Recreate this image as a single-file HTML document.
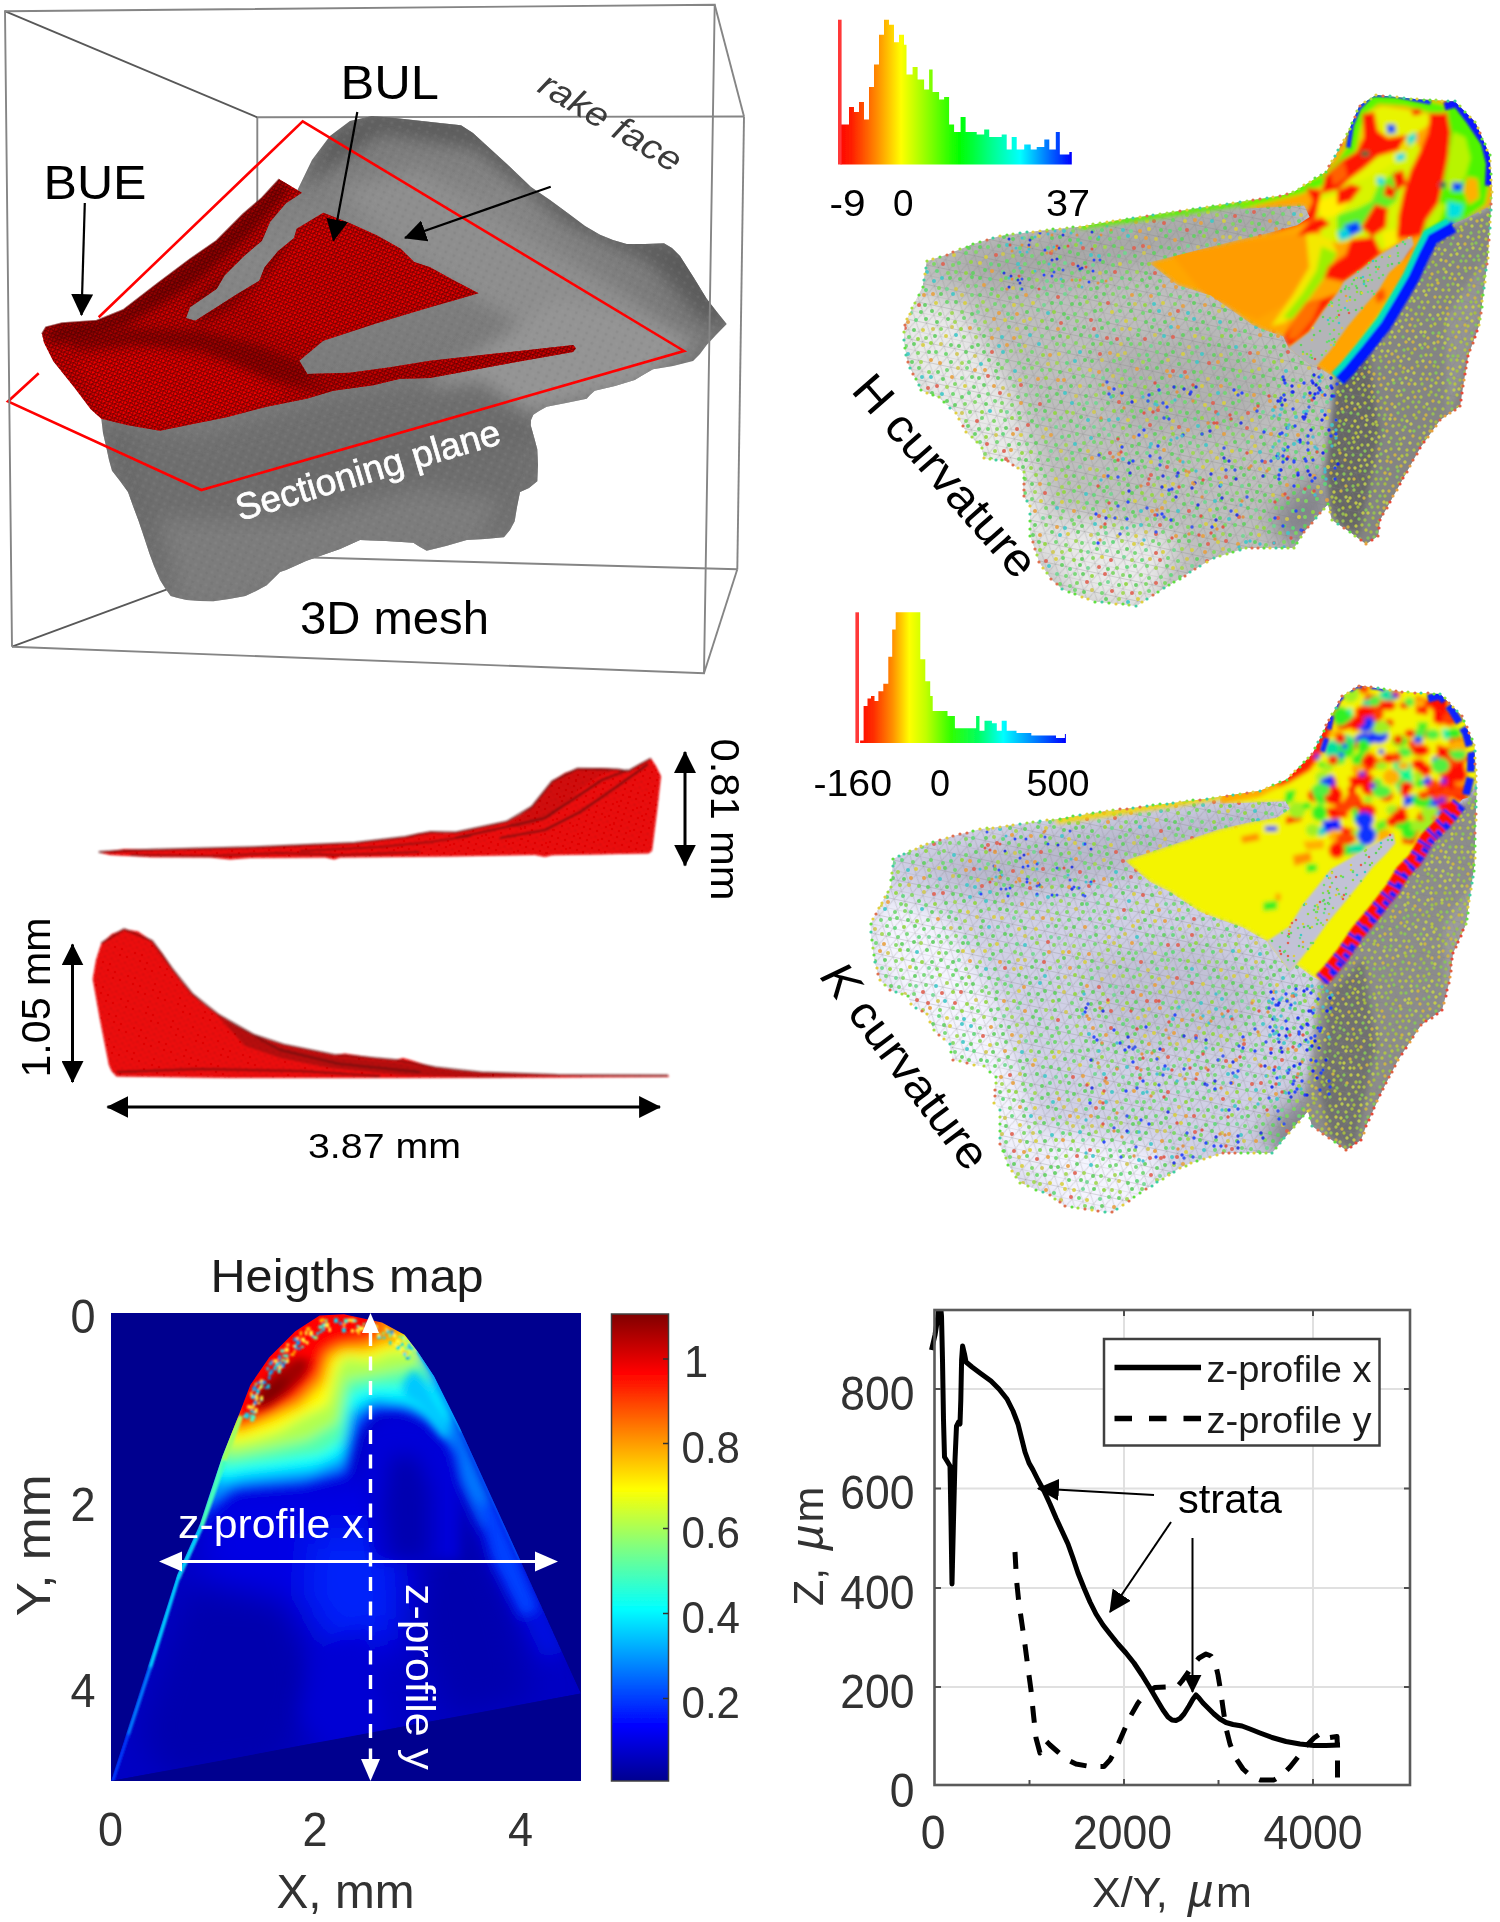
<!DOCTYPE html>
<html><head><meta charset="utf-8"><title>Figure</title>
<style>
html,body{margin:0;padding:0;background:#fff;}
body{width:1500px;height:1922px;overflow:hidden;font-family:"Liberation Sans",sans-serif;}
svg{display:block}
text{font-family:"Liberation Sans",sans-serif;}
</style></head><body>
<svg width="1500" height="1922" viewBox="0 0 1500 1922">
<defs>
<marker id="ah" viewBox="0 0 10 10" refX="9.5" refY="5" markerWidth="22" markerHeight="22" markerUnits="userSpaceOnUse" orient="auto-start-reverse"><path d="M0,0 L10,5 L0,10 Z" fill="#000"/></marker>
<marker id="ahs" viewBox="0 0 10 10" refX="9.5" refY="5" markerWidth="18" markerHeight="18" markerUnits="userSpaceOnUse" orient="auto-start-reverse"><path d="M0,0 L10,5 L0,10 Z" fill="#000"/></marker>
<marker id="ahw" viewBox="0 0 10 10" refX="9.5" refY="5" markerWidth="20" markerHeight="20" markerUnits="userSpaceOnUse" orient="auto-start-reverse"><path d="M0,0 L10,5 L0,10 Z" fill="#fff"/></marker>
</defs>
<filter id="gblur" x="0" y="0" width="1500" height="1922" filterUnits="userSpaceOnUse"><feGaussianBlur stdDeviation="0.6"/></filter>
<rect width="1500" height="1922" fill="#fff"/>
<g filter="url(#gblur)">
<rect width="1500" height="1922" fill="#fff"/>
<!-- ===== 3D mesh (top left) ===== -->
<g id="mesh3d">
<defs>
<linearGradient id="gbody" x1="0" y1="0" x2="0.3" y2="1"><stop offset="0" stop-color="#6e6e6e"/><stop offset="0.35" stop-color="#868686"/><stop offset="0.7" stop-color="#747474"/><stop offset="1" stop-color="#787878"/></linearGradient>
<filter id="mb2" x="-10%" y="-10%" width="120%" height="120%"><feGaussianBlur stdDeviation="2"/></filter>
<filter id="mb5" x="-20%" y="-20%" width="140%" height="140%"><feGaussianBlur stdDeviation="5"/></filter>
<filter id="mb9" x="-30%" y="-30%" width="160%" height="160%"><feGaussianBlur stdDeviation="9"/></filter>
<filter id="mb07" x="-5%" y="-5%" width="110%" height="110%"><feGaussianBlur stdDeviation="0.700000"/></filter>
<pattern id="rmesh" width="5" height="4.4" patternUnits="userSpaceOnUse" patternTransform="rotate(-20)"><rect width="5" height="4.4" fill="none"/><path d="M0,0 L5,0 M0,0 L2.5,4.4 L5,0" stroke="#400000" stroke-width="1.1" fill="none" opacity="0.7"/></pattern>
<pattern id="gmesh" width="9" height="7" patternUnits="userSpaceOnUse" patternTransform="rotate(25)"><circle cx="2" cy="2" r="1.6" fill="#a0a0a0" opacity="0.13"/><circle cx="6.5" cy="5" r="1.4" fill="#505050" opacity="0.12"/></pattern>
<clipPath id="bodyclip"><polygon id="bodypoly" points="296,193 312,160 330,136 350,121 372,116 395,118 413,120 440,123 461,125.3 473,133 485,144 508,165 531,187 550,200 568,213.3 585,226 600,234.7 613,240 626.7,244 645,244 664,243.2 672,248 680,256 694,278 706.7,298.7 717,312 726.7,324 716,335 706.7,345 700,354 693,361 673,366 653,369.3 643,375 634.7,380 615,386 594.7,390.7 590,395 586.7,398.7 566,403 546.7,406.7 539,411 533.3,414.7 531,420 530.7,425.3 534,437 537.3,449.3 538,465 537.3,481.3 529,488 520,492 517,507 514.7,521.3 510,530 504,537.3 485,539 466.7,540 446,546 426.7,550.7 420,547 413.3,542.7 386,541 360,540 340,549 320,556 306,561 293.3,566.7 286,570 280,572 273,579 266.7,585.3 256,591 245.3,596 229,599 213.3,601.3 200,601 186.7,600 178,598 170.7,596 165,588 160,580 154,566 149.3,553.3 144,537 138.7,521.3 133,506 128,492 120,481 112,470.7 109,460 106.7,449.3 103,433 101.3,418.7 100,380 123,313 158,286 190,262 216,243 243,216 279,182"/></clipPath>
<clipPath id="redclip"><path id="redpath" d="M42,334 L46,327.3 L62,323.3 L96.7,320.7 L123.3,310 L158,283.3 L190,259.3 L216.7,240.7 L243.3,214 L262,198 L279.3,179.3 L302,192.7 L286,203.3 L270,222 L262,240.7 L243.3,256.7 L224.7,275.3 L216.7,288.7 L190,307.3 L186,318 L195.3,320.7 L216.7,307.3 L235.3,295.3 L259.3,280.7 L264.7,267.3 L278,251.3 L294,238 L296.7,228.7 L323.3,212.7 L350,223.3 L376.7,235.3 L400.7,248.7 L414,262 L430,267.3 L455,281 L478.7,293.3 L452,301 L430,307.3 L376.7,323.3 L323.3,340.7 L299.3,360.7 L307.3,374 L350,372.7 L390,367.3 L430,360.7 L500,353 L573.300000,345 L576,348.5 L573,352 L500,365 L430,378 L400,378.7 L373.3,385.3 L333.3,390.7 L306.7,398.7 L266.7,406.7 L226.7,417.3 L186.7,425.3 L160,430.7 L128,425.3 L101.3,418.7 L90.7,409.3 L74.7,388 L53.3,361.3 L44,342.7 Z"/></clipPath>
</defs>
<!-- bounding box (back lines) -->
<g stroke="#858585" stroke-width="1.9" fill="none">
<line x1="257.3" y1="117.3" x2="744" y2="116.5"/>
<line x1="257.3" y1="117.3" x2="257.300000" y2="560"/>
<line x1="257.3" y1="556" x2="737.3" y2="569.3"/>
<line x1="744" y1="116.5" x2="737.3" y2="569.3"/>
</g>
<g stroke="#585858" stroke-width="1.8" fill="none">
<line x1="4.8" y1="11.2" x2="257.3" y2="117.3"/>
<line x1="12" y1="646.7" x2="257.3" y2="556"/>
</g>
<!-- gray body -->
<g clip-path="url(#bodyclip)">
<rect x="90" y="100" width="650" height="520" fill="url(#gbody)"/>
<g filter="url(#mb9)">
<polygon points="300,190 330,135 372,112 470,118 560,198 640,238 690,246 730,324 705,322 650,262 565,222 475,148 380,132" fill="#5a5a5a"/>
<polygon points="340,190 420,170 520,230 620,290 690,340 600,370 480,300 400,250" fill="#8e8e8e"/>
<polygon points="560,300 700,340 640,385 540,410 420,420 430,380" fill="#949494"/>
<polygon points="100,420 200,440 330,400 480,380 540,420 540,480 500,540 400,545 300,565 250,600 170,600 130,500" fill="#6e6e6e"/>
<polygon points="250,470 520,410 540,440 300,500" fill="#6a6a6a"/>
<polygon points="160,520 300,520 420,490 500,500 480,540 300,570 240,600 180,600" fill="#7c7c7c"/>
<polygon points="102,418 130,430 150,520 170,596 140,540 105,450" fill="#6a6a6a"/>
</g>
<rect x="90" y="100" width="650" height="520" fill="url(#gmesh)"/>
</g>
<!-- red BUE/BUL -->
<g clip-path="url(#redclip)">
<rect x="30" y="170" width="560" height="270" fill="#de0000"/>
<g filter="url(#mb5)">
<polygon points="42,334 62,323 97,320 123,310 158,283 216,240 262,198 279,179 290,190 250,235 200,280 160,305 125,325 90,335 55,345" fill="#8e0000"/>
<polygon points="60,340 130,328 200,330 260,345 320,370 330,395 270,380 200,350 130,345 80,350" fill="#a00000"/>
<polygon points="75,360 150,350 230,365 290,395 230,415 160,428 105,415" fill="#f60000"/>
<polygon points="300,235 325,215 400,250 470,292 380,320 320,338 270,330 255,300" fill="#ee0000"/>
<polygon points="190,300 262,245 296,230 270,270 230,310 200,325" fill="#a80000"/>
<polygon points="300,378 430,364 573,346 573,352 430,378 330,392" fill="#c80000"/>
</g>
<rect x="30" y="170" width="560" height="270" fill="url(#rmesh)"/>
</g>
<path d="M42,334 L46,327.3 L62,323.3 L96.7,320.7 L123.3,310 L158,283.3 L190,259.3 L216.7,240.7 L243.3,214 L262,198 L279.3,179.3" fill="none" stroke="#6a0000" stroke-width="2" opacity="0.6"/>
<!-- sectioning plane (red outline) -->
<g stroke="#ff0000" stroke-width="2.6" fill="none" stroke-linejoin="miter">
<polyline points="98.7,317.3 302.7,121.3 684,351 201.3,490 8,401.500000 38.7,373.3"/>
</g>
<!-- bounding box front lines -->
<g stroke="#858585" stroke-width="1.9" fill="none">
<polyline points="12,646.7 5,11.2 714.7,4.8 704,673.3 12,646.7"/>
<line x1="714.7" y1="4.8" x2="744" y2="116.5"/>
<line x1="704" y1="673.3" x2="737.3" y2="569.3"/>
</g>
<!-- labels -->
<text x="43.5" y="198.700000" font-size="49" fill="#000" textLength="103" lengthAdjust="spacingAndGlyphs">BUE</text>
<text x="340.5" y="98.700000" font-size="49" fill="#000" textLength="98.5" lengthAdjust="spacingAndGlyphs">BUL</text>
<text x="300" y="633.500000" font-size="45.5" fill="#000" textLength="189" lengthAdjust="spacingAndGlyphs">3D mesh</text>
<text transform="translate(536,91) rotate(31)" font-size="35" font-style="italic" fill="#3a3a3a" textLength="160" lengthAdjust="spacingAndGlyphs">rake face</text>
<text transform="translate(240,521) rotate(-16.5)" font-size="37" fill="#fff" stroke="#fff" stroke-width="0.7" textLength="274" lengthAdjust="spacingAndGlyphs">Sectioning plane</text>
<g stroke="#000" stroke-width="2.2" fill="none">
<line x1="84.8" y1="203" x2="81.5" y2="315" marker-end="url(#ah)"/>
<line x1="357.3" y1="112" x2="333.5" y2="240.5" marker-end="url(#ah)"/>
<line x1="550.7" y1="186.7" x2="405" y2="237.8" marker-end="url(#ah)"/>
</g>
</g>
<!-- ===== curvature panels (right) ===== -->
<g id="curv">
<defs>
<filter id="cb05" x="-30%" y="-30%" width="160%" height="160%"><feGaussianBlur stdDeviation="0.5"/></filter>
<filter id="cb1" x="-30%" y="-30%" width="160%" height="160%"><feGaussianBlur stdDeviation="1"/></filter>
<filter id="cb2" x="-30%" y="-30%" width="160%" height="160%"><feGaussianBlur stdDeviation="2"/></filter>
<filter id="cb3" x="-30%" y="-30%" width="160%" height="160%"><feGaussianBlur stdDeviation="3"/></filter>
<filter id="cb6" x="-30%" y="-30%" width="160%" height="160%"><feGaussianBlur stdDeviation="6"/></filter>
<filter id="cb12" x="-30%" y="-30%" width="160%" height="160%"><feGaussianBlur stdDeviation="12"/></filter>
<clipPath id="Hclip"><polygon points="926.7,261.3 946.7,254.7 973.3,244.0 1000.0,236.0 1040.0,230.7 1080.0,226.7 1120.0,220.0 1173.3,212.0 1226.7,204.0 1280.0,196.0 1293.4,192.3 1326.5,171.6 1347.1,134.4 1359.5,105.5 1376.1,95.1 1417.4,99.3 1454.6,101.3 1475.3,122.0 1489.7,155.1 1491.8,192.3 1487.7,258.4 1479.4,324.6 1468.0,356.0 1464.0,380.0 1460.0,406.0 1440.0,420.0 1420.0,448.0 1400.0,484.0 1380.0,520.0 1378.0,536.0 1366.0,544.0 1350.0,532.0 1332.0,520.0 1328.0,504.0 1304.0,532.0 1294.0,548.0 1246.0,548.0 1214.0,558.0 1200.0,566.0 1169.4,585.0 1136.3,605.7 1095.0,601.5 1061.9,589.1 1051.3,579.2 1039.2,561.9 1030.5,535.9 1030.5,506.4 1023.6,496.0 1023.6,471.7 1008.0,461.3 983.7,457.9 982.0,447.5 966.4,431.9 956.0,412.8 938.7,397.2 921.3,390.3 907.5,362.5 904.0,340.0 904.8,324.6 914.7,302.7 922.7,286.7"/></clipPath>
<clipPath id="Kclip"><polygon points="893.3,858.7 926.7,844.0 953.3,836.0 980.0,829.3 1020.0,824.0 1060.0,818.7 1100.0,812.0 1153.3,805.3 1206.7,798.7 1260.0,790.7 1286.7,779.5 1312.3,753.9 1329.3,719.7 1342.1,696.3 1359.2,685.6 1401.9,692.0 1440.3,694.1 1461.6,715.5 1474.4,745.3 1476.5,788.0 1474.4,864.8 1465.9,924.5 1453.1,953.0 1449.0,983.0 1442.0,1010.0 1421.0,1025.0 1398.0,1060.0 1383.0,1089.0 1366.0,1126.0 1361.0,1140.0 1346.0,1150.0 1329.0,1138.0 1312.0,1126.0 1308.0,1111.0 1284.5,1138.0 1272.0,1153.0 1223.0,1153.0 1191.0,1163.0 1180.0,1168.0 1145.9,1189.1 1111.7,1212.5 1064.8,1206.1 1050.0,1194.8 1036.1,1189.6 1020.5,1182.7 1008.4,1165.3 999.7,1144.5 999.7,1109.9 994.5,1102.9 996.3,1076.9 984.1,1066.5 973.7,1064.8 953.0,1059.6 949.5,1044.0 933.9,1030.1 926.9,1014.5 911.3,1004.1 907.9,995.5 890.5,990.3 880.1,979.9 874.9,962.5 871.5,940.0 870.7,924.5 878.7,908.0 890.7,886.7"/></clipPath>
<pattern id="tri" width="11" height="19" patternUnits="userSpaceOnUse" patternTransform="rotate(12)"><path d="M0,0 L11,0 M0,9.5 L11,9.5 M0,0 L5.5,9.5 L11,0 M0,19 L5.5,9.5 L11,19" stroke="#808080" stroke-width="0.7" fill="none" opacity="0.4"/></pattern>
</defs>
<linearGradient id="hgH" gradientUnits="userSpaceOnUse" x1="837.9" y1="0" x2="1071.8" y2="0"><stop offset="0" stop-color="#ff0000"/><stop offset="0.06" stop-color="#ff2000"/><stop offset="0.17" stop-color="#ff9000"/><stop offset="0.27" stop-color="#ffff00"/><stop offset="0.38" stop-color="#90ff00"/><stop offset="0.52" stop-color="#00ff00"/><stop offset="0.66" stop-color="#00ff90"/><stop offset="0.78" stop-color="#00ffff"/><stop offset="0.9" stop-color="#0070ff"/><stop offset="1" stop-color="#0000ff"/></linearGradient>
<polygon points="837.9,164.5 837.9,164.5 840.5,164.5 840.5,124.6 846.5,124.6 846.5,124.6 849.0,124.6 849.0,107.1 854.0,107.1 854.0,112.1 859.0,112.1 859.0,102.1 864.0,102.1 864.0,119.6 869.0,119.6 869.0,87.1 874.0,87.1 874.0,64.6 879.0,64.6 879.0,34.7 884.0,34.7 884.0,19.7 889.0,19.7 889.0,24.7 894.0,24.7 894.0,42.2 899.0,42.2 899.0,34.7 904.0,34.7 904.0,44.7 906.5,44.7 906.5,74.6 912.6,74.6 912.6,67.1 917.6,67.1 917.6,79.6 924.1,79.6 924.1,89.6 929.1,89.6 929.1,69.6 932.6,69.6 932.6,92.1 939.1,92.1 939.1,99.6 944.1,99.6 944.1,97.1 949.1,97.1 949.1,124.6 954.1,124.6 954.1,132.0 960.6,132.0 960.6,117.1 965.6,117.1 965.6,132.0 976.7,132.0 976.7,134.5 984.2,134.5 984.2,129.5 989.2,129.5 989.2,137.0 1001.7,137.0 1001.7,134.5 1006.7,134.5 1006.7,149.5 1011.7,149.5 1011.7,137.0 1016.7,137.0 1016.7,149.5 1024.2,149.5 1024.2,144.5 1030.7,144.5 1030.7,149.5 1036.7,149.5 1036.7,147.0 1044.3,147.0 1044.3,139.5 1049.3,139.5 1049.3,149.5 1055.8,149.5 1055.8,132.0 1059.8,132.0 1059.8,154.5 1069.3,154.5 1069.3,152.0 1071.8,152.0 1071.8,164.5 1071.8,164.5" fill="url(#hgH)"/>
<line x1="839.8" y1="19.7" x2="839.8" y2="164.5" stroke="#ff3838" stroke-width="3.6"/>
<linearGradient id="hgK" gradientUnits="userSpaceOnUse" x1="857.2" y1="0" x2="1065.9" y2="0"><stop offset="0" stop-color="#ff0000"/><stop offset="0.08" stop-color="#ff3000"/><stop offset="0.17" stop-color="#ff9000"/><stop offset="0.25" stop-color="#ffff00"/><stop offset="0.33" stop-color="#c0ff00"/><stop offset="0.45" stop-color="#30ff00"/><stop offset="0.58" stop-color="#00ff60"/><stop offset="0.7" stop-color="#00ffff"/><stop offset="0.85" stop-color="#0080ff"/><stop offset="1" stop-color="#0000ff"/></linearGradient>
<polygon points="857.2,743.0 857.2,743.0 860.1,743.0 860.1,740.5 863.6,740.5 863.6,706.0 867.5,706.0 867.5,698.6 871.0,698.6 871.0,696.1 874.5,696.1 874.5,701.1 878.4,701.1 878.4,691.2 883.3,691.2 883.3,683.8 888.3,683.8 888.3,656.7 892.2,656.7 892.2,629.6 895.7,629.6 895.7,612.3 917.9,612.3 917.9,612.3 920.3,612.3 920.3,659.2 925.3,659.2 925.3,681.3 930.2,681.3 930.2,696.1 932.7,696.1 932.7,710.9 947.5,710.9 947.5,715.9 954.9,715.9 954.9,728.2 972.1,728.2 972.1,728.2 976.1,728.2 976.1,715.9 979.5,715.9 979.5,730.7 984.5,730.7 984.5,720.8 991.9,720.8 991.9,723.3 996.8,723.3 996.8,730.7 1001.7,730.7 1001.7,720.8 1006.7,720.8 1006.7,730.7 1016.5,730.7 1016.5,733.1 1031.3,733.1 1031.3,735.6 1046.1,735.6 1046.1,735.6 1056.0,735.6 1056.0,738.1 1064.9,738.1 1064.9,734.1 1065.9,734.1 1065.9,743.0 1065.9,743.0" fill="url(#hgK)"/>
<line x1="857.2" y1="612.3" x2="857.2" y2="743" stroke="#ff3838" stroke-width="3.6"/>
<g font-size="36.5" fill="#000">
<text x="829.5" y="215.5" textLength="36" lengthAdjust="spacingAndGlyphs">-9</text><text x="893" y="215.5" textLength="20.5" lengthAdjust="spacingAndGlyphs">0</text><text x="1046" y="215.5" textLength="44" lengthAdjust="spacingAndGlyphs">37</text>
<text x="813.5" y="796" textLength="78.5" lengthAdjust="spacingAndGlyphs">-160</text><text x="930" y="796" textLength="20" lengthAdjust="spacingAndGlyphs">0</text><text x="1026.5" y="796" textLength="63" lengthAdjust="spacingAndGlyphs">500</text>
</g>
<g clip-path="url(#Hclip)">
<rect x="899" y="90" width="598" height="521" fill="#bebebe"/>
<g filter="url(#cb12)">
<polygon points="896.5,283.2 962.7,308.0 1012.3,390.7 1037.1,473.4 1061.9,580.9 1012.3,535.4 942.0,432.1 888.3,349.4" fill="#e9e9e9"/>
<polygon points="1053.6,514.7 1177.6,535.4 1152.8,613.9 1066.0,597.4" fill="#e9e9e9"/>
<polygon points="929.6,258.4 1078.4,225.4 1293.4,196.4 1293.4,233.6 1144.6,266.7 1004.0,291.5" fill="#a8a8a8"/>
<polygon points="1095.0,349.4 1210.7,328.7 1276.9,374.2 1243.8,432.1 1128.0,432.1" fill="#a8a8a8" opacity="0.6"/>
<polygon points="1268.6,518.9 1322.3,465.1 1332.7,514.7 1297.5,551.9" fill="#808088"/>
</g>
<g filter="url(#cb3)"><polygon points="1489.6,206.5 1465.3,218.7 1453.2,223.9 1430.7,236.0 1422.0,253.3 1411.6,275.9 1399.5,296.7 1383.9,322.7 1364.8,346.9 1347.5,367.7 1336.2,379.0 1332.0,440.0 1326.5,506.5 1340.0,530.0 1367.8,560.0 1500.0,560.0 1500.0,150.0" fill="#848484"/>
<polygon points="1334.7,382.4 1367.8,349.4 1380.2,432.1 1359.5,535.4 1334.7,523.0 1324.4,473.4" fill="#666666"/>
<polygon points="1446.3,316.3 1487.7,254.3 1479.4,324.6 1446.3,423.8" fill="#949494"/></g>
<rect x="899" y="90" width="598" height="521" fill="url(#tri)"/>
<g opacity="0.9"><path d="M1379 97h0M1407 99h0M1391 105h0M1356 125h0M1410 140h0M1451 154h0M1372 171h0M1392 189h0M1428 199h0M1392 204h0M1430 204h0M1471 207h0M1371 213h0M1401 223h0M1102 230h0M1170 231h0M1388 230h0M1078 240h0M1048 248h0M1219 245h0M1341 245h0M1360 246h0M1378 248h0M1109 255h0M1119 256h0M991 264h0M1314 264h0M1397 263h0M937 271h0M1080 270h0M1262 272h0M1325 270h0M990 279h0M1102 281h0M1122 278h0M926 290h0M1021 289h0M1047 294h0M1159 294h0M1197 295h0M1226 294h0M1378 297h0M1061 303h0M1297 304h0M1309 303h0M1345 304h0M1391 306h0M1008 314h0M1038 310h0M1200 311h0M1238 310h0M1283 311h0M916 320h0M1154 320h0M1319 322h0M1336 318h0M1114 330h0M1341 331h0M1307 338h0M1335 338h0M1019 345h0M1111 343h0M1197 347h0M1147 355h0M1240 354h0M1067 363h0M1130 379h0M1061 387h0M1158 386h0M1239 387h0M969 393h0M1305 394h0M1156 418h0M1195 419h0M1077 426h0M1114 426h0M1003 434h0M1062 437h0M1190 443h0M1248 442h0M1072 453h0M1240 450h0M1296 452h0M1057 459h0M1130 461h0M1323 459h0M1108 469h0M1307 467h0M1317 467h0M1264 476h0M1325 484h0M1094 495h0M1087 503h0M1303 510h0M1194 516h0M1134 526h0M1293 528h0M1094 543h0M1113 542h0M1142 560h0M1070 569h0M1127 567h0M1171 575h0" stroke="#60d878" stroke-width="4.0" stroke-linecap="round" fill="none"/><path d="M1388 100h0M1365 105h0M1452 105h0M1483 146h0M1338 158h0M1346 154h0M1364 157h0M1381 158h0M1395 156h0M1300 189h0M1208 212h0M1301 215h0M1436 211h0M1147 221h0M1185 221h0M1224 221h0M1411 221h0M1149 229h0M1236 229h0M1437 231h0M1136 237h0M1230 237h0M1240 238h0M1056 248h0M954 255h0M986 257h0M1343 255h0M1353 255h0M1363 254h0M980 263h0M1120 264h0M1385 273h0M1332 280h0M1301 297h0M1350 295h0M936 303h0M965 303h0M1014 305h0M1033 303h0M1163 303h0M1223 306h0M1364 305h0M1112 312h0M1351 313h0M1005 320h0M1030 319h0M1126 321h0M923 330h0M1130 329h0M1321 328h0M946 336h0M1195 336h0M1315 335h0M923 345h0M1059 354h0M1118 355h0M1183 354h0M1328 353h0M1282 361h0M1323 362h0M1352 360h0M1090 370h0M1020 380h0M965 386h0M1080 386h0M1202 386h0M1299 386h0M1236 393h0M1135 401h0M1205 405h0M1224 403h0M1150 409h0M1128 420h0M1252 420h0M1327 418h0M1046 429h0M1217 427h0M1256 429h0M1021 435h0M1146 436h0M1255 446h0M1232 451h0M1251 452h0M1151 462h0M1217 458h0M1203 467h0M1212 470h0M1222 469h0M1328 467h0M1056 479h0M1187 475h0M1165 486h0M1173 484h0M1221 483h0M1162 495h0M1273 495h0M1041 501h0M1062 502h0M1135 501h0M1104 511h0M1210 510h0M1236 511h0M1116 518h0M1299 517h0M1206 524h0M1215 525h0M1068 534h0M1136 536h0M1259 535h0M1134 544h0M1142 544h0M1218 542h0M1163 552h0M1192 550h0M1056 559h0M1102 557h0M1173 568h0M1138 599h0" stroke="#d8d040" stroke-width="4.0" stroke-linecap="round" fill="none"/><path d="M1400 100h0M1390 115h0M1405 116h0M1372 124h0M1476 141h0M1426 148h0M1353 156h0M1443 165h0M1425 183h0M1308 187h0M1422 187h0M1377 195h0M1400 197h0M1217 215h0M1399 212h0M1334 220h0M1311 230h0M1365 240h0M1037 245h0M1105 247h0M1235 248h0M1321 245h0M1013 256h0M1137 272h0M1214 272h0M1250 272h0M1001 280h0M1037 280h0M1111 279h0M1248 280h0M1380 279h0M1203 285h0M1286 296h0M983 302h0M1022 305h0M1087 302h0M1116 305h0M952 313h0M1244 314h0M1330 312h0M955 322h0M985 322h0M1353 319h0M1363 322h0M1035 329h0M976 337h0M1020 337h0M1203 338h0M1084 347h0M1355 354h0M921 362h0M962 363h0M1057 363h0M1143 362h0M1070 370h0M1079 369h0M1240 371h0M1252 371h0M1327 369h0M1122 379h0M1150 378h0M947 387h0M1120 386h0M1096 395h0M1284 394h0M1073 413h0M1171 410h0M1183 434h0M1066 445h0M1226 443h0M995 451h0M1193 453h0M1066 459h0M1235 461h0M1097 470h0M1219 478h0M1062 487h0M1154 485h0M1035 492h0M1313 492h0M1078 502h0M1155 501h0M1298 500h0M1084 508h0M1109 516h0M1147 519h0M1316 517h0M1114 525h0M1257 527h0M1223 534h0M1076 541h0M1122 541h0M1062 552h0M1182 549h0M1240 549h0M1132 560h0M1156 568h0M1182 568h0M1123 593h0M1140 593h0M1119 599h0" stroke="#a0d850" stroke-width="4.0" stroke-linecap="round" fill="none"/><path d="M1375 106h0M1384 106h0M1409 129h0M1437 133h0M1385 137h0M1398 164h0M1470 171h0M1399 180h0M1436 181h0M1292 199h0M1443 206h0M1458 205h0M1420 223h0M1263 229h0M1090 238h0M1289 240h0M1298 238h0M1405 237h0M1292 249h0M1351 248h0M1060 257h0M934 264h0M953 265h0M1226 261h0M956 272h0M1127 272h0M1173 270h0M1268 273h0M1076 280h0M1084 278h0M968 286h0M1107 286h0M1137 286h0M1010 298h0M1076 297h0M1140 295h0M1236 297h0M977 306h0M1338 304h0M1101 310h0M1313 310h0M1371 312h0M1281 321h0M1373 322h0M1359 327h0M964 337h0M1210 339h0M1057 344h0M1140 344h0M918 353h0M1120 359h0M1189 361h0M1302 363h0M1050 370h0M1118 370h0M1282 379h0M955 384h0M1100 385h0M1135 385h0M1182 387h0M1230 384h0M1309 388h0M965 404h0M1002 403h0M1012 405h0M1195 402h0M970 412h0M1102 409h0M1132 411h0M1236 413h0M994 421h0M1020 418h0M1050 420h0M1161 428h0M1046 442h0M1156 452h0M991 459h0M1073 459h0M1255 462h0M1284 459h0M1192 470h0M1025 479h0M1095 478h0M1178 476h0M1049 484h0M1188 495h0M1196 492h0M1070 501h0M1129 500h0M1270 501h0M1046 508h0M1276 508h0M1074 524h0M1225 525h0M1251 534h0M1296 533h0M1066 545h0M1169 541h0M1266 545h0M1081 551h0M1113 573h0M1077 583h0M1146 584h0M1165 583h0" stroke="#78d860" stroke-width="4.0" stroke-linecap="round" fill="none"/><path d="M1401 106h0M1427 117h0M1435 116h0M1447 113h0M1421 123h0M1377 131h0M1475 133h0M1441 139h0M1360 146h0M1463 148h0M1487 157h0M1424 164h0M1476 166h0M1412 170h0M1452 172h0M1320 179h0M1409 182h0M1454 181h0M1376 188h0M1385 189h0M1439 188h0M1451 189h0M1486 189h0M1360 197h0M1445 199h0M1454 195h0M1177 213h0M1226 216h0M1247 212h0M1283 214h0M1407 213h0M1093 231h0M1180 229h0M1206 230h0M1110 239h0M988 247h0M1020 248h0M1207 245h0M1305 246h0M1333 247h0M1032 256h0M1184 254h0M1213 255h0M1249 253h0M1289 255h0M1025 264h0M1044 262h0M1054 265h0M1219 261h0M1256 263h0M1351 262h0M1014 271h0M1072 273h0M1056 280h0M1190 277h0M1225 280h0M976 286h0M1002 289h0M1091 289h0M1119 288h0M1127 288h0M1253 288h0M1260 290h0M1355 286h0M1393 288h0M972 295h0M991 294h0M1171 295h0M1180 297h0M1267 298h0M1340 296h0M1358 296h0M1399 296h0M995 304h0M1075 314h0M1120 311h0M1143 313h0M1339 313h0M964 318h0M1012 318h0M1186 319h0M1290 321h0M1325 321h0M1064 329h0M1139 330h0M1208 329h0M1226 330h0M1042 336h0M1090 336h0M1250 338h0M906 346h0M988 345h0M1064 345h0M1255 347h0M1032 352h0M1069 352h0M1139 355h0M1157 352h0M1192 353h0M1231 354h0M1308 351h0M969 362h0M1007 361h0M1019 363h0M1114 361h0M1244 360h0M1313 363h0M947 370h0M967 368h0M1042 370h0M1125 371h0M1277 368h0M962 378h0M1083 376h0M1141 378h0M1238 376h0M1313 376h0M1014 386h0M1041 387h0M1167 386h0M1175 387h0M1194 387h0M1317 384h0M988 394h0M1026 395h0M1142 393h0M1225 393h0M1264 393h0M1292 395h0M995 401h0M1079 404h0M1185 402h0M1239 401h0M1281 403h0M1029 413h0M1180 412h0M982 418h0M1005 420h0M1213 419h0M1272 418h0M1064 426h0M1228 428h0M1236 425h0M1077 434h0M1118 438h0M1194 437h0M1307 436h0M1319 434h0M980 442h0M997 442h0M1027 444h0M1094 442h0M1159 442h0M1198 446h0M1275 444h0M1303 443h0M1126 454h0M1271 451h0M1019 459h0M1178 459h0M1189 462h0M1198 460h0M1128 470h0M1157 469h0M1290 467h0M1130 475h0M1200 478h0M1210 479h0M1090 484h0M1119 484h0M1183 486h0M1211 485h0M1032 499h0M1107 501h0M1240 500h0M1277 500h0M1063 511h0M1124 509h0M1293 511h0M1072 520h0M1135 516h0M1155 519h0M1202 517h0M1214 516h0M1251 517h0M1149 525h0M1200 526h0M1098 534h0M1163 532h0M1192 533h0M1056 542h0M1082 543h0M1153 541h0M1159 544h0M1135 553h0M1229 550h0M1168 558h0M1178 561h0M1135 566h0M1147 566h0M1066 576h0M1075 574h0M1149 578h0M1161 577h0M1070 586h0M1075 590h0M1102 593h0M1149 591h0" stroke="#70d870" stroke-width="4.0" stroke-linecap="round" fill="none"/><path d="M1411 107h0M1377 114h0M1455 115h0M1364 123h0M1384 122h0M1411 122h0M1430 124h0M1457 122h0M1470 122h0M1446 133h0M1454 133h0M1404 139h0M1452 138h0M1468 140h0M1341 147h0M1352 147h0M1398 148h0M1417 150h0M1476 146h0M1375 157h0M1421 157h0M1430 156h0M1457 158h0M1477 157h0M1331 165h0M1368 162h0M1407 164h0M1453 163h0M1463 165h0M1345 171h0M1392 174h0M1430 172h0M1441 174h0M1417 182h0M1402 190h0M1413 189h0M1368 195h0M1418 197h0M1434 199h0M1484 196h0M1491 197h0M1229 205h0M1268 207h0M1280 206h0M1289 207h0M1299 205h0M1326 203h0M1355 204h0M1367 204h0M1455 216h0M1127 221h0M1240 221h0M1259 224h0M1277 223h0M1308 221h0M1325 220h0M1355 221h0M1366 221h0M1383 220h0M1391 223h0M1161 230h0M1200 232h0M1217 232h0M1225 228h0M1255 230h0M1292 230h0M1330 229h0M1342 231h0M1352 229h0M1399 229h0M1004 237h0M1013 239h0M1032 238h0M1052 238h0M1060 237h0M1070 240h0M1098 239h0M1166 236h0M1182 239h0M1194 236h0M1278 238h0M1325 239h0M1346 236h0M1354 239h0M1381 238h0M1413 238h0M969 248h0M980 247h0M999 246h0M1114 246h0M1161 247h0M1169 248h0M1179 248h0M1228 246h0M1275 245h0M1285 245h0M1388 245h0M1399 246h0M1408 244h0M1417 247h0M1022 255h0M1042 254h0M1070 252h0M1078 254h0M1135 256h0M1154 253h0M1175 255h0M1191 256h0M1268 254h0M999 265h0M1039 263h0M1085 263h0M1103 262h0M1142 264h0M1177 264h0M1190 261h0M1209 264h0M1295 263h0M1323 264h0M1361 262h0M1369 261h0M973 273h0M985 270h0M1022 272h0M1052 270h0M1059 269h0M1088 272h0M1106 272h0M1146 273h0M1166 272h0M1185 270h0M1201 270h0M1221 269h0M1356 270h0M1395 272h0M950 278h0M960 279h0M972 277h0M980 278h0M1029 279h0M1063 281h0M1094 278h0M1130 279h0M1142 280h0M1150 278h0M1196 280h0M1257 277h0M1263 279h0M1304 280h0M1359 281h0M992 289h0M1032 287h0M1097 288h0M1147 286h0M1157 288h0M1230 287h0M1290 288h0M1297 289h0M1316 287h0M1346 288h0M941 294h0M980 295h0M1017 297h0M1085 297h0M1096 297h0M1104 294h0M1190 296h0M1245 297h0M1293 294h0M1321 296h0M1331 296h0M925 305h0M956 302h0M1052 303h0M1072 304h0M1080 304h0M1129 304h0M1194 303h0M1214 305h0M1252 304h0M1259 304h0M1281 304h0M1318 302h0M1325 302h0M1383 303h0M921 312h0M932 311h0M972 314h0M1027 312h0M1064 314h0M1095 311h0M1131 311h0M1150 311h0M1209 313h0M1225 310h0M1264 311h0M1274 312h0M1323 311h0M926 319h0M937 322h0M948 319h0M1052 320h0M1068 318h0M1100 320h0M1146 322h0M1165 322h0M1203 322h0M1214 318h0M1230 322h0M1241 319h0M1252 321h0M1298 320h0M1307 320h0M1382 321h0M914 330h0M1009 327h0M1026 328h0M1047 328h0M1075 329h0M1084 327h0M1102 328h0M1152 327h0M1160 330h0M1191 329h0M1197 329h0M1283 329h0M1292 329h0M1301 327h0M1313 328h0M935 336h0M984 336h0M1053 338h0M1060 336h0M1081 335h0M1128 339h0M1138 335h0M1183 335h0M1231 336h0M1271 335h0M1325 337h0M1345 335h0M1366 336h0M914 344h0M951 345h0M959 346h0M972 347h0M978 345h0M1093 344h0M1168 344h0M1180 344h0M1209 345h0M1219 345h0M1229 347h0M1245 346h0M1266 347h0M1274 347h0M1284 346h0M1324 345h0M1340 344h0M929 352h0M966 352h0M984 352h0M1090 352h0M1166 355h0M1173 352h0M1214 355h0M1281 355h0M1300 355h0M1318 351h0M1346 354h0M912 362h0M951 362h0M989 360h0M998 364h0M1028 360h0M1085 360h0M1092 361h0M1132 361h0M1162 362h0M1179 364h0M1226 360h0M1238 361h0M919 368h0M938 372h0M996 371h0M1060 372h0M1107 370h0M1147 368h0M1157 368h0M1194 372h0M1224 369h0M1233 370h0M1270 370h0M1296 368h0M943 379h0M972 377h0M979 378h0M998 378h0M1010 378h0M1074 377h0M1162 378h0M1218 378h0M1226 380h0M1254 377h0M1263 376h0M1274 379h0M1301 380h0M974 387h0M984 385h0M1050 388h0M1071 386h0M1090 386h0M1125 386h0M1268 385h0M1327 387h0M932 393h0M962 397h0M979 396h0M1018 397h0M1047 396h0M1057 394h0M1086 396h0M1104 393h0M1113 396h0M1132 397h0M1152 394h0M1168 393h0M1179 396h0M1333 395h0M947 401h0M955 405h0M986 404h0M1049 401h0M1061 402h0M1108 403h0M1128 403h0M1233 403h0M1258 404h0M1309 401h0M1019 413h0M1036 410h0M1045 411h0M1084 409h0M1122 411h0M1141 411h0M1187 413h0M1198 412h0M1285 412h0M1313 411h0M1032 421h0M1071 421h0M1081 417h0M1101 420h0M1134 417h0M1167 417h0M1260 417h0M1279 419h0M968 426h0M979 429h0M1006 428h0M1084 428h0M1130 426h0M1286 425h0M1293 427h0M1302 430h0M975 434h0M1031 436h0M1099 435h0M1155 434h0M1202 434h0M1261 437h0M1326 434h0M1009 445h0M1019 444h0M1036 443h0M1132 446h0M1139 444h0M1170 444h0M1235 442h0M1264 444h0M1330 442h0M1080 450h0M1137 453h0M1172 454h0M1182 451h0M1222 454h0M1278 454h0M1326 451h0M1026 460h0M1038 460h0M1085 459h0M1104 458h0M1115 461h0M1142 461h0M1168 462h0M1225 461h0M1295 459h0M1023 467h0M1041 469h0M1068 467h0M1138 468h0M1232 467h0M1241 468h0M1249 469h0M1074 476h0M1158 478h0M1234 478h0M1244 475h0M1275 477h0M1294 476h0M1323 477h0M1032 484h0M1128 485h0M1137 487h0M1202 483h0M1231 484h0M1249 485h0M1271 486h0M1280 483h0M1104 491h0M1132 493h0M1169 494h0M1219 495h0M1247 492h0M1257 492h0M1265 495h0M1294 493h0M1053 503h0M1097 502h0M1116 503h0M1184 504h0M1221 500h0M1232 500h0M1252 500h0M1260 501h0M1288 503h0M1133 512h0M1168 511h0M1197 508h0M1217 509h0M1225 508h0M1248 508h0M1264 511h0M1282 508h0M1050 517h0M1079 517h0M1126 518h0M1173 520h0M1220 518h0M1035 525h0M1082 526h0M1105 527h0M1177 524h0M1244 524h0M1284 526h0M1305 526h0M1033 535h0M1052 532h0M1078 532h0M1185 536h0M1214 536h0M1230 535h0M1269 532h0M1039 542h0M1179 541h0M1189 541h0M1200 545h0M1255 542h0M1293 542h0M1118 552h0M1127 549h0M1082 559h0M1197 559h0M1062 565h0M1080 565h0M1108 569h0M1167 566h0M1083 574h0M1130 576h0M1119 585h0M1136 585h0M1084 592h0M1106 599h0" stroke="#60d060" stroke-width="4.0" stroke-linecap="round" fill="none"/><path d="M1423 108h0M1441 123h0M1367 140h0M1394 138h0M1460 140h0M1379 146h0M1463 182h0M1483 182h0M1491 181h0M1336 188h0M1431 190h0M1465 197h0M1222 207h0M1404 207h0M1478 204h0M1264 215h0M1387 212h0M1463 213h0M1173 220h0M1299 221h0M1111 232h0M1444 228h0M1251 236h0M1395 240h0M1246 244h0M1254 246h0M1264 244h0M966 253h0M1165 257h0M959 263h0M1007 261h0M1113 265h0M1043 271h0M1278 270h0M1413 271h0M1006 278h0M1160 281h0M1340 279h0M1051 286h0M1124 297h0M947 302h0M1004 306h0M1231 302h0M1294 312h0M1108 323h0M1245 331h0M1352 330h0M909 337h0M1131 344h0M1160 343h0M936 352h0M946 354h0M1149 360h0M1293 360h0M1024 368h0M1338 368h0M1198 380h0M1293 380h0M1031 386h0M1212 386h0M1252 386h0M1279 386h0M953 394h0M1037 395h0M1156 402h0M1061 418h0M1185 420h0M1224 421h0M1317 419h0M988 429h0M1037 426h0M1209 427h0M1274 429h0M1313 428h0M1069 436h0M1210 436h0M1056 445h0M1181 446h0M1285 444h0M1040 453h0M1287 450h0M1048 460h0M1145 467h0M1175 470h0M1184 470h0M1045 476h0M1142 476h0M1254 478h0M1285 478h0M1099 487h0M1107 487h0M1260 486h0M1309 487h0M1025 493h0M1074 491h0M1177 492h0M1227 493h0M1317 499h0M1093 509h0M1184 517h0M1270 520h0M1122 528h0M1171 527h0M1235 525h0M1128 534h0M1097 549h0M1063 558h0M1180 577h0M1060 584h0M1100 584h0" stroke="#68d868" stroke-width="4.0" stroke-linecap="round" fill="none"/><path d="M1429 105h0M1391 123h0M1370 129h0M1400 130h0M1356 141h0M1430 139h0M1406 147h0M1361 166h0M1380 164h0M1481 164h0M1401 170h0M1487 173h0M1340 180h0M1360 182h0M1446 180h0M1327 189h0M1459 191h0M1480 190h0M1323 195h0M1252 205h0M1372 206h0M1381 207h0M1451 206h0M1311 214h0M1322 211h0M1350 213h0M1289 223h0M1451 221h0M1303 229h0M1039 236h0M1156 239h0M1223 237h0M1198 247h0M1003 254h0M1144 253h0M1201 256h0M1231 255h0M1306 253h0M1319 255h0M1273 265h0M1100 273h0M1195 271h0M1287 273h0M1306 270h0M1346 270h0M1282 280h0M1405 281h0M956 289h0M1013 288h0M962 295h0M1208 296h0M1276 296h0M1135 304h0M1372 302h0M1219 311h0M1389 312h0M1024 321h0M1173 319h0M933 329h0M952 327h0M998 329h0M1017 329h0M1122 329h0M1155 335h0M1297 335h0M941 344h0M1025 346h0M1121 344h0M1189 347h0M1295 344h0M1303 343h0M957 354h0M975 356h0M1125 353h0M1221 355h0M1048 364h0M1102 360h0M1168 360h0M958 368h0M1259 369h0M1309 368h0M1113 376h0M1208 379h0M1003 388h0M1009 395h0M1076 396h0M1188 393h0M1166 403h0M1286 405h0M1297 401h0M962 413h0M1094 412h0M1329 411h0M1147 420h0M1173 421h0M1242 418h0M1172 428h0M996 435h0M1043 437h0M1252 437h0M1121 446h0M1311 443h0M1061 451h0M1088 451h0M1211 452h0M1090 469h0M1260 469h0M1318 487h0M1321 492h0M1165 502h0M1287 519h0M1091 535h0M1118 536h0M1146 532h0M1053 552h0M1223 549h0M1150 559h0M1187 559h0M1092 590h0" stroke="#d0c850" stroke-width="4.0" stroke-linecap="round" fill="none"/><path d="M1440 108h0M1361 113h0M1415 131h0M1374 138h0M1383 172h0M1461 173h0M1390 198h0M1239 203h0M1235 216h0M1254 212h0M1358 215h0M1424 212h0M1154 221h0M1164 223h0M1429 224h0M1187 230h0M1283 230h0M1408 231h0M1260 236h0M1373 239h0M1083 248h0M1134 248h0M1143 246h0M996 255h0M1051 253h0M943 264h0M1073 264h0M1244 265h0M1115 272h0M1155 273h0M1230 270h0M1241 271h0M1273 280h0M1370 281h0M1308 288h0M1058 297h0M919 305h0M1108 303h0M1241 302h0M1178 311h0M1061 323h0M1091 320h0M1260 319h0M905 328h0M1094 329h0M1274 331h0M1371 329h0M1107 338h0M1117 339h0M1145 339h0M1173 337h0M1331 347h0M1352 347h0M992 352h0M1100 354h0M1250 353h0M1288 352h0M1209 363h0M1173 371h0M1185 372h0M1319 368h0M988 376h0M928 388h0M937 386h0M1021 385h0M1000 393h0M1040 404h0M1119 402h0M1213 403h0M1158 410h0M1216 412h0M1248 413h0M977 421h0M1017 429h0M1028 425h0M1150 425h0M1179 427h0M1247 428h0M987 444h0M1004 451h0M1110 453h0M1006 459h0M1265 462h0M1167 467h0M1151 475h0M1226 477h0M1148 484h0M1045 493h0M1189 511h0M1099 516h0M1239 517h0M1278 518h0M1160 525h0M1156 534h0M1208 544h0M1226 541h0M1274 543h0M1156 553h0M1046 561h0M1111 560h0M1160 560h0M1207 561h0M1099 567h0M1105 574h0M1087 582h0M1156 583h0M1112 591h0M1132 593h0" stroke="#e06050" stroke-width="4.0" stroke-linecap="round" fill="none"/><path d="M1458 107h0M1415 113h0M1370 147h0M1390 146h0M1454 149h0M1411 157h0M1468 154h0M1416 163h0M1334 174h0M1363 172h0M1379 179h0M1389 180h0M1315 189h0M1285 199h0M1273 213h0M1419 213h0M1233 224h0M1252 223h0M1345 222h0M1373 221h0M1073 231h0M1244 230h0M1324 231h0M1359 232h0M1369 231h0M1119 238h0M1335 238h0M1065 247h0M976 252h0M1221 257h0M1338 254h0M1375 256h0M1391 254h0M1130 262h0M1161 264h0M1305 261h0M1407 261h0M948 273h0M1375 270h0M1017 279h0M1320 279h0M1352 281h0M1400 279h0M939 288h0M1195 288h0M1240 286h0M1269 289h0M1038 296h0M1113 294h0M1175 304h0M1271 305h0M940 314h0M962 312h0M1086 314h0M1077 321h0M941 329h0M979 329h0M991 330h0M926 338h0M1357 335h0M1046 347h0M1076 343h0M1011 351h0M1270 352h0M1037 363h0M1332 363h0M929 372h0M1002 368h0M1032 368h0M1201 372h0M1026 377h0M1332 378h0M975 402h0M1030 405h0M1252 401h0M1001 411h0M1295 413h0M966 421h0M1231 420h0M1287 420h0M1309 421h0M997 429h0M1127 435h0M1233 434h0M1243 435h0M1084 443h0M1101 443h0M1217 445h0M985 454h0M1202 453h0M1244 459h0M1052 470h0M1062 470h0M1116 469h0M1083 478h0M1124 479h0M1069 483h0M1237 493h0M1145 499h0M1306 501h0M1061 518h0M1166 519h0M1305 517h0M1046 525h0M1188 527h0M1284 542h0M1214 552h0M1093 558h0M1117 568h0M1123 575h0M1141 575h0" stroke="#80d860" stroke-width="4.0" stroke-linecap="round" fill="none"/><path d="M1368 116h0M1399 114h0M1462 116h0M1403 122h0M1427 129h0M1463 131h0M1402 157h0M1441 156h0M1342 165h0M1472 182h0M1355 191h0M1469 190h0M1330 198h0M1474 195h0M1308 204h0M1344 207h0M1339 215h0M1316 224h0M1439 220h0M1131 231h0M1415 228h0M1024 238h0M1188 246h0M1125 253h0M1261 256h0M1329 256h0M1413 254h0M1065 263h0M1093 265h0M1237 261h0M1285 261h0M1378 262h0M1003 272h0M1047 281h0M1179 281h0M1234 277h0M947 289h0M1044 288h0M1062 286h0M1070 289h0M1183 288h0M1365 286h0M1065 294h0M1044 305h0M1288 302h0M911 313h0M978 312h0M975 321h0M1117 321h0M1271 320h0M1219 328h0M1263 330h0M1239 335h0M1290 335h0M1151 346h0M1311 346h0M1338 355h0M1264 360h0M1214 368h0M1093 376h0M1103 378h0M1245 378h0M1287 385h0M1160 393h0M1313 396h0M1087 403h0M1096 403h0M1148 401h0M1172 402h0M1316 403h0M1327 402h0M1007 412h0M1226 409h0M1263 412h0M1043 419h0M1056 427h0M1094 427h0M1104 429h0M1140 427h0M1265 430h0M1109 435h0M1051 451h0M1147 453h0M1317 452h0M1161 461h0M1274 458h0M1080 467h0M1168 478h0M1302 478h0M1242 486h0M1111 494h0M1206 492h0M1304 492h0M1192 503h0M1205 502h0M1256 510h0M1043 518h0M1274 526h0M1106 533h0M1243 536h0M1104 543h0M1088 552h0M1107 551h0M1146 550h0M1174 550h0M1124 557h0M1088 568h0M1192 566h0M1057 574h0M1108 582h0" stroke="#70d890" stroke-width="4.0" stroke-linecap="round" fill="none"/><path d="M1448 122h0M1387 133h0M1420 138h0M1354 171h0M1480 172h0M1333 182h0M1350 183h0M1371 179h0M1346 187h0M1311 199h0M1348 196h0M1319 206h0M1294 214h0M1447 212h0M1212 221h0M1064 231h0M1123 230h0M1427 232h0M1128 236h0M1310 236h0M1007 245h0M1370 246h0M1091 255h0M1099 256h0M1239 256h0M1281 255h0M1018 264h0M1331 262h0M1387 262h0M927 272h0M934 281h0M942 278h0M1217 278h0M1291 280h0M1314 278h0M953 294h0M1154 304h0M1355 305h0M1048 313h0M1159 311h0M1188 313h0M1301 313h0M1194 319h0M1220 322h0M1171 327h0M1256 327h0M956 335h0M1002 337h0M1030 335h0M1097 336h0M1164 336h0M999 346h0M1039 344h0M1236 347h0M1361 345h0M908 354h0M1003 352h0M1080 352h0M1202 354h0M981 364h0M1075 361h0M1197 362h0M1015 371h0M1286 371h0M922 377h0M931 377h0M1181 376h0M942 394h0M1065 393h0M1218 393h0M1072 403h0M990 411h0M1273 410h0M1304 412h0M1322 411h0M1088 420h0M1109 420h0M1118 419h0M1296 417h0M1198 426h0M1332 425h0M1091 438h0M1075 444h0M1151 444h0M1206 445h0M1294 444h0M1260 452h0M1123 459h0M1280 470h0M1086 494h0M1215 501h0M1057 508h0M1141 511h0M1178 511h0M1229 519h0M1065 528h0M1095 524h0M1141 525h0M1060 535h0M1288 533h0M1246 542h0M1049 566h0M1128 602h0" stroke="#40c8c8" stroke-width="4.0" stroke-linecap="round" fill="none"/><path d="M1351 131h0M1360 132h0M1436 147h0M1352 166h0M1387 164h0M1434 165h0M1424 172h0M1364 188h0M1304 199h0M1340 196h0M1405 197h0M1258 206h0M1420 205h0M1333 214h0M1116 221h0M1136 222h0M1195 220h0M1201 223h0M1270 221h0M1140 231h0M1276 229h0M1146 238h0M1175 240h0M1215 240h0M1319 236h0M1029 247h0M1149 247h0M1312 248h0M1404 253h0M1343 262h0M992 271h0M1297 269h0M1363 271h0M1403 271h0M1172 281h0M1210 278h0M1390 281h0M984 285h0M1164 286h0M1176 287h0M1213 287h0M1222 287h0M1373 286h0M1384 289h0M1402 288h0M924 295h0M933 294h0M1026 295h0M1132 295h0M1151 296h0M1216 298h0M1368 294h0M1387 297h0M1183 306h0M1205 305h0M999 313h0M1017 314h0M1170 314h0M1257 314h0M1358 313h0M1378 311h0M908 322h0M994 319h0M970 328h0M1058 329h0M1178 327h0M1235 330h0M1329 327h0M992 338h0M1014 338h0M1260 335h0M1278 336h0M1007 345h0M1050 355h0M1110 353h0M1258 353h0M931 360h0M940 363h0M1218 362h0M1254 361h0M975 370h0M985 370h0M1099 372h0M1137 369h0M1167 371h0M952 377h0M1038 379h0M1058 380h0M1064 380h0M1170 376h0M1187 377h0M994 386h0M1109 388h0M1221 386h0M1122 395h0M1254 395h0M1323 395h0M1021 403h0M1270 401h0M1255 409h0M1188 430h0M1013 434h0M1051 435h0M1134 437h0M1224 434h0M1271 434h0M1298 435h0M1011 450h0M1119 454h0M1164 450h0M1092 458h0M1104 476h0M1314 476h0M1040 484h0M1193 483h0M1287 485h0M1283 495h0M1327 500h0M1035 511h0M1074 511h0M1152 511h0M1162 508h0M1057 527h0M1040 535h0M1176 536h0M1203 536h0M1238 544h0M1205 552h0" stroke="#e8a040" stroke-width="4.0" stroke-linecap="round" fill="none"/><path d="M1444 146h0M1337 205h0M1410 207h0M1187 215h0M1199 215h0M1377 215h0M1085 228h0M1381 231h0M1204 236h0M1268 237h0M1420 239h0M1076 245h0M1095 246h0M1122 248h0M1300 256h0M1383 256h0M971 262h0M1149 264h0M1169 265h0M1197 261h0M1265 262h0M966 273h0M1033 272h0M1319 273h0M1336 269h0M1079 286h0M1278 287h0M1327 287h0M1336 286h0M998 296h0M1255 294h0M1311 298h0M1100 304h0M1145 305h0M987 310h0M1054 312h0M1042 321h0M1135 319h0M1346 319h0M961 329h0M918 339h0M1068 337h0M1222 336h0M931 343h0M1101 344h0M1021 351h0M1043 355h0M1274 362h0M1342 360h0M1046 378h0M1322 377h0M1145 387h0M1260 386h0M1198 396h0M1210 395h0M1247 395h0M1275 396h0M982 412h0M1055 413h0M1067 412h0M1114 411h0M1209 409h0M1012 418h0M1202 418h0M1123 428h0M1322 428h0M986 437h0M1164 438h0M1173 434h0M1279 436h0M1287 435h0M1112 442h0M1324 446h0M1022 453h0M1031 452h0M1100 454h0M1309 453h0M1207 461h0M1304 458h0M1312 458h0M1031 468h0M1269 469h0M1297 470h0M1036 475h0M1066 476h0M1111 478h0M1079 487h0M1298 486h0M1058 494h0M1064 492h0M1123 493h0M1142 493h0M1152 495h0M1173 500h0M1111 509h0M1313 512h0M1091 518h0M1260 518h0M1264 528h0M1280 533h0M1045 544h0M1040 550h0M1070 550h0M1074 560h0M1092 576h0M1126 584h0" stroke="#90d840" stroke-width="4.0" stroke-linecap="round" fill="none"/><path d="M1489 207h0M1461 227h0M1481 226h0M1462 230h0M1431 236h0M1479 237h0M1486 239h0M1470 256h0M1483 266h0M1452 274h0M1437 280h0M1450 278h0M1432 285h0M1443 290h0M1412 298h0M1428 302h0M1424 308h0M1479 306h0M1443 313h0M1440 319h0M1390 326h0M1431 326h0M1435 324h0M1457 326h0M1468 326h0M1399 331h0M1445 331h0M1382 338h0M1465 339h0M1386 356h0M1426 355h0M1441 355h0M1468 354h0M1423 374h0M1421 379h0M1347 386h0M1354 383h0M1388 384h0M1436 383h0M1455 384h0M1446 391h0M1401 395h0M1442 397h0M1448 398h0M1457 395h0M1365 403h0M1381 408h0M1458 407h0M1414 415h0M1376 422h0M1352 426h0M1356 433h0M1410 431h0M1345 439h0M1353 438h0M1420 438h0M1401 444h0M1372 450h0M1407 450h0M1369 456h0M1402 456h0M1372 462h0M1349 479h0M1369 477h0M1402 478h0M1375 491h0M1334 502h0M1343 508h0M1350 507h0M1366 530h0" stroke="#b8c840" stroke-width="3.4" stroke-linecap="round" fill="none"/><path d="M1480 212h0M1453 226h0M1439 236h0M1436 243h0M1439 249h0M1480 249h0M1428 255h0M1444 269h0M1465 268h0M1459 274h0M1429 290h0M1449 290h0M1458 291h0M1462 289h0M1440 297h0M1447 297h0M1453 297h0M1422 302h0M1407 308h0M1402 314h0M1416 314h0M1455 314h0M1463 313h0M1471 314h0M1400 321h0M1406 320h0M1448 339h0M1425 344h0M1461 342h0M1367 350h0M1396 351h0M1465 350h0M1404 356h0M1431 355h0M1448 356h0M1417 362h0M1457 360h0M1386 367h0M1430 374h0M1344 379h0M1411 380h0M1454 378h0M1359 389h0M1419 391h0M1340 395h0M1397 396h0M1421 397h0M1439 402h0M1360 407h0M1416 407h0M1443 409h0M1338 413h0M1441 416h0M1336 420h0M1431 421h0M1373 424h0M1377 425h0M1393 426h0M1425 426h0M1376 433h0M1403 430h0M1426 438h0M1354 442h0M1362 445h0M1376 442h0M1423 442h0M1352 448h0M1414 450h0M1407 455h0M1372 472h0M1387 479h0M1399 483h0M1332 497h0M1336 498h0M1370 504h0M1330 508h0M1346 515h0M1351 521h0M1362 525h0M1357 532h0" stroke="#b0c848" stroke-width="3.4" stroke-linecap="round" fill="none"/><path d="M1488 215h0M1482 220h0M1447 237h0M1429 244h0M1458 244h0M1423 256h0M1457 254h0M1441 260h0M1423 267h0M1476 268h0M1446 272h0M1462 278h0M1409 292h0M1436 289h0M1426 295h0M1461 297h0M1450 302h0M1466 307h0M1473 307h0M1438 315h0M1472 321h0M1396 324h0M1425 332h0M1459 332h0M1395 337h0M1472 339h0M1380 344h0M1390 343h0M1399 345h0M1388 351h0M1455 348h0M1374 360h0M1401 361h0M1423 361h0M1453 369h0M1460 367h0M1390 372h0M1414 373h0M1442 374h0M1393 380h0M1406 378h0M1341 383h0M1415 384h0M1443 383h0M1338 392h0M1386 389h0M1459 389h0M1387 397h0M1372 401h0M1366 416h0M1373 415h0M1346 420h0M1355 421h0M1390 419h0M1407 421h0M1358 427h0M1411 424h0M1397 433h0M1424 433h0M1336 436h0M1358 437h0M1379 437h0M1404 438h0M1410 443h0M1386 451h0M1359 460h0M1365 460h0M1380 461h0M1399 459h0M1405 462h0M1335 467h0M1355 468h0M1405 474h0M1343 480h0M1334 492h0M1350 498h0M1348 501h0M1356 503h0M1384 502h0M1363 513h0M1368 513h0M1356 526h0" stroke="#c8d048" stroke-width="3.4" stroke-linecap="round" fill="none"/><path d="M1471 219h0M1472 226h0M1484 231h0M1468 237h0M1445 250h0M1460 248h0M1473 248h0M1435 254h0M1451 255h0M1450 265h0M1419 284h0M1458 285h0M1416 291h0M1424 291h0M1414 301h0M1458 301h0M1434 307h0M1407 315h0M1430 315h0M1446 319h0M1467 318h0M1402 327h0M1421 324h0M1448 325h0M1392 332h0M1421 332h0M1409 339h0M1416 337h0M1442 337h0M1420 345h0M1434 343h0M1445 343h0M1376 348h0M1382 351h0M1373 356h0M1409 359h0M1463 361h0M1342 374h0M1408 371h0M1451 374h0M1358 379h0M1363 385h0M1374 386h0M1402 383h0M1431 386h0M1351 390h0M1399 391h0M1454 390h0M1408 398h0M1352 403h0M1358 404h0M1427 404h0M1376 409h0M1395 407h0M1367 420h0M1366 425h0M1333 432h0M1361 432h0M1370 432h0M1372 439h0M1384 436h0M1339 443h0M1368 445h0M1389 442h0M1358 448h0M1399 449h0M1346 455h0M1377 456h0M1361 466h0M1367 465h0M1375 466h0M1337 474h0M1365 484h0M1383 491h0M1346 497h0M1359 496h0M1370 496h0M1360 504h0M1387 503h0M1380 513h0" stroke="#c0d050" stroke-width="3.4" stroke-linecap="round" fill="none"/><path d="M1477 221h0M1444 230h0M1451 231h0M1461 236h0M1465 244h0M1435 248h0M1446 261h0M1458 267h0M1470 268h0M1432 274h0M1480 271h0M1416 280h0M1455 279h0M1471 280h0M1438 283h0M1474 286h0M1435 297h0M1468 295h0M1475 298h0M1482 296h0M1440 307h0M1447 308h0M1448 314h0M1412 319h0M1479 318h0M1410 325h0M1465 325h0M1380 332h0M1407 331h0M1413 331h0M1466 331h0M1376 336h0M1428 338h0M1438 336h0M1456 337h0M1406 342h0M1413 342h0M1438 342h0M1415 349h0M1428 347h0M1450 350h0M1392 354h0M1398 357h0M1389 362h0M1430 362h0M1359 367h0M1404 368h0M1412 368h0M1426 367h0M1448 368h0M1362 374h0M1369 372h0M1374 374h0M1396 374h0M1339 379h0M1372 379h0M1379 379h0M1384 378h0M1427 379h0M1438 378h0M1369 386h0M1381 385h0M1409 384h0M1462 386h0M1372 392h0M1392 390h0M1425 389h0M1415 397h0M1337 403h0M1378 401h0M1392 404h0M1433 401h0M1342 409h0M1347 407h0M1355 409h0M1387 409h0M1391 415h0M1426 415h0M1362 418h0M1395 419h0M1424 419h0M1386 424h0M1387 431h0M1430 431h0M1413 436h0M1379 449h0M1340 453h0M1395 455h0M1332 461h0M1345 460h0M1387 461h0M1391 462h0M1349 468h0M1401 466h0M1331 473h0M1385 473h0M1390 474h0M1354 479h0M1346 486h0M1393 486h0M1341 491h0M1389 491h0M1364 498h0M1384 508h0M1348 527h0M1377 525h0M1366 543h0" stroke="#d0b840" stroke-width="3.4" stroke-linecap="round" fill="none"/><path d="M1466 224h0M1473 239h0M1442 242h0M1482 245h0M1442 254h0M1433 262h0M1438 272h0M1475 274h0M1430 278h0M1428 285h0M1445 301h0M1476 302h0M1411 310h0M1422 314h0M1475 313h0M1393 319h0M1418 320h0M1452 319h0M1460 319h0M1445 324h0M1384 331h0M1453 332h0M1384 344h0M1452 345h0M1467 344h0M1408 349h0M1380 357h0M1412 353h0M1356 362h0M1367 362h0M1394 361h0M1350 368h0M1370 367h0M1400 366h0M1418 366h0M1434 366h0M1438 367h0M1403 372h0M1457 371h0M1460 380h0M1365 390h0M1413 392h0M1431 392h0M1363 395h0M1369 397h0M1429 395h0M1346 401h0M1385 403h0M1404 401h0M1448 403h0M1403 409h0M1408 407h0M1424 407h0M1435 409h0M1405 416h0M1419 412h0M1340 421h0M1416 418h0M1436 422h0M1339 426h0M1399 425h0M1366 436h0M1400 439h0M1418 444h0M1339 450h0M1391 449h0M1388 457h0M1351 462h0M1360 471h0M1334 479h0M1363 479h0M1376 479h0M1358 485h0M1385 484h0M1385 496h0M1358 507h0M1378 507h0M1335 515h0M1373 518h0M1371 532h0" stroke="#a8c040" stroke-width="3.4" stroke-linecap="round" fill="none"/><path d="M1487 224h0M1458 231h0M1479 232h0M1472 244h0M1455 250h0M1467 250h0M1484 254h0M1453 262h0M1466 261h0M1479 260h0M1486 262h0M1436 265h0M1418 273h0M1466 271h0M1484 277h0M1448 285h0M1453 284h0M1469 285h0M1404 292h0M1470 290h0M1405 296h0M1418 298h0M1410 301h0M1438 302h0M1471 302h0M1400 307h0M1455 307h0M1460 308h0M1396 313h0M1427 320h0M1415 326h0M1390 337h0M1424 336h0M1435 349h0M1443 348h0M1458 356h0M1360 360h0M1381 361h0M1443 362h0M1451 360h0M1393 368h0M1380 374h0M1465 372h0M1364 377h0M1432 380h0M1422 384h0M1450 383h0M1439 390h0M1353 397h0M1374 397h0M1381 398h0M1436 395h0M1399 404h0M1413 402h0M1419 402h0M1452 403h0M1429 409h0M1379 415h0M1385 415h0M1433 414h0M1384 419h0M1402 420h0M1419 427h0M1431 427h0M1391 438h0M1335 445h0M1349 443h0M1345 449h0M1337 461h0M1342 466h0M1381 468h0M1397 467h0M1351 474h0M1381 479h0M1372 484h0M1378 484h0M1354 490h0M1362 492h0M1340 501h0M1377 501h0M1339 510h0M1372 507h0M1343 514h0M1355 515h0M1374 513h0M1337 521h0M1343 521h0M1365 520h0M1360 539h0" stroke="#98c450" stroke-width="3.4" stroke-linecap="round" fill="none"/><path d="M1471 233h0M1453 238h0M1451 244h0M1476 243h0M1463 256h0M1478 256h0M1420 261h0M1425 262h0M1461 261h0M1474 260h0M1429 267h0M1425 272h0M1422 280h0M1444 278h0M1478 279h0M1413 283h0M1482 284h0M1478 292h0M1403 301h0M1462 301h0M1419 307h0M1433 319h0M1382 326h0M1476 325h0M1433 333h0M1439 333h0M1472 333h0M1403 337h0M1370 343h0M1404 350h0M1422 348h0M1470 350h0M1367 355h0M1421 356h0M1453 356h0M1435 362h0M1365 368h0M1379 368h0M1346 373h0M1356 374h0M1436 373h0M1353 378h0M1400 379h0M1448 380h0M1394 383h0M1343 391h0M1378 392h0M1404 390h0M1346 397h0M1369 408h0M1452 409h0M1343 412h0M1351 413h0M1358 414h0M1398 413h0M1344 424h0M1405 427h0M1342 430h0M1349 431h0M1383 430h0M1414 431h0M1381 444h0M1397 444h0M1365 451h0M1334 455h0M1353 455h0M1361 455h0M1381 454h0M1388 469h0M1344 474h0M1365 471h0M1377 472h0M1398 471h0M1397 477h0M1330 486h0M1336 483h0M1353 486h0M1347 490h0M1370 492h0M1380 496h0M1366 510h0M1359 519h0M1379 521h0M1369 525h0M1377 532h0M1368 538h0M1374 537h0" stroke="#88c858" stroke-width="3.4" stroke-linecap="round" fill="none"/><path d="M1167 407h0M1162 514h0M1212 527h0M1306 461h0M1158 446h0M1144 430h0M1296 511h0M1264 432h0M1275 518h0M1283 462h0M1172 489h0M1122 447h0M1098 543h0M1133 461h0M1122 393h0M1183 435h0M1149 395h0M1293 409h0M1139 435h0M1234 390h0M1150 456h0M1171 520h0M1191 392h0M1283 526h0M1312 481h0M1128 502h0M1127 519h0M1294 486h0M1279 479h0M1114 389h0M1220 486h0M1096 514h0M1242 393h0M1284 395h0M1159 390h0M1169 490h0M1306 414h0M1288 447h0M1336 420h0M1334 396h0M1294 461h0M1337 375h0M1308 436h0M1280 434h0M1284 450h0M1287 428h0M1331 386h0M1294 462h0M1308 450h0M1312 381h0M1283 456h0M1336 434h0M1318 393h0M1279 475h0M1305 459h0M1315 478h0M1295 426h0M1285 383h0M1313 460h0M1298 473h0M1282 433h0M1331 436h0M1281 398h0M1319 377h0M1278 458h0M1325 395h0M1335 479h0M1283 377h0M1300 442h0M1277 456h0M1280 401h0M1335 468h0M1337 384h0M1304 419h0M1304 383h0" stroke="#2040ff" stroke-width="3.4" stroke-linecap="round" fill="none"/><path d="M1106 518h0M1236 479h0M1178 473h0M1195 483h0M1129 463h0M1224 458h0M1132 402h0M1129 491h0M1229 461h0M1176 497h0M1174 387h0M1192 488h0M1198 505h0M1130 473h0M1216 520h0M1211 474h0M1196 387h0M1282 405h0M1210 431h0M1222 498h0M1190 394h0M1237 515h0M1241 423h0M1184 389h0M1162 487h0M1263 476h0M1303 531h0M1163 476h0" stroke="#2030e0" stroke-width="3.4" stroke-linecap="round" fill="none"/><path d="M1177 392h0M1189 472h0M1310 395h0M1113 457h0M1158 407h0M1249 468h0M1193 401h0M1215 539h0M1101 527h0M1202 497h0M1100 540h0M1267 471h0M1141 486h0M1275 407h0M1101 418h0M1243 517h0M1189 534h0M1124 408h0M1157 510h0M1194 484h0M1208 423h0M1186 471h0M1103 385h0M1217 529h0M1180 461h0M1242 501h0M1251 466h0" stroke="#e09040" stroke-width="3.4" stroke-linecap="round" fill="none"/><path d="M1143 397h0M1111 397h0M1221 485h0M1171 440h0M1239 547h0M1150 447h0M1157 405h0M1288 428h0M1315 495h0M1241 505h0M1273 447h0M1183 462h0M1284 547h0M1274 416h0M1250 541h0M1274 543h0M1101 480h0M1298 441h0M1196 471h0M1127 528h0M1144 540h0M1281 409h0M1317 449h0M1177 438h0M1155 404h0M1218 414h0M1278 454h0M1182 436h0M1175 400h0M1260 544h0M1322 392h0M1325 472h0M1321 375h0M1280 415h0M1304 397h0M1278 458h0M1320 381h0M1286 435h0M1325 469h0M1289 425h0M1313 437h0M1283 449h0M1331 399h0M1315 447h0M1279 441h0M1282 409h0M1336 438h0M1332 446h0M1336 430h0M1326 479h0M1307 411h0" stroke="#40c0d0" stroke-width="3.4" stroke-linecap="round" fill="none"/><path d="M1108 476h0M1224 448h0M1164 517h0M1118 477h0M1309 407h0M1177 476h0M1109 394h0M1107 382h0M1202 434h0M1169 419h0M1271 461h0M1308 443h0M1262 461h0M1257 411h0M1118 506h0M1192 527h0M1099 455h0M1231 511h0M1292 392h0M1301 530h0M1163 403h0M1120 534h0M1156 532h0M1157 515h0M1148 401h0M1235 470h0M1160 465h0M1164 418h0M1160 458h0M1115 518h0M1226 470h0M1247 497h0M1147 508h0M1238 395h0" stroke="#3050f0" stroke-width="3.4" stroke-linecap="round" fill="none"/><path d="M1105 524h0M1247 453h0M1199 535h0M1269 396h0M1121 452h0M1223 527h0M1109 503h0M1172 538h0M1203 480h0M1179 487h0M1118 439h0M1288 498h0M1211 533h0M1275 502h0M1118 460h0M1314 491h0M1149 479h0M1230 415h0M1291 538h0M1305 489h0M1193 385h0M1312 400h0M1285 494h0M1231 419h0M1288 457h0M1317 452h0M1153 412h0M1155 515h0M1258 406h0M1098 486h0M1155 383h0M1217 423h0M1144 413h0M1214 423h0M1201 516h0" stroke="#e05040" stroke-width="3.4" stroke-linecap="round" fill="none"/><path d="M1022 289h0M1100 260h0M1022 279h0M1054 272h0M1063 270h0" stroke="#3050f0" stroke-width="3.0" stroke-linecap="round" fill="none"/><path d="M1012 279h0M1052 251h0M1111 230h0M1077 235h0M1106 281h0M1101 235h0M1047 253h0M1056 249h0M1052 235h0M1012 251h0M1098 283h0M1047 231h0M1072 280h0M1007 289h0M1022 245h0M1080 280h0" stroke="#e09040" stroke-width="3.0" stroke-linecap="round" fill="none"/><path d="M1020 268h0M1027 252h0M1035 271h0M1049 264h0M1029 249h0M1099 237h0M1009 278h0M1035 237h0M1107 226h0M1016 248h0M1048 234h0M1055 231h0M1061 279h0M1022 238h0M1054 247h0M1082 287h0M1071 233h0M1020 252h0M1081 243h0" stroke="#40c0d0" stroke-width="3.0" stroke-linecap="round" fill="none"/><path d="M1018 280h0M1080 269h0M1092 232h0M1063 235h0M1011 276h0M1057 259h0M1059 248h0M1030 240h0M1009 287h0M1004 273h0M1020 283h0M1009 239h0M1078 266h0M1082 268h0M1029 245h0M1052 260h0" stroke="#2030e0" stroke-width="3.0" stroke-linecap="round" fill="none"/><path d="M1052 276h0M1089 282h0M1045 250h0M1040 233h0M1044 275h0M1094 260h0M1093 271h0" stroke="#2040ff" stroke-width="3.0" stroke-linecap="round" fill="none"/><path d="M1057 246h0M1068 246h0M1019 276h0M1010 245h0M1092 249h0M1039 289h0M1086 267h0" stroke="#e05040" stroke-width="3.0" stroke-linecap="round" fill="none"/><path d="M1308 471h0M1298 475h0M1292 386h0M1325 415h0M1322 420h0M1285 400h0M1332 396h0M1332 388h0M1303 417h0M1320 390h0M1323 453h0M1329 430h0M1305 417h0M1300 440h0M1316 385h0M1293 392h0M1314 375h0M1310 393h0M1287 459h0M1310 475h0M1311 430h0M1281 470h0M1331 378h0M1313 383h0M1315 394h0M1338 464h0M1284 380h0M1278 401h0M1314 398h0M1319 388h0" stroke="#1020f0" stroke-width="3.4" stroke-linecap="round" fill="none"/></g>
<clipPath id="Hcolclip"><polygon points="1148.7,262.6 1240.0,239.5 1266.0,233.4 1297.2,225.3 1309.7,216.9 1304.1,205.8 1240.0,209.1 1240.0,199.6 1271.2,190.9 1297.2,182.3 1321.5,171.9 1331.9,159.7 1340.5,144.1 1344.0,123.3 1350.9,104.3 1368.3,86.9 1396.0,87.8 1430.7,95.6 1444.5,99.1 1460.1,95.6 1477.5,116.4 1493.1,140.7 1500.0,163.2 1498.3,187.5 1489.6,206.5 1465.3,218.7 1453.2,223.9 1430.7,236.0 1422.0,253.3 1411.6,275.9 1399.5,296.7 1383.9,322.7 1364.8,346.9 1347.5,367.7 1336.2,379.0 1330.1,374.7 1316.3,366.0 1309.3,364.3 1288.5,347.8 1283.3,336.5 1262.5,329.6 1240.0,319.2 1252.0,324.6 1210.7,295.6 1177.6,285.3"/></clipPath>
<g filter="url(#cb2)">
<polyline points="1078.4,226.2 1169.4,213.8 1243.8,202.6" fill="none" stroke="#60f000" stroke-width="6"/>
</g>
<g clip-path="url(#Hcolclip)"><g filter="url(#cb2)">
<polygon points="1148.7,262.6 1240.0,239.5 1266.0,233.4 1297.2,225.3 1309.7,216.9 1304.1,205.8 1240.0,209.1 1240.0,199.6 1271.2,190.9 1297.2,182.3 1321.5,171.9 1331.9,159.7 1340.5,144.1 1344.0,123.3 1350.9,104.3 1368.3,86.9 1396.0,87.8 1430.7,95.6 1444.5,99.1 1460.1,95.6 1477.5,116.4 1493.1,140.7 1500.0,163.2 1498.3,187.5 1489.6,206.5 1465.3,218.7 1453.2,223.9 1430.7,236.0 1422.0,253.3 1411.6,275.9 1399.5,296.7 1383.9,322.7 1364.8,346.9 1347.5,367.7 1336.2,379.0 1330.1,374.7 1316.3,366.0 1309.3,364.3 1288.5,347.8 1283.3,336.5 1262.5,329.6 1240.0,319.2 1252.0,324.6 1210.7,295.6 1177.6,285.3" fill="#ffa600"/>
<polygon points="1170.7,253.3 1240.0,241.2 1283.3,236.0 1312.8,232.5 1319.7,253.3 1305.9,279.3 1283.3,305.3 1257.3,319.2 1205.3,296.7" fill="#ff9c00"/>
<polygon points="1305.9,232.5 1330.1,236.0 1337.1,253.3 1323.2,274.1 1305.9,298.4 1285.1,322.7 1271.2,326.1 1292.0,296.7 1309.3,267.2" fill="#f4e800"/>
<polygon points="1321.5,246.4 1337.1,253.3 1326.7,274.1 1309.3,298.4 1292.0,319.2 1283.3,317.5 1302.4,293.2 1316.3,270.7" fill="#9cf000"/>
<polygon points="1240.0,202.2 1271.2,193.5 1297.2,184.9 1323.2,174.5 1337.1,161.5 1347.5,145.0 1350.9,124.2 1357.9,106.9 1371.7,92.5 1396.0,93.9 1430.7,101.1 1446.3,105.1 1444.5,114.7 1430.7,112.9 1404.7,106.0 1378.7,104.3 1364.8,114.7 1359.6,132.0 1356.1,152.8 1344.0,170.1 1326.7,184.0 1298.9,194.4 1271.2,201.3 1240.0,209.1" fill="#58f800"/>
<polygon points="1361.3,125.1 1368.3,111.2 1382.1,106.0 1406.4,109.5 1430.7,114.7 1428.9,125.1 1409.9,137.2 1402.9,152.8 1396.0,163.2 1382.1,173.6 1361.3,180.5 1344.0,185.7 1323.2,194.4 1316.3,190.9 1333.6,178.8 1350.9,161.5 1359.6,142.4" fill="#e8f400"/>
<polygon points="1446.3,106.0 1456.7,103.4 1470.5,120.7 1485.3,142.4 1490.5,163.2 1488.7,187.5 1485.3,204.8 1465.3,218.7 1453.2,223.9 1430.7,236.0 1422.0,236.0 1423.7,218.7 1435.9,201.3 1441.1,184.0 1446.3,158.0 1448.9,132.0" fill="#50f400"/>
<polygon points="1453.2,132.0 1465.3,137.2 1470.5,158.0 1465.3,177.1 1453.2,190.9 1444.5,187.5 1448.0,158.0" fill="#b8f400"/>
<polygon points="1467.1,177.1 1477.5,178.8 1479.2,197.9 1468.8,204.8 1463.6,190.9" fill="#ffb000"/>
<polygon points="1423.7,218.7 1435.9,201.3 1446.3,204.8 1439.3,222.1 1427.2,230.8" fill="#c0f400"/>
<polygon points="1448.0,201.3 1463.6,204.8 1460.1,216.9 1448.0,218.7" fill="#00e0e0"/>
<polygon points="1321.5,192.7 1344.0,185.7 1364.8,178.8 1382.1,170.1 1396.0,161.5 1406.4,149.3 1413.3,137.2 1420.3,149.3 1411.6,170.1 1404.7,190.9 1400.3,215.2 1398.6,236.0 1378.7,253.3 1361.3,253.3 1350.9,241.2 1337.1,242.9 1321.5,236.0 1316.3,218.7" fill="#d8f400"/>
<polygon points="1337.1,215.2 1357.9,208.3 1371.7,201.3 1378.7,184.0 1389.1,177.1 1396.0,170.1 1402.9,177.1 1396.0,201.3 1382.1,211.7 1368.3,229.1 1350.9,236.0 1337.1,232.5" fill="#60f020"/>
<polygon points="1316.3,201.3 1337.1,194.4 1350.9,201.3 1337.1,215.2 1321.5,218.7" fill="#fff000"/>
<polygon points="1382.1,232.5 1396.0,229.1 1397.7,242.9 1385.6,249.9" fill="#f8f000"/>
<polygon points="1362.2,113.8 1374.3,112.1 1377.8,131.1 1388.2,138.1 1407.3,135.1 1398.6,150.2 1377.8,156.3 1363.9,168.4 1350.1,178.8 1338.8,189.2 1321.5,193.5 1324.9,176.2 1342.3,160.1 1356.5,151.4 1363.4,137.2" fill="#ff1200"/>
<polygon points="1429.8,112.9 1447.1,112.9 1450.6,132.0 1448.0,158.0 1442.8,184.0 1438.5,203.1 1426.3,220.4 1422.0,235.1 1411.6,237.7 1396.9,237.7 1398.6,215.2 1403.8,190.9 1410.7,170.1 1421.1,149.3 1428.1,132.0" fill="#ff1200"/>
<polygon points="1337.1,190.9 1350.9,184.0 1361.3,187.5 1350.9,201.3 1337.1,204.8" fill="#ff1200"/>
<polygon points="1309.3,222.1 1321.5,216.9 1330.1,223.9 1316.3,232.5 1297.2,236.0" fill="#ff1200"/>
<polygon points="1392.5,173.6 1402.9,170.1 1406.4,184.0 1396.0,190.9" fill="#ff1200"/>
<polygon points="1386.5,184.0 1396.0,190.1 1393.4,198.7 1383.5,195.3" fill="#ff1200"/>
<polygon points="1375.2,203.9 1387.7,208.3 1386.0,227.3 1372.1,236.9 1361.3,227.3 1368.3,215.2" fill="#ff1200"/>
<polygon points="1350.9,239.5 1373.8,236.9 1381.3,253.3 1362.2,269.8 1344.0,281.9 1324.1,277.6 1328.4,266.3 1345.7,255.1" fill="#ff1200"/>
<polygon points="1266.0,234.6 1297.2,225.3 1314.9,218.7 1321.8,190.9 1305.9,187.1 1312.8,201.3 1305.9,215.2 1292.0,222.1" fill="#ff1200"/>
<polygon points="1305.9,302.7 1323.2,298.8 1337.4,293.6 1323.6,310.9 1309.3,331.7 1288.9,347.3 1283.3,336.9 1292.0,322.7" fill="#ff1200"/>
<polygon points="1402.9,244.7 1415.4,246.4 1413.7,260.6 1402.9,262.4" fill="#ff1200"/>
<polygon points="1411.6,109.5 1420.3,108.6 1421.1,114.7 1412.5,115.5" fill="#ff1200"/>
<polygon points="1292.0,322.7 1305.9,303.6 1321.5,300.1 1312.8,319.2 1297.2,338.3 1286.8,340.0" fill="#ff7000"/>
<polygon points="1330.1,170.1 1344.0,161.5 1347.5,177.1 1333.6,185.7" fill="#ff6000"/>
<polygon points="1413.3,244.7 1422.0,246.4 1413.3,263.7 1406.4,274.1 1392.5,294.9 1375.2,320.9 1357.9,345.2 1340.5,367.7 1333.6,375.5 1316.3,366.0 1330.1,350.4 1347.5,326.1 1364.8,305.3 1378.7,289.7 1389.1,272.4 1402.9,260.3" fill="#ffa400"/>
<polygon points="1406.4,275.9 1411.6,277.6 1396.0,301.9 1378.7,326.1 1361.3,348.7 1344.0,369.5 1339.7,367.7 1357.9,345.2 1375.2,320.9 1392.5,294.9" fill="#b0f400"/>
<polygon points="1375.2,293.2 1383.9,288.0 1385.6,298.4 1376.9,303.6" fill="#ff5000"/>
<polygon points="1386.5,124.2 1395.1,124.2 1396.0,132.9 1387.3,133.7" fill="#0050ff"/>
<polygon points="1344.0,225.6 1357.9,221.3 1361.3,230.8 1349.2,236.9" fill="#0040ff"/>
<polygon points="1337.1,232.5 1347.5,227.3 1350.9,237.7 1340.5,241.2" fill="#00d0e0"/>
<polygon points="1376.9,177.1 1383.9,177.1 1383.9,184.0 1376.9,184.0" fill="#00d8e8"/>
<polygon points="1396.0,154.5 1404.7,152.8 1404.7,159.7 1396.0,161.5" fill="#00d8e8"/>
<polygon points="1406.4,137.2 1415.1,132.0 1416.8,138.9 1409.0,145.9" fill="#00e0d0"/>
<polygon points="1452.3,182.3 1462.7,183.1 1461.9,190.9 1452.3,190.9" fill="#0040ff"/>
<polygon points="1447.1,222.1 1454.1,221.3 1454.1,236.0 1448.0,236.9" fill="#0030ff"/>
<polygon points="1361.3,151.1 1369.1,151.1 1369.1,156.3 1361.3,156.3" fill="#207040"/>
<polygon points="1439.3,182.3 1446.3,182.3 1446.3,187.5 1439.3,187.5" fill="#206060"/>
</g>
<g filter="url(#cb1)">
<polygon points="1411.6,236.0 1413.7,244.7 1402.9,260.3 1389.1,272.8 1378.7,290.1 1364.8,305.7 1347.5,326.5 1330.1,350.8 1316.3,366.4 1309.3,374.7 1288.5,347.8 1309.3,331.7 1323.2,310.9 1337.1,293.6 1344.0,281.4 1361.3,269.3 1378.7,255.4 1396.0,245.0" fill="#b4b4b8"/>
</g>
</g>
<g filter="url(#cb1)">
<polyline points="1348.3,147.6 1351.8,125.1 1358.7,108.1 1372.1,94.6 1396.0,95.3 1430.7,102.5" fill="none" stroke="#1030ff" stroke-width="4.5"/>
<polyline points="1444.5,106.3 1456.7,103.2 1469.7,120.2 1484.8,142.7 1490.0,163.2 1488.9,185.7" fill="none" stroke="#0818ff" stroke-width="8"/>
<polyline points="1450.6,225.3 1429.8,236.9 1421.1,254.2 1410.7,276.7 1398.6,297.5 1383.0,323.5 1363.9,347.8 1346.6,368.6 1337.1,378.5" fill="none" stroke="#00e0c0" stroke-width="16"/>
<polyline points="1453.6,227.3 1432.8,239.1 1424.1,255.9 1413.7,278.5 1401.6,299.3 1386.0,325.3 1366.9,349.5 1349.6,370.3 1339.7,380.7" fill="none" stroke="#0414ff" stroke-width="11"/>
</g>
<path d="M1356 286h0M1376 261h0M1383 275h0M1303 352h0M1349 288h0" stroke="#68d868" stroke-width="2.6" stroke-linecap="round" fill="none"/><path d="M1311 351h0M1376 272h0M1368 292h0M1349 289h0M1334 345h0M1310 357h0M1346 286h0M1330 334h0" stroke="#70d890" stroke-width="2.6" stroke-linecap="round" fill="none"/><path d="M1332 303h0M1330 318h0M1372 280h0M1327 342h0M1361 293h0M1357 278h0M1398 256h0M1352 284h0M1374 294h0M1329 324h0M1339 305h0M1379 278h0M1331 302h0M1333 321h0M1389 257h0M1388 265h0M1346 287h0M1337 317h0M1372 291h0M1368 281h0M1358 272h0M1361 294h0" stroke="#70d870" stroke-width="2.6" stroke-linecap="round" fill="none"/><path d="M1329 305h0M1368 268h0M1355 300h0M1370 275h0M1398 253h0M1339 300h0M1332 340h0" stroke="#78d860" stroke-width="2.6" stroke-linecap="round" fill="none"/><path d="M1378 269h0M1346 296h0" stroke="#e8a040" stroke-width="2.6" stroke-linecap="round" fill="none"/><path d="M1307 354h0M1362 308h0M1361 292h0M1334 330h0M1341 292h0M1335 342h0M1369 263h0M1311 355h0M1357 292h0M1382 257h0" stroke="#90d840" stroke-width="2.6" stroke-linecap="round" fill="none"/><path d="M1368 280h0M1362 293h0M1390 256h0M1332 306h0M1313 328h0M1347 301h0" stroke="#d8d040" stroke-width="2.6" stroke-linecap="round" fill="none"/><path d="M1334 339h0M1314 335h0M1361 278h0M1364 283h0M1356 310h0M1357 288h0M1301 362h0M1362 308h0M1392 264h0M1364 281h0M1354 280h0M1376 267h0M1399 263h0M1345 289h0M1301 345h0M1320 331h0M1366 286h0M1312 358h0M1323 317h0M1397 246h0M1341 291h0" stroke="#60d060" stroke-width="2.6" stroke-linecap="round" fill="none"/><path d="M1373 261h0M1328 320h0M1339 323h0M1363 277h0M1345 308h0M1364 284h0" stroke="#40c8c8" stroke-width="2.6" stroke-linecap="round" fill="none"/><path d="M1339 334h0M1388 266h0M1341 310h0M1338 311h0" stroke="#80d860" stroke-width="2.6" stroke-linecap="round" fill="none"/><path d="M1356 278h0M1409 238h0M1303 354h0M1331 345h0M1312 340h0M1350 300h0M1342 328h0" stroke="#d0c850" stroke-width="2.6" stroke-linecap="round" fill="none"/><path d="M1322 355h0M1350 297h0M1379 267h0M1405 244h0M1329 341h0M1348 310h0M1403 242h0" stroke="#60d878" stroke-width="2.6" stroke-linecap="round" fill="none"/><path d="M1336 318h0M1326 351h0" stroke="#a0d850" stroke-width="2.6" stroke-linecap="round" fill="none"/><path d="M1349 313h0M1315 359h0M1339 315h0" stroke="#e06050" stroke-width="2.6" stroke-linecap="round" fill="none"/>
</g>
<path d="M927 261h0M960 249h0M1013 234h0M1047 230h0M1067 228h0M1093 224h0M1100 223h0M1160 214h0M1167 213h0M1173 212h0M1247 201h0M1293 192h0M1299 189h0M1347 134h0M1350 129h0M1357 111h0M1371 99h0M1411 99h0M1436 100h0M1460 106h0M1475 122h0M1491 198h0M1489 234h0M1488 252h0M1485 276h0M1480 319h0M1355 536h0M1332 520h0M1324 509h0M1301 537h0M1294 548h0M1288 548h0M1246 548h0M1227 554h0M1220 556h0M1129 605h0M1047 573h0M1037 555h0M1024 472h0M990 459h0M982 448h0M977 442h0M972 437h0M939 397h0M904 332h0M912 308h0M915 303h0" stroke="#a0e040" stroke-width="3.2" stroke-linecap="round" fill="none"/><path d="M933 259h0M1000 236h0M1033 232h0M1040 231h0M1060 229h0M1080 227h0M1087 226h0M1107 222h0M1113 221h0M1120 220h0M1140 217h0M1187 210h0M1207 207h0M1220 205h0M1233 203h0M1273 197h0M1304 185h0M1310 182h0M1332 161h0M1344 140h0M1365 102h0M1376 95h0M1397 97h0M1417 99h0M1442 101h0M1470 117h0M1478 128h0M1487 150h0M1490 161h0M1490 168h0M1491 180h0M1491 186h0M1492 192h0M1490 222h0M1488 246h0M1488 258h0M1485 282h0M1482 301h0M1479 325h0M1330 512h0M1270 548h0M1207 562h0M1142 602h0M1116 604h0M1088 599h0M1082 597h0M1043 568h0M1030 506h0M1018 468h0M984 458h0M966 432h0M959 419h0M956 413h0M927 393h0M907 319h0M910 314h0M925 274h0" stroke="#e0d040" stroke-width="3.2" stroke-linecap="round" fill="none"/><path d="M940 257h0M967 247h0M973 244h0M980 242h0M1007 235h0M1053 229h0M1073 227h0M1127 219h0M1193 209h0M1213 206h0M1315 178h0M1321 175h0M1326 172h0M1352 123h0M1424 100h0M1430 100h0M1465 112h0M1482 139h0M1485 144h0M1490 155h0M1491 174h0M1490 216h0M1483 295h0M1482 307h0M1350 532h0M1328 504h0M1297 543h0M1282 548h0M1264 548h0M1233 552h0M1180 579h0M1174 582h0M1169 585h0M1158 592h0M1123 604h0M1109 603h0M1095 602h0M1075 594h0M1069 592h0M1030 536h0M1030 529h0M1030 521h0M1024 478h0M1002 460h0M944 402h0M933 395h0M921 390h0M916 379h0M905 348h0M919 295h0M923 287h0" stroke="#60e040" stroke-width="3.2" stroke-linecap="round" fill="none"/><path d="M947 255h0M953 252h0M987 240h0M1147 216h0M1180 211h0M1253 200h0M1260 199h0M1280 196h0M1287 194h0M1329 166h0M1341 145h0M1355 117h0M1360 106h0M1383 96h0M1480 133h0M1491 204h0M1489 240h0M1487 264h0M1481 313h0M1344 528h0M1320 513h0M1312 523h0M1308 527h0M1304 532h0M1258 548h0M1252 548h0M1195 569h0M1185 576h0M1153 595h0M1057 584h0M1051 579h0M1039 562h0M1035 549h0M1033 542h0M1024 496h0M1024 490h0M1024 484h0M1013 465h0M1008 461h0M963 426h0M913 374h0M908 362h0M905 325h0" stroke="#e07050" stroke-width="3.2" stroke-linecap="round" fill="none"/><path d="M993 238h0M1020 233h0M1027 232h0M1133 218h0M1153 215h0M1200 208h0M1227 204h0M1240 202h0M1267 198h0M1335 156h0M1338 150h0M1390 96h0M1404 98h0M1448 101h0M1455 101h0M1491 210h0M1490 228h0M1486 270h0M1484 288h0M1338 524h0M1316 518h0M1276 548h0M1240 550h0M1214 558h0M1200 566h0M1190 572h0M1164 588h0M1147 599h0M1136 606h0M1102 602h0M1062 589h0M1030 514h0M1027 501h0M996 460h0M950 408h0M919 385h0M910 368h0M906 355h0M904 340h0M924 280h0M926 268h0" stroke="#40d0a0" stroke-width="3.2" stroke-linecap="round" fill="none"/><path d="M1477 331h0M1475 337h0M1468 356h0M1467 362h0M1465 374h0M1462 393h0M1461 400h0M1424 442h0M1420 448h0M1403 478h0M1400 484h0M1390 502h0M1380 520h0M1379 528h0M1372 540h0M1361 540h0" stroke="#e84838" stroke-width="3.2" stroke-linecap="round" fill="none"/><path d="M1473 343h0M1470 350h0M1466 368h0M1463 386h0M1460 406h0M1455 410h0M1440 420h0M1417 454h0M1413 460h0M1407 472h0M1387 508h0M1383 514h0M1378 536h0" stroke="#e06040" stroke-width="3.2" stroke-linecap="round" fill="none"/><path d="M1464 380h0M1450 413h0M1445 416h0M1436 426h0M1432 431h0M1428 437h0M1410 466h0M1397 490h0M1393 496h0M1366 544h0" stroke="#e8a040" stroke-width="3.2" stroke-linecap="round" fill="none"/>
<g clip-path="url(#Kclip)">
<rect x="866" y="681" width="616" height="537" fill="#d0d0e6"/>
<g filter="url(#cb12)">
<polygon points="877.1,890.4 945.3,916.0 996.5,1001.3 1022.1,1086.7 1047.7,1197.6 996.5,1150.7 924.0,1044.0 868.5,958.7" fill="#f4f4fe"/>
<polygon points="1039.2,1129.3 1167.2,1150.7 1141.6,1231.7 1052.0,1214.7" fill="#f4f4fe"/>
<polygon points="911.2,864.8 1064.8,830.7 1286.7,800.8 1286.7,839.2 1133.1,873.3 988.0,898.9" fill="#b8b8cc"/>
<polygon points="1081.9,958.7 1201.3,937.3 1269.6,984.3 1235.5,1044.0 1116.0,1044.0" fill="#b8b8cc" opacity="0.6"/>
<polygon points="1261.1,1133.6 1316.5,1078.1 1327.2,1129.3 1290.9,1167.7" fill="#808088"/>
</g>
<g filter="url(#cb3)"><polygon points="1469.6,798.3 1462.7,801.7 1445.3,820.8 1428.0,837.3 1415.9,858.1 1403.7,870.2 1393.3,887.5 1376.0,910.1 1358.7,930.9 1344.8,951.7 1330.9,969.0 1320.5,981.1 1312.0,1050.0 1303.7,1112.3 1320.0,1135.0 1350.7,1160.0 1500.0,1160.0 1500.0,740.0" fill="#8c8c8c"/>
<polygon points="1329.3,992.8 1363.5,958.7 1376.3,1044.0 1354.9,1150.7 1329.3,1137.9 1318.7,1086.7" fill="#707070"/>
<polygon points="1444.5,924.5 1487.2,860.5 1478.7,933.1 1444.5,1035.5" fill="#9c9c9c"/></g>
<rect x="866" y="681" width="616" height="537" fill="url(#tri)"/>
<g opacity="0.9"><path d="M1354 690h0M1465 731h0M1340 746h0M1446 747h0M1364 753h0M1306 771h0M1431 788h0M1331 797h0M1359 795h0M1253 806h0M1344 803h0M1219 812h0M1332 812h0M1269 822h0M1016 831h0M1121 827h0M1416 830h0M994 837h0M1138 837h0M1213 839h0M1261 836h0M1277 839h0M1177 847h0M1006 853h0M1231 855h0M998 862h0M1095 864h0M1160 863h0M1244 864h0M1283 862h0M898 872h0M929 870h0M1033 869h0M1232 868h0M1375 871h0M1210 878h0M1282 877h0M1313 878h0M1195 887h0M1287 885h0M1309 884h0M955 902h0M1061 901h0M1116 901h0M1137 903h0M1026 912h0M1048 911h0M1235 910h0M1322 912h0M965 921h0M1222 918h0M1289 920h0M1180 929h0M1218 925h0M882 934h0M1201 936h0M1251 938h0M1278 935h0M1290 935h0M1335 934h0M921 943h0M1074 946h0M1225 945h0M1099 954h0M1289 953h0M902 959h0M980 962h0M1102 960h0M1209 962h0M1283 961h0M1166 968h0M1123 976h0M1140 975h0M947 983h0M1138 986h0M1261 983h0M1160 992h0M1176 1002h0M923 1010h0M1046 1010h0M984 1017h0M1012 1017h0M1052 1018h0M1119 1019h0M1167 1016h0M1315 1016h0M1017 1025h0M1077 1026h0M1178 1026h0M1207 1025h0M957 1036h0M1081 1034h0M1240 1034h0M1170 1044h0M1031 1051h0M1069 1069h0M1099 1067h0M1267 1076h0M1002 1084h0M1035 1093h0M1057 1093h0M1153 1093h0M1297 1101h0M1109 1118h0M1204 1116h0M1067 1123h0M1121 1123h0M1096 1132h0M1188 1139h0M1174 1165h0M1018 1174h0M1028 1174h0M1066 1174h0M1084 1173h0M1115 1175h0M1034 1182h0M1040 1184h0M1096 1183h0M1157 1180h0M1112 1190h0M1120 1192h0M1127 1199h0" stroke="#a0d850" stroke-width="4.0" stroke-linecap="round" fill="none"/><path d="M1363 691h0M1382 690h0M1403 704h0M1441 704h0M1378 712h0M1406 715h0M1395 724h0M1404 721h0M1420 723h0M1430 721h0M1367 730h0M1374 736h0M1404 737h0M1419 738h0M1409 747h0M1457 746h0M1352 763h0M1300 771h0M1346 773h0M1375 772h0M1452 769h0M1468 772h0M1360 778h0M1356 787h0M1264 794h0M1369 796h0M1454 797h0M1280 805h0M1354 803h0M1384 803h0M1422 804h0M1149 814h0M1238 811h0M1292 811h0M1343 814h0M1409 812h0M1435 812h0M1039 822h0M1145 820h0M1182 819h0M1202 822h0M1223 819h0M1299 819h0M1430 822h0M1149 827h0M1098 836h0M1126 835h0M1154 839h0M1176 835h0M1309 836h0M1344 837h0M1403 836h0M922 847h0M940 843h0M959 843h0M1029 847h0M1170 846h0M1274 847h0M1399 845h0M939 853h0M1020 852h0M1099 852h0M1194 853h0M1202 853h0M1346 852h0M1357 855h0M913 862h0M943 863h0M1009 863h0M1045 860h0M1056 864h0M1085 863h0M1141 863h0M1302 861h0M955 870h0M1053 870h0M1126 869h0M1147 869h0M1204 871h0M989 879h0M1075 880h0M1189 877h0M1292 879h0M937 886h0M956 887h0M1147 885h0M1239 888h0M1336 887h0M1026 893h0M1054 896h0M1102 896h0M1236 897h0M1247 895h0M1294 895h0M926 905h0M1012 904h0M1032 904h0M1052 904h0M1174 904h0M1270 904h0M1365 901h0M895 912h0M941 912h0M1094 911h0M1170 912h0M1312 910h0M1352 912h0M1370 911h0M881 920h0M890 919h0M1069 920h0M1231 920h0M887 926h0M933 928h0M1150 926h0M1209 929h0M1303 929h0M898 937h0M907 934h0M947 937h0M1080 936h0M1222 936h0M1230 935h0M876 943h0M1006 945h0M1095 944h0M1141 944h0M1161 944h0M1265 946h0M1294 946h0M1330 946h0M1340 946h0M946 953h0M1021 954h0M1136 953h0M1162 960h0M1168 960h0M1180 960h0M1332 959h0M948 967h0M1091 970h0M1098 968h0M1173 969h0M1233 968h0M886 976h0M924 975h0M932 977h0M899 987h0M926 985h0M986 987h0M996 984h0M1069 984h0M1186 986h0M1213 986h0M914 994h0M1208 993h0M1072 1003h0M1117 1001h0M1194 1000h0M1259 1001h0M1197 1011h0M957 1018h0M1070 1017h0M1127 1020h0M1192 1020h0M1288 1019h0M1067 1027h0M1101 1026h0M1158 1028h0M945 1033h0M964 1035h0M1041 1035h0M1069 1032h0M1289 1032h0M1048 1043h0M1073 1041h0M1160 1043h0M1256 1045h0M955 1052h0M1108 1049h0M1147 1052h0M999 1060h0M1074 1061h0M1083 1058h0M1124 1060h0M1219 1060h0M1244 1058h0M1275 1058h0M1303 1060h0M1011 1067h0M1023 1068h0M1174 1066h0M1309 1068h0M1114 1074h0M1132 1075h0M1215 1075h0M1274 1073h0M1031 1085h0M1291 1082h0M1025 1090h0M1067 1092h0M1092 1092h0M1123 1090h0M1215 1090h0M1247 1090h0M1137 1102h0M1144 1102h0M1154 1101h0M1122 1108h0M1169 1109h0M1226 1110h0M1060 1117h0M1116 1118h0M1221 1118h0M1299 1116h0M1111 1125h0M1245 1126h0M1108 1131h0M1006 1142h0M1124 1143h0M1170 1141h0M1216 1140h0M1215 1150h0M1242 1148h0M1251 1149h0M1259 1152h0M1010 1157h0M1056 1158h0M1103 1159h0M1130 1157h0M1191 1156h0M1116 1165h0M1136 1167h0M1143 1173h0M1109 1197h0" stroke="#70d870" stroke-width="4.0" stroke-linecap="round" fill="none"/><path d="M1373 689h0M1397 699h0M1470 738h0M1409 765h0M1403 770h0M1436 779h0M1466 778h0M1269 789h0M1417 794h0M1319 804h0M1328 805h0M1228 811h0M988 829h0M1046 828h0M1351 830h0M1369 828h0M1379 831h0M1069 839h0M1250 838h0M1366 835h0M1075 843h0M1111 845h0M1207 863h0M1229 863h0M1256 860h0M1368 860h0M916 869h0M939 868h0M978 880h0M1110 885h0M1134 894h0M1160 893h0M1349 895h0M881 905h0M968 912h0M1179 910h0M1257 910h0M994 917h0M1002 918h0M1155 921h0M1258 919h0M1019 929h0M1036 929h0M1133 926h0M1189 926h0M1348 926h0M1109 937h0M997 944h0M1303 943h0M963 951h0M985 951h0M1063 952h0M1155 953h0M1239 951h0M1085 962h0M910 967h0M1021 968h0M1221 970h0M1114 976h0M1234 976h0M1247 976h0M1203 984h0M1277 985h0M1019 991h0M1108 1002h0M1253 1001h0M1123 1009h0M947 1018h0M1138 1018h0M950 1026h0M1145 1036h0M1154 1033h0M1221 1036h0M990 1045h0M1132 1041h0M1189 1041h0M1312 1042h0M1059 1052h0M1035 1060h0M1054 1057h0M1189 1060h0M1080 1065h0M1230 1066h0M1088 1084h0M1103 1093h0M1227 1093h0M1035 1108h0M1078 1117h0M1175 1115h0M1020 1125h0M1181 1123h0M1283 1125h0M1036 1141h0M1030 1150h0M1186 1152h0M1192 1148h0M1022 1166h0M1050 1183h0M1062 1184h0M1065 1189h0M1074 1190h0M1087 1200h0" stroke="#d8d040" stroke-width="4.0" stroke-linecap="round" fill="none"/><path d="M1349 695h0M1416 695h0M1364 707h0M1385 707h0M1452 706h0M1361 715h0M1454 713h0M1365 720h0M1372 721h0M1408 732h0M1353 738h0M1443 738h0M1316 770h0M1338 786h0M1449 789h0M1320 797h0M1307 805h0M1295 827h0M966 839h0M1050 838h0M1298 836h0M1354 835h0M950 843h0M1019 845h0M1057 844h0M1369 846h0M1378 843h0M944 851h0M1050 851h0M1135 855h0M1337 854h0M1392 854h0M1401 852h0M1329 868h0M1356 870h0M1384 870h0M1000 877h0M1323 877h0M912 895h0M1274 896h0M906 905h0M1069 904h0M1147 901h0M1259 902h0M1288 903h0M1309 902h0M905 911h0M989 909h0M1083 912h0M1112 911h0M1303 909h0M1100 919h0M1109 921h0M1280 917h0M1328 917h0M1197 929h0M1257 927h0M1313 926h0M1322 925h0M956 936h0M976 937h0M1119 937h0M1271 936h0M896 945h0M941 942h0M1054 945h0M1065 944h0M1219 945h0M1015 952h0M1203 951h0M1306 951h0M896 961h0M1077 958h0M1217 962h0M966 969h0M1107 967h0M1328 968h0M903 978h0M1255 978h0M1146 987h0M989 993h0M1008 993h0M1031 1001h0M1082 1010h0M1102 1009h0M974 1020h0M1022 1019h0M1079 1017h0M1099 1016h0M1307 1020h0M1303 1025h0M1231 1035h0M953 1043h0M980 1041h0M1066 1043h0M1185 1049h0M1288 1052h0M1046 1058h0M1112 1061h0M1108 1066h0M1208 1075h0M1119 1085h0M1147 1084h0M1166 1083h0M1214 1083h0M1270 1082h0M1291 1091h0M1150 1108h0M1162 1109h0M1247 1108h0M1213 1117h0M1029 1127h0M1035 1123h0M1152 1124h0M1093 1140h0M1103 1140h0M1265 1140h0M1040 1150h0M1078 1150h0M1135 1150h0M1224 1151h0M1086 1157h0M1109 1180h0M1085 1206h0" stroke="#80d860" stroke-width="4.0" stroke-linecap="round" fill="none"/><path d="M1359 699h0M1377 696h0M1427 698h0M1357 704h0M1373 706h0M1394 703h0M1422 705h0M1430 707h0M1371 712h0M1399 714h0M1354 723h0M1413 722h0M1440 720h0M1457 724h0M1377 728h0M1396 729h0M1416 730h0M1428 732h0M1432 737h0M1370 746h0M1436 748h0M1334 757h0M1355 753h0M1404 754h0M1424 757h0M1468 756h0M1312 765h0M1331 761h0M1339 765h0M1377 762h0M1437 763h0M1473 762h0M1326 773h0M1355 771h0M1440 772h0M1460 770h0M1313 778h0M1322 779h0M1388 779h0M1397 781h0M1416 781h0M1288 787h0M1299 789h0M1306 788h0M1391 787h0M1402 787h0M1422 787h0M1471 790h0M1273 794h0M1295 795h0M1304 798h0M1339 796h0M1349 794h0M1466 796h0M1184 802h0M1194 805h0M1230 806h0M1269 804h0M1288 802h0M1298 806h0M1362 802h0M1092 814h0M1209 811h0M1311 811h0M1381 814h0M1444 814h0M1069 823h0M1136 822h0M1166 820h0M1175 822h0M1253 820h0M1279 819h0M1288 820h0M1308 820h0M1315 821h0M1325 821h0M1355 822h0M1364 821h0M1375 821h0M1383 821h0M1439 822h0M1010 828h0M1025 829h0M1038 827h0M1064 830h0M1076 828h0M1083 827h0M1092 831h0M1130 830h0M1169 828h0M1178 829h0M1215 828h0M1257 827h0M1321 830h0M1387 829h0M1426 830h0M986 838h0M1021 837h0M1079 836h0M1088 837h0M1120 837h0M1147 836h0M1222 837h0M1327 836h0M1337 836h0M1374 835h0M1420 837h0M970 845h0M982 846h0M1009 843h0M1036 846h0M1046 843h0M1066 844h0M1123 844h0M1150 844h0M1216 847h0M1236 847h0M1247 843h0M1284 846h0M1322 847h0M1350 845h0M1409 846h0M917 855h0M976 852h0M1061 854h0M1091 855h0M1107 854h0M1221 854h0M1271 856h0M1308 854h0M924 863h0M1016 861h0M1111 863h0M1169 861h0M1332 861h0M1358 860h0M1390 863h0M945 868h0M995 869h0M1001 872h0M1059 869h0M1068 871h0M1109 868h0M1157 872h0M1174 871h0M1185 870h0M1212 868h0M1289 871h0M1336 869h0M1347 871h0M893 878h0M904 879h0M930 876h0M959 876h0M1008 879h0M1047 880h0M1112 879h0M1123 878h0M1162 880h0M1217 877h0M1237 876h0M1247 880h0M1272 876h0M1377 878h0M1399 877h0M928 887h0M947 887h0M1012 886h0M1023 885h0M1040 886h0M1062 886h0M1136 887h0M1176 886h0M1204 885h0M1347 886h0M953 894h0M997 894h0M1016 894h0M1095 894h0M1123 893h0M1152 895h0M1171 894h0M1215 893h0M1228 895h0M1257 895h0M1283 893h0M919 901h0M946 903h0M964 901h0M995 902h0M1082 904h0M1191 904h0M1243 902h0M1297 905h0M932 912h0M981 911h0M1000 909h0M1007 910h0M1152 912h0M1284 910h0M1331 913h0M1359 909h0M908 920h0M949 917h0M956 919h0M983 921h0M1079 919h0M1145 920h0M1177 919h0M1203 919h0M1250 919h0M1357 918h0M915 926h0M960 928h0M981 927h0M1025 928h0M1056 926h0M1074 927h0M1140 928h0M1236 926h0M982 934h0M993 936h0M1005 934h0M1011 935h0M1096 935h0M1164 935h0M1344 934h0M1353 937h0M902 944h0M914 942h0M933 942h0M963 943h0M978 944h0M1207 945h0M908 950h0M927 950h0M958 951h0M993 954h0M1001 951h0M1119 953h0M1193 950h0M1251 951h0M1280 954h0M1324 953h0M875 961h0M885 960h0M913 960h0M932 962h0M941 960h0M953 962h0M1009 962h0M1036 961h0M1064 958h0M1092 961h0M1133 959h0M1152 962h0M1226 962h0M1236 959h0M1246 960h0M1310 958h0M977 967h0M995 969h0M1032 967h0M1042 970h0M1079 967h0M1120 967h0M1127 970h0M1186 968h0M1205 968h0M1214 970h0M1261 970h0M1271 967h0M1280 970h0M1297 967h0M915 976h0M962 978h0M989 978h0M1019 975h0M1026 977h0M1036 978h0M1058 978h0M1218 977h0M1267 978h0M1274 975h0M1293 976h0M1311 979h0M891 986h0M973 984h0M1030 983h0M1081 984h0M1128 986h0M1163 987h0M1233 983h0M1241 986h0M1252 987h0M1296 986h0M971 992h0M997 992h0M1029 994h0M1038 994h0M1045 991h0M1055 993h0M1083 992h0M1093 992h0M1122 993h0M1190 993h0M1198 993h0M1226 994h0M1237 994h0M1263 993h0M1304 995h0M1313 991h0M996 999h0M1042 1000h0M1059 1000h0M1081 999h0M1091 1004h0M1100 1003h0M1136 1002h0M1233 1003h0M991 1010h0M1036 1011h0M1055 1010h0M1077 1010h0M1095 1010h0M1132 1009h0M1143 1010h0M1283 1010h0M1295 1009h0M1303 1011h0M995 1019h0M1033 1017h0M1156 1016h0M1213 1018h0M1241 1016h0M1249 1017h0M1270 1016h0M933 1024h0M944 1025h0M980 1028h0M1001 1026h0M1009 1027h0M1039 1024h0M1047 1028h0M1141 1027h0M1187 1025h0M1219 1027h0M1246 1024h0M1294 1028h0M1314 1027h0M994 1034h0M1003 1034h0M1127 1034h0M1135 1034h0M1163 1035h0M1183 1036h0M1250 1034h0M1277 1032h0M1307 1033h0M971 1044h0M1006 1042h0M1036 1041h0M1086 1041h0M1094 1042h0M1114 1045h0M1142 1042h0M1294 1043h0M993 1052h0M1039 1052h0M1072 1051h0M1088 1050h0M1116 1052h0M1154 1051h0M1176 1049h0M1203 1052h0M1213 1049h0M1233 1050h0M1280 1051h0M1310 1049h0M962 1057h0M969 1060h0M981 1060h0M1008 1057h0M1020 1061h0M1027 1060h0M1065 1059h0M1092 1060h0M1140 1059h0M1151 1060h0M1198 1057h0M1207 1061h0M1265 1058h0M1295 1058h0M1051 1067h0M1059 1069h0M1117 1068h0M1148 1069h0M1158 1068h0M1201 1068h0M1213 1066h0M1223 1067h0M1241 1065h0M1025 1075h0M1037 1074h0M1149 1074h0M1170 1077h0M1255 1076h0M1284 1077h0M1294 1077h0M1301 1074h0M1042 1086h0M1069 1083h0M1080 1085h0M1129 1083h0M1176 1083h0M1193 1083h0M1239 1085h0M1000 1092h0M1048 1094h0M1074 1094h0M1085 1091h0M1161 1091h0M1197 1093h0M1284 1092h0M1302 1093h0M1023 1101h0M1042 1098h0M1204 1098h0M1260 1099h0M1289 1101h0M1048 1107h0M1056 1109h0M1103 1108h0M1114 1110h0M1142 1109h0M1189 1109h0M1198 1110h0M1208 1110h0M1216 1107h0M1255 1107h0M1275 1107h0M1303 1109h0M1024 1116h0M1098 1117h0M1129 1117h0M1146 1117h0M1166 1118h0M1248 1116h0M1280 1118h0M1006 1126h0M1044 1123h0M1133 1124h0M1161 1123h0M1206 1125h0M1256 1127h0M1273 1125h0M1294 1124h0M1089 1134h0M1118 1131h0M1137 1132h0M1146 1133h0M1186 1135h0M1212 1131h0M1278 1135h0M1027 1142h0M1045 1141h0M1112 1140h0M1140 1139h0M1180 1139h0M1200 1140h0M1237 1141h0M1273 1141h0M1004 1151h0M1051 1150h0M1059 1150h0M1129 1150h0M1111 1156h0M1014 1164h0M1051 1167h0M1058 1167h0M1077 1164h0M1145 1164h0M1157 1168h0M1165 1165h0M1045 1175h0M1055 1173h0M1093 1176h0M1130 1173h0M1069 1180h0M1081 1180h0M1128 1183h0M1094 1189h0M1132 1189h0M1119 1198h0M1102 1206h0" stroke="#60d060" stroke-width="4.0" stroke-linecap="round" fill="none"/><path d="M1370 698h0M1386 696h0M1445 712h0M1448 737h0M1331 745h0M1418 745h0M1472 748h0M1305 764h0M1358 764h0M1368 762h0M1412 772h0M1332 778h0M1339 778h0M1409 781h0M1325 789h0M1437 796h0M1394 802h0M1449 806h0M1168 810h0M1197 810h0M1266 813h0M1324 814h0M1417 814h0M1126 822h0M1402 821h0M1190 828h0M1206 830h0M1302 830h0M1330 831h0M1340 830h0M1406 829h0M1183 836h0M1318 836h0M1385 837h0M1206 845h0M1314 844h0M1126 854h0M1155 852h0M1298 851h0M1188 861h0M1318 871h0M1028 877h0M1035 880h0M1228 876h0M1254 878h0M1349 876h0M919 886h0M1324 886h0M901 904h0M1040 903h0M1224 904h0M1324 903h0M1016 912h0M1057 913h0M1067 912h0M1131 910h0M1059 920h0M1242 921h0M1066 928h0M1104 928h0M1032 938h0M1040 936h0M1183 937h0M1214 937h0M1152 943h0M1190 945h0M1274 945h0M1267 953h0M1337 954h0M901 970h0M937 969h0M966 984h0M1223 986h0M1308 986h0M1319 987h0M982 991h0M1150 993h0M1255 993h0M940 1010h0M953 1008h0M972 1008h0M1027 1024h0M1275 1026h0M1059 1033h0M1100 1035h0M997 1044h0M1196 1041h0M1206 1043h0M1218 1044h0M1274 1041h0M1305 1041h0M1126 1052h0M1132 1058h0M1180 1059h0M1299 1068h0M1187 1074h0M1023 1084h0M1060 1082h0M1014 1100h0M1068 1100h0M1192 1100h0M1233 1101h0M1010 1108h0M1264 1107h0M1294 1109h0M1259 1116h0M1287 1116h0M1083 1127h0M1139 1123h0M1170 1127h0M1024 1133h0M1070 1134h0M1174 1133h0M1201 1135h0M1207 1143h0M1123 1156h0M1032 1168h0M1097 1166h0M1101 1176h0M1142 1189h0" stroke="#78d860" stroke-width="4.0" stroke-linecap="round" fill="none"/><path d="M1407 695h0M1342 713h0M1436 731h0M1454 732h0M1378 746h0M1444 781h0M1347 788h0M1248 795h0M1380 795h0M1336 806h0M1350 810h0M1157 820h0M1346 818h0M1165 839h0M1205 839h0M1134 843h0M1160 846h0M1341 844h0M1015 853h0M1175 852h0M1259 855h0M1290 854h0M1373 855h0M1383 854h0M1104 860h0M1022 872h0M1269 872h0M953 876h0M909 885h0M1182 886h0M1214 886h0M1252 886h0M924 892h0M1179 895h0M1003 901h0M1157 905h0M1347 905h0M1076 909h0M1218 912h0M1293 913h0M977 917h0M1033 918h0M1052 919h0M1118 918h0M1138 921h0M875 929h0M951 928h0M971 929h0M1264 928h0M1273 927h0M1342 926h0M1025 936h0M1125 934h0M1239 936h0M1299 938h0M1114 943h0M1256 943h0M1313 946h0M1322 946h0M888 953h0M973 951h0M1221 951h0M1297 951h0M1018 960h0M1025 960h0M1114 962h0M1256 962h0M1295 961h0M1303 960h0M1014 969h0M1148 970h0M1065 977h0M1102 979h0M1159 979h0M1168 977h0M1173 983h0M905 994h0M1064 992h0M1171 992h0M1179 992h0M938 1001h0M976 1000h0M1066 1012h0M1149 1009h0M1209 1012h0M1236 1011h0M1145 1016h0M1199 1028h0M1021 1036h0M1259 1035h0M1019 1042h0M1177 1044h0M986 1052h0M1221 1050h0M1158 1058h0M1255 1059h0M1260 1065h0M1269 1068h0M1020 1074h0M1180 1075h0M1079 1100h0M1117 1102h0M1211 1099h0M1250 1099h0M1064 1107h0M1076 1110h0M1179 1107h0M1005 1118h0M1040 1118h0M1268 1115h0M1073 1126h0M1092 1126h0M1102 1126h0M1002 1134h0M1033 1133h0M1157 1131h0M1165 1131h0M1222 1133h0M1020 1141h0M1228 1141h0M1244 1141h0M1148 1149h0M1019 1157h0M1042 1168h0M1127 1164h0M1023 1183h0M1119 1181h0M1061 1200h0" stroke="#d0c850" stroke-width="4.0" stroke-linecap="round" fill="none"/><path d="M1438 699h0M1427 716h0M1447 731h0M1363 738h0M1361 747h0M1428 749h0M1447 762h0M1474 779h0M1279 786h0M1372 786h0M1441 789h0M1214 802h0M1239 803h0M1375 803h0M1104 813h0M1304 811h0M1087 819h0M1115 818h0M1161 831h0M1236 828h0M1266 828h0M1192 838h0M1242 838h0M934 844h0M988 845h0M997 843h0M1333 844h0M1041 852h0M1116 852h0M1250 853h0M1316 852h0M1411 853h0M1123 861h0M1323 860h0M974 869h0M1013 871h0M1043 869h0M1080 872h0M1136 870h0M1401 871h0M1131 877h0M982 886h0M1030 888h0M1089 886h0M1258 888h0M1270 885h0M1315 888h0M934 894h0M943 893h0M1143 895h0M1265 894h0M1357 902h0M1124 910h0M1341 911h0M1194 919h0M1267 919h0M1336 919h0M1192 935h0M1048 942h0M1168 945h0M1178 945h0M1044 962h0M1141 962h0M1005 968h0M1177 978h0M1099 987h0M1192 983h0M923 992h0M942 993h0M961 992h0M1133 992h0M917 1000h0M928 1003h0M955 1003h0M1147 1001h0M1156 1001h0M1111 1011h0M1058 1020h0M1111 1028h0M983 1036h0M1196 1036h0M1244 1044h0M1163 1050h0M1271 1049h0M1168 1057h0M1226 1061h0M1282 1060h0M1137 1068h0M1010 1075h0M1073 1077h0M1252 1084h0M1261 1083h0M1168 1092h0M1223 1099h0M1096 1108h0M1194 1116h0M1012 1134h0M1195 1132h0M1287 1131h0M1014 1151h0M1090 1150h0M1232 1149h0M1037 1159h0M1077 1156h0M1150 1158h0M1161 1158h0M1177 1157h0M1075 1173h0M1151 1175h0M1071 1197h0" stroke="#e06050" stroke-width="4.0" stroke-linecap="round" fill="none"/><path d="M1346 704h0M1350 714h0M1386 715h0M1418 714h0M1383 720h0M1449 721h0M1340 732h0M1358 730h0M1387 729h0M1382 740h0M1464 746h0M1347 757h0M1439 754h0M1324 763h0M1335 773h0M1367 781h0M1385 789h0M1221 806h0M1259 803h0M1114 814h0M1178 813h0M1245 813h0M1078 823h0M1214 822h0M1336 821h0M1105 827h0M1312 827h0M1360 828h0M1041 836h0M1230 836h0M1094 844h0M1266 845h0M1292 844h0M1361 847h0M1416 847h0M926 851h0M986 852h0M1069 853h0M1167 852h0M1182 854h0M1327 854h0M962 860h0M1132 862h0M986 868h0M1298 870h0M1140 878h0M1266 879h0M900 885h0M996 884h0M1052 887h0M896 893h0M1083 894h0M1188 894h0M1314 894h0M935 904h0M975 903h0M1108 904h0M1232 904h0M1319 902h0M1374 904h0M960 911h0M1143 912h0M917 921h0M904 927h0M1245 925h0M1071 935h0M990 945h0M1037 943h0M1105 942h0M1120 946h0M1196 943h0M1236 944h0M900 950h0M939 953h0M1079 954h0M1108 950h0M1183 950h0M922 962h0M1058 961h0M1123 959h0M1188 961h0M1199 961h0M890 969h0M1050 968h0M1242 968h0M940 975h0M969 977h0M1075 975h0M1083 977h0M1152 977h0M1226 978h0M1059 987h0M953 992h0M1075 994h0M1103 994h0M967 1004h0M986 1002h0M1014 1001h0M1053 1001h0M1127 1003h0M1212 1002h0M1287 1000h0M1305 1001h0M1316 1001h0M962 1011h0M1007 1009h0M1254 1009h0M1149 1024h0M1235 1027h0M1032 1033h0M1117 1033h0M1204 1033h0M1213 1034h0M1227 1040h0M1015 1049h0M1052 1052h0M1102 1057h0M1155 1084h0M1299 1086h0M1009 1091h0M1016 1092h0M1237 1092h0M1264 1091h0M1186 1102h0M1239 1102h0M1053 1119h0M1136 1118h0M1232 1115h0M1056 1140h0M1073 1141h0M1098 1151h0M1066 1156h0M1104 1190h0" stroke="#90d840" stroke-width="4.0" stroke-linecap="round" fill="none"/><path d="M1412 705h0M1351 729h0M1351 748h0M1392 755h0M1410 753h0M1465 762h0M1292 778h0M1455 779h0M1410 789h0M1313 794h0M1412 803h0M1189 813h0M1054 827h0M1197 830h0M1226 827h0M1105 847h0M1141 843h0M1188 844h0M1227 847h0M1303 847h0M909 853h0M966 855h0M1211 855h0M1240 853h0M931 860h0M1152 862h0M1295 860h0M1310 862h0M1089 868h0M1099 868h0M1195 870h0M1278 871h0M1054 879h0M1172 880h0M1329 877h0M1078 888h0M961 895h0M1339 895h0M1037 912h0M1105 912h0M1188 910h0M1226 910h0M1266 912h0M897 918h0M928 920h0M1021 921h0M924 929h0M889 934h0M1147 935h0M1153 936h0M1259 934h0M1309 934h0M951 943h0M1084 945h0M1247 946h0M1129 953h0M1263 962h0M1275 962h0M1320 962h0M916 968h0M956 970h0M1316 970h0M953 975h0M998 979h0M1134 977h0M1304 975h0M910 985h0M957 985h0M1005 984h0M1050 983h0M1246 992h0M1020 1003h0M1269 1002h0M978 1011h0M998 1009h0M1172 1008h0M1106 1017h0M1085 1027h0M1052 1036h0M1055 1042h0M1237 1044h0M1263 1044h0M1080 1051h0M1192 1052h0M1251 1050h0M995 1066h0M1043 1067h0M1066 1076h0M1160 1074h0M1032 1099h0M1126 1100h0M1156 1116h0M1189 1124h0M1228 1124h0M1263 1124h0M1261 1134h0M1270 1133h0M1282 1140h0M1071 1149h0M1166 1148h0M1027 1156h0M1110 1166h0M1037 1175h0M1079 1198h0M1092 1208h0" stroke="#68d868" stroke-width="4.0" stroke-linecap="round" fill="none"/><path d="M1436 715h0M1336 720h0M1344 721h0M1331 732h0M1345 736h0M1461 740h0M1399 747h0M1449 756h0M1418 763h0M1453 762h0M1385 770h0M1423 772h0M1429 773h0M1352 780h0M1378 780h0M1283 795h0M1397 797h0M1447 795h0M1203 805h0M1432 803h0M1120 814h0M1161 811h0M1255 811h0M1371 812h0M1258 820h0M1000 829h0M1140 827h0M1247 829h0M1062 836h0M1270 837h0M1395 836h0M1414 835h0M1084 844h0M954 855h0M1181 863h0M1196 862h0M1237 861h0M908 870h0M1116 872h0M1165 869h0M940 879h0M1178 877h0M1301 879h0M967 885h0M975 887h0M1167 886h0M1356 884h0M1365 887h0M970 897h0M980 893h0M990 892h0M1037 895h0M1048 897h0M1208 893h0M1331 896h0M1378 897h0M986 901h0M1129 901h0M1205 903h0M1249 902h0M1279 903h0M1336 902h0M885 909h0M922 909h0M989 927h0M1284 926h0M1333 926h0M1358 926h0M1137 937h0M1326 935h0M1025 945h0M917 952h0M1233 951h0M1260 954h0M986 969h0M1192 969h0M1309 970h0M1045 976h0M1283 978h0M936 986h0M1040 983h0M1293 994h0M945 1001h0M1201 1003h0M1222 999h0M1280 1000h0M1216 1009h0M964 1019h0M1173 1019h0M1223 1016h0M1231 1017h0M962 1024h0M971 1026h0M1263 1024h0M1282 1028h0M1089 1034h0M963 1042h0M1284 1043h0M967 1049h0M1022 1052h0M1127 1067h0M1164 1069h0M1279 1068h0M1045 1076h0M1104 1074h0M1228 1074h0M1235 1076h0M1279 1084h0M1112 1092h0M1143 1093h0M1256 1090h0M1053 1102h0M1106 1102h0M1277 1099h0M1235 1106h0M1031 1116h0M1052 1135h0M1080 1132h0M1128 1132h0M1241 1135h0M1151 1144h0M1204 1150h0M1093 1156h0M1139 1160h0M1172 1157h0M1091 1165h0" stroke="#40c8c8" stroke-width="4.0" stroke-linecap="round" fill="none"/><path d="M1328 740h0M1337 736h0M1322 747h0M1376 757h0M1391 770h0M1303 778h0M1315 790h0M1366 789h0M1476 786h0M1403 803h0M1140 814h0M1272 814h0M1359 811h0M1397 814h0M1099 821h0M1192 821h0M1231 819h0M1242 819h0M1414 820h0M1112 828h0M1108 839h0M1287 837h0M1034 852h0M1080 853h0M1279 855h0M1364 852h0M894 863h0M988 864h0M1273 861h0M1398 863h0M1239 872h0M1305 868h0M1065 877h0M1093 880h0M1149 877h0M1098 887h0M1128 887h0M1156 887h0M1229 884h0M1281 887h0M1111 896h0M1098 903h0M1166 904h0M1212 903h0M951 912h0M1199 909h0M1247 912h0M1014 918h0M1297 920h0M1345 919h0M1367 921h0M1112 926h0M1294 926h0M929 937h0M1051 937h0M1059 938h0M1090 937h0M1033 954h0M1145 950h0M959 960h0M990 959h0M882 968h0M929 968h0M1060 967h0M1138 969h0M896 978h0M981 975h0M1007 976h0M1210 978h0M1322 978h0M916 986h0M1011 986h0M1116 987h0M933 995h0M1114 995h0M1219 992h0M1283 991h0M1183 1002h0M1242 1001h0M1018 1008h0M1178 1008h0M1187 1010h0M1248 1008h0M1274 1010h0M1004 1016h0M1261 1017h0M1277 1020h0M1298 1019h0M1270 1036h0M1026 1041h0M1122 1042h0M1098 1051h0M1138 1051h0M1262 1050h0M1005 1065h0M1091 1066h0M1185 1065h0M1249 1066h0M1289 1068h0M1056 1077h0M1095 1074h0M1123 1077h0M1247 1074h0M1100 1085h0M1186 1084h0M1203 1084h0M1223 1083h0M1178 1092h0M1188 1091h0M1209 1091h0M1271 1101h0M1282 1110h0M1196 1127h0M1237 1124h0M1250 1132h0M1083 1140h0M1132 1142h0M1110 1150h0M1173 1148h0M1267 1148h0M1200 1157h0M1160 1176h0M1087 1182h0M1144 1184h0M1083 1189h0M1100 1199h0" stroke="#70d890" stroke-width="4.0" stroke-linecap="round" fill="none"/><path d="M1393 737h0M1389 745h0M1318 754h0M1432 756h0M1387 762h0M1399 763h0M1426 778h0M1238 795h0M1426 794h0M1157 805h0M1457 802h0M1285 811h0M1390 814h0M1428 813h0M1050 822h0M1061 820h0M973 838h0M1003 839h0M1200 843h0M1254 846h0M902 860h0M951 861h0M979 861h0M1066 861h0M1218 864h0M1266 860h0M1406 862h0M1252 869h0M1259 870h0M1365 872h0M971 878h0M1086 877h0M1199 879h0M1342 876h0M1361 879h0M1371 878h0M1387 877h0M1004 885h0M1116 887h0M1222 888h0M1300 886h0M1375 884h0M887 897h0M903 896h0M1008 894h0M1067 895h0M1074 895h0M1200 894h0M1358 895h0M1087 904h0M1182 903h0M911 912h0M1090 919h0M1125 918h0M1183 918h0M1214 919h0M1315 921h0M895 928h0M944 928h0M998 927h0M1008 926h0M1048 926h0M1096 927h0M1121 929h0M1160 928h0M1172 928h0M1227 929h0M919 937h0M939 936h0M965 937h0M1173 935h0M1317 934h0M968 943h0M1017 944h0M1282 945h0M1044 954h0M1166 954h0M1173 952h0M1213 952h0M1157 969h0M1252 968h0M1288 969h0M1092 978h0M1189 976h0M1197 975h0M1110 986h0M1270 985h0M1289 987h0M1163 1003h0M1300 1003h0M1225 1008h0M1267 1008h0M939 1016h0M1040 1019h0M1057 1028h0M1123 1024h0M1133 1027h0M1171 1025h0M1228 1028h0M1254 1024h0M974 1034h0M1102 1044h0M974 1051h0M1242 1051h0M987 1061h0M1195 1065h0M1140 1075h0M1050 1083h0M1137 1084h0M1003 1099h0M1090 1100h0M1166 1099h0M1175 1100h0M1026 1109h0M1086 1109h0M1133 1110h0M1012 1116h0M1242 1117h0M1058 1124h0M1215 1124h0M1040 1132h0M1063 1133h0M1120 1151h0M1121 1174h0M1169 1174h0M1137 1181h0M1054 1193h0" stroke="#60d878" stroke-width="4.0" stroke-linecap="round" fill="none"/><path d="M1414 739h0M1328 754h0M1386 756h0M1459 755h0M1428 762h0M1363 770h0M1458 789h0M1256 797h0M1389 797h0M1405 795h0M1176 806h0M1442 802h0M1131 813h0M1108 822h0M1392 822h0M1421 820h0M1273 831h0M1283 829h0M1398 830h0M1434 827h0M1012 835h0M1031 836h0M1388 846h0M995 852h0M1148 852h0M970 861h0M1027 862h0M1035 862h0M1076 859h0M1340 862h0M1348 861h0M1378 864h0M966 870h0M1224 871h0M1395 872h0M911 878h0M924 878h0M1019 879h0M1104 879h0M1069 887h0M1384 886h0M1302 893h0M1322 894h0M1371 894h0M888 902h0M1022 904h0M1159 910h0M1207 913h0M1273 909h0M938 919h0M1043 918h0M1165 921h0M1309 918h0M1085 927h0M884 944h0M1132 943h0M1349 945h0M880 951h0M1049 952h0M1069 952h0M1089 954h0M1318 952h0M970 961h0M1000 962h0M1070 968h0M1024 987h0M1087 986h0M1155 985h0M1141 995h0M1274 992h0M1004 1001h0M930 1008h0M1025 1011h0M1160 1008h0M1313 1008h0M1089 1019h0M1182 1020h0M1201 1018h0M991 1027h0M1093 1028h0M1012 1035h0M1106 1035h0M1174 1033h0M1299 1033h0M1149 1044h0M1005 1051h0M1296 1050h0M1236 1060h0M1033 1065h0M1001 1077h0M1083 1076h0M1197 1074h0M1013 1083h0M1107 1083h0M1232 1083h0M1134 1091h0M1276 1094h0M1059 1099h0M1100 1102h0M1020 1107h0M1070 1116h0M1091 1116h0M1186 1116h0M1229 1134h0M1063 1140h0M1162 1141h0M1256 1141h0M1024 1152h0M1155 1151h0M1048 1157h0M1068 1166h0M1183 1164h0M1046 1190h0M1114 1207h0" stroke="#e8a040" stroke-width="4.0" stroke-linecap="round" fill="none"/><path d="M1475 794h0M1455 815h0M1470 822h0M1427 850h0M1446 852h0M1455 852h0M1468 852h0M1423 857h0M1445 857h0M1432 862h0M1440 862h0M1429 869h0M1436 870h0M1443 871h0M1451 868h0M1471 867h0M1441 876h0M1452 875h0M1450 880h0M1454 886h0M1462 886h0M1390 893h0M1423 891h0M1442 900h0M1405 905h0M1451 917h0M1371 921h0M1426 922h0M1409 929h0M1462 933h0M1396 940h0M1424 939h0M1456 940h0M1433 947h0M1369 950h0M1384 951h0M1396 950h0M1411 951h0M1413 970h0M1349 975h0M1330 981h0M1326 985h0M1381 987h0M1411 986h0M1424 988h0M1412 991h0M1433 992h0M1334 998h0M1375 998h0M1405 1000h0M1326 1004h0M1346 1004h0M1408 1003h0M1369 1012h0M1416 1011h0M1359 1015h0M1365 1017h0M1372 1018h0M1379 1016h0M1356 1022h0M1369 1022h0M1324 1029h0M1333 1027h0M1381 1034h0M1409 1034h0M1347 1039h0M1386 1040h0M1407 1040h0M1343 1047h0M1374 1045h0M1403 1047h0M1374 1051h0M1396 1058h0M1323 1065h0M1333 1062h0M1343 1068h0M1373 1074h0M1353 1087h0M1345 1099h0M1308 1105h0M1342 1104h0M1348 1105h0M1367 1104h0M1338 1124h0M1359 1121h0M1340 1142h0M1347 1138h0" stroke="#c0d050" stroke-width="3.4" stroke-linecap="round" fill="none"/><path d="M1470 799h0M1463 834h0M1438 847h0M1450 847h0M1472 845h0M1408 877h0M1459 875h0M1404 883h0M1417 893h0M1396 906h0M1447 912h0M1404 918h0M1408 916h0M1415 915h0M1447 922h0M1382 927h0M1397 927h0M1373 933h0M1405 934h0M1421 934h0M1383 940h0M1364 944h0M1391 946h0M1413 956h0M1403 962h0M1445 962h0M1374 969h0M1384 968h0M1441 967h0M1361 973h0M1383 976h0M1426 980h0M1394 985h0M1417 986h0M1323 992h0M1347 994h0M1406 993h0M1370 997h0M1424 999h0M1429 997h0M1352 1005h0M1371 1006h0M1330 1012h0M1396 1011h0M1410 1010h0M1436 1011h0M1320 1022h0M1328 1021h0M1363 1023h0M1415 1023h0M1340 1028h0M1344 1030h0M1366 1028h0M1415 1030h0M1412 1038h0M1370 1045h0M1325 1052h0M1365 1053h0M1327 1059h0M1335 1056h0M1376 1058h0M1390 1056h0M1318 1064h0M1369 1071h0M1344 1075h0M1341 1080h0M1384 1082h0M1337 1088h0M1346 1085h0M1380 1087h0M1362 1095h0M1330 1097h0M1374 1104h0M1338 1112h0M1347 1117h0M1360 1116h0M1368 1117h0M1366 1122h0M1350 1145h0" stroke="#88c858" stroke-width="3.4" stroke-linecap="round" fill="none"/><path d="M1469 803h0M1439 841h0M1459 858h0M1464 858h0M1428 874h0M1432 876h0M1448 874h0M1417 881h0M1435 880h0M1464 881h0M1400 888h0M1450 893h0M1447 899h0M1461 900h0M1432 905h0M1387 909h0M1427 912h0M1441 912h0M1460 909h0M1370 918h0M1381 918h0M1380 921h0M1385 921h0M1413 924h0M1457 929h0M1401 933h0M1440 935h0M1454 934h0M1350 947h0M1385 947h0M1412 947h0M1453 944h0M1348 953h0M1354 950h0M1390 950h0M1429 952h0M1351 957h0M1350 963h0M1368 962h0M1424 963h0M1432 963h0M1450 963h0M1353 970h0M1380 969h0M1392 970h0M1401 969h0M1407 969h0M1420 968h0M1427 969h0M1434 968h0M1446 969h0M1374 976h0M1395 974h0M1445 976h0M1386 981h0M1392 980h0M1363 988h0M1367 987h0M1437 985h0M1386 993h0M1401 993h0M1388 998h0M1386 1004h0M1391 1009h0M1319 1016h0M1421 1016h0M1341 1023h0M1390 1024h0M1397 1022h0M1393 1030h0M1406 1028h0M1334 1032h0M1340 1036h0M1348 1034h0M1361 1033h0M1330 1039h0M1338 1038h0M1313 1046h0M1329 1044h0M1330 1051h0M1338 1053h0M1398 1050h0M1356 1057h0M1363 1059h0M1371 1064h0M1390 1071h0M1378 1074h0M1360 1082h0M1324 1085h0M1352 1100h0M1360 1099h0M1317 1112h0M1330 1121h0M1357 1128h0M1361 1130h0M1331 1133h0" stroke="#98c450" stroke-width="3.4" stroke-linecap="round" fill="none"/><path d="M1473 805h0M1461 816h0M1468 815h0M1450 823h0M1438 834h0M1471 834h0M1452 839h0M1462 847h0M1434 850h0M1432 856h0M1449 858h0M1411 868h0M1414 874h0M1458 880h0M1470 879h0M1391 897h0M1408 897h0M1425 904h0M1442 903h0M1465 904h0M1378 910h0M1406 910h0M1413 909h0M1432 909h0M1468 909h0M1375 915h0M1438 915h0M1392 921h0M1454 922h0M1436 929h0M1444 928h0M1358 933h0M1415 935h0M1362 939h0M1375 941h0M1404 941h0M1409 941h0M1431 939h0M1374 944h0M1400 946h0M1446 944h0M1375 952h0M1405 953h0M1357 958h0M1372 958h0M1415 964h0M1329 975h0M1402 974h0M1429 974h0M1359 982h0M1420 981h0M1439 980h0M1446 982h0M1341 986h0M1377 987h0M1402 987h0M1319 994h0M1364 994h0M1379 993h0M1391 992h0M1427 991h0M1440 994h0M1382 997h0M1338 1004h0M1377 1005h0M1428 1004h0M1439 1006h0M1340 1011h0M1401 1009h0M1337 1018h0M1412 1015h0M1375 1021h0M1382 1022h0M1409 1021h0M1357 1038h0M1378 1039h0M1378 1052h0M1385 1053h0M1321 1058h0M1340 1063h0M1351 1062h0M1359 1065h0M1377 1064h0M1334 1071h0M1323 1077h0M1327 1081h0M1364 1087h0M1371 1085h0M1307 1094h0M1349 1094h0M1356 1092h0M1366 1098h0M1371 1100h0M1304 1110h0M1332 1110h0M1346 1112h0M1351 1123h0M1322 1129h0M1336 1127h0M1326 1133h0M1351 1135h0" stroke="#b0c848" stroke-width="3.4" stroke-linecap="round" fill="none"/><path d="M1459 809h0M1475 816h0M1454 828h0M1456 834h0M1446 841h0M1469 838h0M1469 864h0M1463 869h0M1408 882h0M1422 882h0M1420 886h0M1432 888h0M1436 893h0M1445 893h0M1387 897h0M1452 899h0M1468 898h0M1384 905h0M1389 905h0M1436 904h0M1423 915h0M1429 916h0M1367 921h0M1440 920h0M1368 927h0M1364 933h0M1368 940h0M1443 941h0M1415 951h0M1424 950h0M1365 958h0M1406 956h0M1421 959h0M1388 965h0M1346 969h0M1359 969h0M1367 968h0M1342 976h0M1390 975h0M1424 976h0M1347 982h0M1380 980h0M1412 981h0M1350 987h0M1374 994h0M1357 998h0M1364 1000h0M1396 1000h0M1365 1003h0M1393 1004h0M1323 1011h0M1355 1011h0M1377 1010h0M1326 1017h0M1352 1016h0M1393 1016h0M1336 1022h0M1403 1021h0M1385 1028h0M1354 1034h0M1388 1034h0M1396 1034h0M1401 1038h0M1320 1046h0M1336 1044h0M1347 1047h0M1356 1046h0M1390 1046h0M1358 1050h0M1341 1058h0M1370 1057h0M1391 1062h0M1315 1068h0M1323 1070h0M1383 1071h0M1310 1074h0M1338 1076h0M1309 1082h0M1322 1082h0M1356 1082h0M1374 1080h0M1333 1085h0M1328 1092h0M1371 1094h0M1374 1094h0M1316 1099h0M1325 1097h0M1314 1103h0M1330 1106h0M1354 1105h0M1324 1112h0M1352 1109h0M1344 1121h0M1344 1133h0M1360 1135h0M1345 1147h0" stroke="#a8c040" stroke-width="3.4" stroke-linecap="round" fill="none"/><path d="M1464 811h0M1472 808h0M1463 820h0M1446 827h0M1452 834h0M1435 841h0M1462 839h0M1443 845h0M1473 852h0M1427 864h0M1448 862h0M1415 869h0M1418 876h0M1445 881h0M1414 887h0M1440 886h0M1403 893h0M1431 893h0M1457 892h0M1465 892h0M1414 897h0M1428 900h0M1457 904h0M1453 911h0M1462 915h0M1362 928h0M1416 927h0M1424 929h0M1427 935h0M1434 932h0M1391 940h0M1418 939h0M1360 946h0M1421 944h0M1439 946h0M1362 950h0M1439 952h0M1380 958h0M1398 956h0M1363 963h0M1435 964h0M1333 969h0M1337 968h0M1357 976h0M1365 980h0M1432 981h0M1335 985h0M1429 986h0M1442 986h0M1358 992h0M1409 999h0M1436 997h0M1358 1003h0M1435 1003h0M1336 1009h0M1343 1016h0M1348 1023h0M1377 1028h0M1377 1034h0M1325 1040h0M1364 1041h0M1394 1040h0M1346 1051h0M1344 1063h0M1329 1068h0M1350 1068h0M1351 1075h0M1358 1075h0M1312 1086h0M1313 1094h0M1340 1099h0M1336 1106h0M1361 1105h0M1359 1111h0M1313 1116h0M1327 1117h0M1336 1117h0M1341 1118h0M1337 1134h0M1354 1140h0" stroke="#c8d048" stroke-width="3.4" stroke-linecap="round" fill="none"/><path d="M1458 821h0M1439 829h0M1443 833h0M1427 840h0M1423 846h0M1431 845h0M1441 851h0M1437 858h0M1471 857h0M1419 864h0M1453 864h0M1474 864h0M1468 874h0M1406 886h0M1467 886h0M1396 893h0M1408 894h0M1432 899h0M1415 906h0M1449 905h0M1393 911h0M1400 912h0M1420 910h0M1395 917h0M1459 915h0M1401 923h0M1449 928h0M1385 934h0M1451 939h0M1378 945h0M1407 947h0M1425 944h0M1443 951h0M1393 958h0M1432 958h0M1439 957h0M1448 956h0M1341 964h0M1354 963h0M1383 963h0M1409 963h0M1326 980h0M1340 980h0M1353 981h0M1322 988h0M1331 993h0M1338 993h0M1418 991h0M1343 999h0M1417 999h0M1332 1003h0M1400 1006h0M1420 1004h0M1349 1012h0M1382 1011h0M1423 1011h0M1430 1009h0M1332 1015h0M1384 1017h0M1400 1016h0M1353 1029h0M1372 1029h0M1328 1034h0M1402 1035h0M1352 1040h0M1371 1039h0M1361 1047h0M1350 1059h0M1312 1062h0M1367 1065h0M1385 1064h0M1361 1068h0M1316 1076h0M1333 1074h0M1385 1076h0M1347 1083h0M1369 1082h0M1316 1088h0M1320 1094h0M1320 1106h0M1310 1110h0M1366 1109h0M1326 1124h0M1329 1129h0M1342 1129h0M1336 1140h0" stroke="#d0b840" stroke-width="3.4" stroke-linecap="round" fill="none"/><path d="M1460 828h0M1468 828h0M1473 827h0M1456 847h0M1421 853h0M1462 852h0M1413 864h0M1460 862h0M1425 870h0M1459 868h0M1428 881h0M1427 888h0M1446 888h0M1400 897h0M1419 900h0M1408 903h0M1391 917h0M1442 917h0M1407 922h0M1418 920h0M1432 924h0M1462 922h0M1377 929h0M1390 929h0M1405 926h0M1432 927h0M1380 936h0M1391 934h0M1448 935h0M1357 938h0M1438 939h0M1451 951h0M1344 959h0M1387 956h0M1428 956h0M1375 964h0M1395 964h0M1334 975h0M1370 974h0M1410 977h0M1418 976h0M1439 974h0M1371 982h0M1400 981h0M1406 981h0M1355 989h0M1389 986h0M1353 993h0M1320 997h0M1328 998h0M1349 997h0M1318 1004h0M1411 1003h0M1362 1009h0M1407 1016h0M1428 1016h0M1424 1020h0M1317 1027h0M1360 1030h0M1400 1027h0M1322 1032h0M1370 1035h0M1319 1041h0M1382 1045h0M1397 1046h0M1319 1050h0M1351 1051h0M1392 1051h0M1313 1059h0M1382 1058h0M1354 1068h0M1377 1068h0M1364 1077h0M1315 1080h0M1334 1080h0M1359 1087h0M1335 1091h0M1340 1094h0M1313 1098h0M1321 1117h0M1355 1116h0M1317 1121h0M1350 1128h0" stroke="#b8c840" stroke-width="3.4" stroke-linecap="round" fill="none"/><path d="M1202 1130h0M1140 1078h0M1267 1110h0M1294 996h0M1164 1157h0M1203 1054h0M1290 1035h0M1293 1047h0M1104 1091h0M1159 1001h0M1228 1117h0M1276 1084h0M1103 1124h0M1208 1070h0M1297 1077h0M1261 1066h0M1196 1079h0M1169 1022h0M1143 1058h0M1226 1146h0M1137 1029h0M1275 1067h0M1282 1092h0M1240 1057h0M1259 1011h0M1228 1011h0M1103 1103h0M1177 1123h0M1190 1068h0M1303 1035h0M1087 1085h0M1164 1097h0M1106 1078h0M1172 1070h0M1131 1011h0M1108 1000h0M1232 1019h0" stroke="#e05040" stroke-width="3.4" stroke-linecap="round" fill="none"/><path d="M1149 1124h0M1229 1110h0M1206 1143h0M1214 1146h0M1097 1040h0M1141 1120h0M1120 1043h0M1133 1062h0M1305 1095h0M1126 1091h0M1143 1081h0M1085 1012h0M1255 1051h0M1273 999h0M1221 1146h0M1156 1157h0M1182 1155h0M1300 1045h0M1279 1119h0M1299 1032h0M1276 1005h0M1104 1142h0M1231 1083h0M1090 1103h0M1238 1071h0M1114 1030h0M1238 1142h0M1215 1089h0M1175 1015h0M1094 1037h0M1165 1066h0M1243 1048h0M1146 1027h0M1243 1037h0M1194 1138h0M1125 1050h0M1302 1028h0M1286 1021h0M1323 1070h0M1318 1028h0M1306 1040h0M1320 1090h0M1321 1028h0M1293 1084h0M1299 1034h0M1311 993h0M1297 1089h0M1270 1027h0M1330 1087h0M1331 1008h0M1274 1070h0M1318 999h0M1321 1073h0M1311 1060h0M1329 1081h0M1302 1081h0M1316 1061h0M1291 1005h0M1296 989h0M1308 1025h0M1286 994h0M1295 1092h0M1307 989h0M1287 1001h0M1277 1078h0M1313 1013h0M1301 1027h0M1273 1031h0M1320 1031h0M1329 1094h0M1289 1070h0M1289 1093h0M1311 1038h0M1315 1036h0" stroke="#2040ff" stroke-width="3.4" stroke-linecap="round" fill="none"/><path d="M1206 1040h0M1174 1163h0M1238 1148h0M1233 1062h0M1215 1081h0M1103 1011h0M1160 1049h0M1291 1097h0M1261 1133h0M1265 1066h0M1281 1048h0M1184 1036h0M1129 1047h0M1128 1037h0M1279 1042h0M1205 1084h0M1263 1138h0M1091 1060h0M1127 1131h0M1238 1136h0M1311 1011h0M1086 1008h0M1273 1019h0M1092 1088h0M1168 1112h0M1216 1137h0" stroke="#2030e0" stroke-width="3.4" stroke-linecap="round" fill="none"/><path d="M1139 1132h0M1216 994h0M1086 1120h0M1203 1016h0M1269 1001h0M1286 1093h0M1209 1023h0M1143 1161h0M1282 998h0M1117 1043h0M1083 1014h0M1099 1051h0M1237 1077h0M1222 1110h0M1298 1075h0M1280 1077h0M1168 1069h0M1206 1048h0M1295 1003h0M1179 1007h0M1266 1076h0M1084 994h0M1086 1153h0M1157 1074h0M1258 1104h0M1177 1081h0M1147 1092h0M1329 997h0M1296 995h0M1278 1039h0M1270 1035h0M1308 1042h0M1329 1037h0M1295 1066h0M1275 1019h0M1276 992h0M1312 986h0M1281 1016h0M1323 1007h0M1274 1017h0M1311 1047h0M1332 995h0M1276 1033h0M1274 1034h0M1299 1046h0M1327 991h0M1301 1089h0M1314 1010h0M1287 1038h0M1287 1071h0M1276 1027h0M1272 1003h0M1290 1008h0M1322 987h0" stroke="#40c0d0" stroke-width="3.4" stroke-linecap="round" fill="none"/><path d="M1114 1128h0M1137 1088h0M1218 1060h0M1207 1085h0M1184 1158h0M1135 1047h0M1121 1157h0M1223 1056h0M1187 1133h0M1159 1085h0M1239 1046h0M1136 1147h0M1266 1042h0M1294 1081h0M1255 1029h0M1127 1116h0M1269 1008h0M1284 1124h0M1278 1111h0M1157 1059h0M1193 1157h0M1196 1038h0M1163 1075h0M1238 1109h0M1133 1049h0M1233 1073h0M1269 1098h0M1184 1069h0M1288 1073h0M1088 1004h0" stroke="#3050f0" stroke-width="3.4" stroke-linecap="round" fill="none"/><path d="M1117 1113h0M1098 1063h0M1298 1074h0M1114 1131h0M1221 1088h0M1292 996h0M1134 1156h0M1288 1049h0M1152 1053h0M1185 1079h0M1252 1003h0M1142 1054h0M1178 1149h0M1193 1015h0M1183 1146h0M1211 1021h0M1302 1062h0M1206 1068h0M1100 1008h0M1102 1043h0M1169 1038h0M1244 1040h0M1166 1030h0M1268 1012h0M1151 1096h0M1222 1014h0M1225 1135h0M1220 1134h0M1087 1016h0M1117 1069h0M1105 1081h0M1141 1070h0M1258 1032h0M1122 1137h0" stroke="#e09040" stroke-width="3.4" stroke-linecap="round" fill="none"/><path d="M1001 876h0M1000 844h0M1064 868h0M1094 881h0M985 848h0M990 850h0M990 882h0" stroke="#e05040" stroke-width="3.0" stroke-linecap="round" fill="none"/><path d="M1008 896h0M1085 844h0M1048 844h0M1020 858h0M1010 888h0M1074 887h0M1026 839h0M1015 839h0M1091 882h0M1052 895h0M1028 866h0M981 894h0M1023 867h0M1072 889h0M1027 882h0" stroke="#2040ff" stroke-width="3.0" stroke-linecap="round" fill="none"/><path d="M1038 863h0M1086 882h0M1002 875h0M1091 884h0M1068 875h0M980 869h0M1071 859h0M1037 869h0M996 877h0M1006 836h0" stroke="#40c0d0" stroke-width="3.0" stroke-linecap="round" fill="none"/><path d="M994 866h0M1083 895h0M1037 894h0M1039 885h0M1045 837h0M1037 864h0M1057 868h0M1070 831h0M1037 886h0M1027 879h0M1079 888h0M1006 889h0M1001 889h0M999 870h0M1085 896h0M1070 880h0M1057 895h0M987 832h0" stroke="#3050f0" stroke-width="3.0" stroke-linecap="round" fill="none"/><path d="M1005 851h0M1072 889h0M1039 884h0M1091 849h0M1024 855h0M1072 867h0M1058 845h0" stroke="#2030e0" stroke-width="3.0" stroke-linecap="round" fill="none"/><path d="M1028 854h0M1042 887h0M995 866h0M992 879h0M1020 881h0M1044 832h0M1030 883h0M1045 831h0M995 851h0M1000 878h0M1079 848h0M1038 883h0M1016 882h0" stroke="#e09040" stroke-width="3.0" stroke-linecap="round" fill="none"/><path d="M1313 1071h0M1307 1050h0M1271 1053h0M1294 1066h0M1319 1048h0M1327 1011h0M1298 1018h0M1326 1060h0M1279 1035h0M1300 1064h0M1315 1041h0M1309 1011h0M1307 1024h0M1278 1005h0M1312 1046h0M1282 1052h0M1287 1029h0M1307 1095h0M1317 1078h0M1286 1036h0M1279 1003h0M1271 992h0M1304 991h0M1330 998h0M1272 1087h0" stroke="#1020f0" stroke-width="3.4" stroke-linecap="round" fill="none"/></g>
<clipPath id="Kcolclip"><polygon points="1124.5,860.5 1220.0,829.0 1246.0,822.9 1277.2,817.3 1289.7,808.7 1285.9,801.4 1220.0,803.8 1220.0,791.3 1254.7,784.4 1285.9,772.3 1303.2,761.9 1313.6,748.0 1320.5,730.7 1324.0,713.3 1330.9,696.0 1351.7,677.8 1376.0,679.5 1410.7,687.3 1428.0,690.8 1443.6,687.3 1459.2,706.4 1473.1,730.7 1480.0,753.2 1478.3,777.5 1469.6,797.4 1462.7,799.1 1445.3,819.9 1428.0,837.3 1415.9,858.1 1403.7,870.2 1393.3,887.5 1376.0,910.1 1358.7,930.9 1344.8,951.7 1330.9,969.0 1320.5,981.1 1310.1,975.1 1296.3,964.7 1289.3,971.6 1266.8,941.3 1242.5,927.4 1220.0,919.6 1200.0,912.0 1170.0,892.0 1150.0,882.0"/></clipPath>
<g filter="url(#cb2)">
<polyline points="1056.3,820.9 1158.7,805.9 1235.5,794.4" fill="none" stroke="#f4d800" stroke-width="6"/>
</g>
<g clip-path="url(#Kcolclip)"><g filter="url(#cb2)">
<polygon points="1124.5,860.5 1220.0,829.0 1246.0,822.9 1277.2,817.3 1289.7,808.7 1285.9,801.4 1220.0,803.8 1220.0,791.3 1254.7,784.4 1285.9,772.3 1303.2,761.9 1313.6,748.0 1320.5,730.7 1324.0,713.3 1330.9,696.0 1351.7,677.8 1376.0,679.5 1410.7,687.3 1428.0,690.8 1443.6,687.3 1459.2,706.4 1473.1,730.7 1480.0,753.2 1478.3,777.5 1469.6,797.4 1462.7,799.1 1445.3,819.9 1428.0,837.3 1415.9,858.1 1403.7,870.2 1393.3,887.5 1376.0,910.1 1358.7,930.9 1344.8,951.7 1330.9,969.0 1320.5,981.1 1310.1,975.1 1296.3,964.7 1289.3,971.6 1266.8,941.3 1242.5,927.4 1220.0,919.6 1200.0,912.0 1170.0,892.0 1150.0,882.0" fill="#f4f400"/>
<polygon points="1220.0,789.6 1254.7,782.7 1285.9,770.5 1303.2,760.1 1313.6,746.3 1320.5,728.9 1324.0,711.6 1330.9,694.3 1341.3,697.7 1334.4,715.1 1330.9,732.4 1324.0,751.5 1310.1,770.5 1289.3,782.7 1258.1,796.5 1220.0,803.5" fill="#ff2000"/>
<polygon points="1220.0,794.8 1254.7,789.6 1277.2,780.9 1278.9,787.9 1254.7,796.5 1220.0,802.6" fill="#ffb000"/>
<polygon points="1415.9,696.0 1428.0,699.5 1428.0,715.1 1415.9,713.3" fill="#ff1000"/>
<polygon points="1436.7,744.5 1462.7,751.5 1467.0,777.5 1460.1,795.7 1445.3,787.9 1436.7,767.1" fill="#ff1000"/>
<polygon points="1372.5,722.0 1386.4,723.7 1384.7,739.3 1372.5,735.9" fill="#ff1000"/>
<polygon points="1348.3,777.5 1362.1,774.0 1365.6,784.4 1351.7,789.6" fill="#ff1000"/>
<polygon points="1324.0,808.7 1344.8,805.2 1348.3,817.3 1330.9,819.1" fill="#ff1000"/>
<polygon points="1341.3,826.0 1355.2,829.5 1356.9,836.4 1341.3,834.7" fill="#ff1000"/>
<polygon points="1389.9,805.2 1407.2,808.7 1400.3,822.5 1391.6,817.3" fill="#ff1000"/>
<polygon points="1407.2,739.3 1415.9,742.8 1410.7,751.5" fill="#ff1000"/>
<polygon points="1367.3,756.7 1376.0,760.1 1372.5,770.5 1367.3,767.1" fill="#ff1000"/>
<polygon points="1424.5,791.3 1445.3,784.4 1445.3,801.7 1428.0,808.7" fill="#ff1000"/>
<polygon points="1419.3,812.1 1438.4,808.7 1434.9,826.0 1410.7,829.5" fill="#ff1000"/>
<polygon points="1403.7,829.5 1421.1,827.7 1414.1,845.1 1402.0,843.3" fill="#ff1000"/>
<polygon points="1369.1,701.2 1379.5,702.9 1376.0,713.3 1367.3,711.6" fill="#ff3000"/>
<polygon points="1433.2,709.9 1443.6,711.6 1441.9,725.5 1433.2,722.0" fill="#ff1000"/>
<polygon points="1285.9,817.3 1301.5,815.3 1301.5,820.8 1285.9,824.3" fill="#ff1000"/>
<polygon points="1240.8,836.4 1258.1,832.9 1259.9,839.9 1242.5,843.3" fill="#ff9000"/>
<polygon points="1292.8,855.5 1310.1,852.0 1311.9,860.7 1294.5,865.9" fill="#ff9000"/>
<polygon points="1303.2,841.6 1324.0,839.9 1324.0,848.5 1306.7,850.3" fill="#ffb000"/>
<polygon points="1275.5,893.6 1280.7,893.6 1280.7,900.5 1275.5,900.5" fill="#ffa000"/>
<polygon points="1393.3,760.1 1410.7,763.6 1414.1,787.9 1400.3,794.8 1393.3,780.9" fill="#00f890"/>
<polygon points="1351.7,808.7 1362.1,805.2 1363.9,822.5 1353.5,822.5" fill="#30f020"/>
<polygon points="1285.9,791.3 1296.3,789.6 1292.8,801.7 1284.1,803.5" fill="#30f020"/>
<polygon points="1341.3,709.9 1351.7,708.1 1353.5,722.0 1344.8,725.5" fill="#00f0c0"/>
<polygon points="1441.9,728.9 1459.2,728.9 1459.2,739.3 1443.6,739.3" fill="#00f0b0"/>
<polygon points="1306.7,864.1 1317.1,864.1 1317.1,871.1 1306.7,872.8" fill="#30f020"/>
<polygon points="1263.3,902.3 1277.2,900.5 1277.2,909.2 1263.3,910.9" fill="#30f020"/>
<polygon points="1355.2,753.2 1365.6,751.5 1362.1,760.1" fill="#30f020"/>
<polygon points="1376.0,822.5 1386.4,819.1 1386.4,832.9 1376.0,834.7" fill="#60f020"/>
<polygon points="1417.6,722.0 1428.0,722.0 1426.3,735.9 1417.6,735.9" fill="#50f020"/>
<polygon points="1334.4,756.7 1344.8,754.9 1344.8,763.6 1334.4,765.3" fill="#40f040"/>
<polygon points="1369.1,716.8 1379.5,716.8 1379.5,725.5 1369.1,725.5" fill="#0020ff"/>
<polygon points="1322.3,820.8 1339.6,819.1 1341.3,829.5 1324.0,832.9" fill="#0018ff"/>
<polygon points="1265.1,826.0 1277.2,826.0 1277.2,831.2 1265.1,831.2" fill="#0030ff"/>
<polygon points="1403.7,796.5 1415.9,794.8 1414.1,803.5 1403.7,806.9" fill="#0040ff"/>
<polygon points="1317.1,827.7 1324.0,826.0 1325.7,834.7 1318.8,836.4" fill="#00d0d0"/>
<ellipse cx="1365.6" cy="780.3" rx="9.2" ry="7.2" fill="#ff1000"/><ellipse cx="1343.6" cy="725.1" rx="7.4" ry="5.0" fill="#ff1000"/><ellipse cx="1418.3" cy="751.8" rx="6.4" ry="4.9" fill="#a0f020"/><ellipse cx="1404.2" cy="705.5" rx="4.4" ry="3.2" fill="#ff1000"/><ellipse cx="1348.4" cy="850.1" rx="8.9" ry="5.5" fill="#30f020"/><ellipse cx="1361.4" cy="769.0" rx="9.5" ry="6.3" fill="#ff4000"/><ellipse cx="1428.2" cy="821.1" rx="4.3" ry="3.5" fill="#a0f020"/><ellipse cx="1297.0" cy="810.2" rx="8.4" ry="8.5" fill="#a0f020"/><ellipse cx="1358.4" cy="767.9" rx="6.7" ry="4.5" fill="#ffb000"/><ellipse cx="1426.5" cy="734.4" rx="4.1" ry="3.6" fill="#ff1000"/><ellipse cx="1401.7" cy="782.7" rx="5.7" ry="5.0" fill="#50f040"/><ellipse cx="1364.8" cy="748.8" rx="4.7" ry="4.2" fill="#ff4000"/><ellipse cx="1408.9" cy="831.4" rx="7.7" ry="8.2" fill="#30f020"/><ellipse cx="1370.5" cy="717.0" rx="7.1" ry="5.0" fill="#a0f020"/><ellipse cx="1384.8" cy="836.5" rx="7.6" ry="7.6" fill="#ffb000"/><ellipse cx="1364.2" cy="738.6" rx="9.3" ry="5.9" fill="#1030ff"/><ellipse cx="1336.6" cy="850.2" rx="7.9" ry="8.4" fill="#ff1000"/><ellipse cx="1363.3" cy="746.1" rx="6.7" ry="7.0" fill="#30f020"/><ellipse cx="1432.6" cy="734.5" rx="7.2" ry="5.2" fill="#50f040"/><ellipse cx="1419.7" cy="783.4" rx="4.4" ry="4.6" fill="#30f020"/><ellipse cx="1373.7" cy="708.9" rx="9.6" ry="8.3" fill="#50f040"/><ellipse cx="1349.0" cy="742.6" rx="7.0" ry="4.5" fill="#ff1000"/><ellipse cx="1416.4" cy="825.7" rx="6.3" ry="6.1" fill="#a0f020"/><ellipse cx="1417.0" cy="764.1" rx="5.3" ry="5.2" fill="#ff1000"/><ellipse cx="1389.1" cy="722.9" rx="4.8" ry="4.2" fill="#ff4000"/><ellipse cx="1388.7" cy="694.9" rx="9.3" ry="6.2" fill="#00e0a0"/><ellipse cx="1460.2" cy="795.9" rx="8.1" ry="6.1" fill="#ff1000"/><ellipse cx="1399.8" cy="741.5" rx="7.9" ry="4.8" fill="#30f020"/><ellipse cx="1437.2" cy="706.4" rx="4.1" ry="2.8" fill="#ff1000"/><ellipse cx="1419.1" cy="733.5" rx="6.3" ry="4.5" fill="#50f040"/><ellipse cx="1340.8" cy="711.9" rx="5.6" ry="5.5" fill="#00e0a0"/><ellipse cx="1378.8" cy="735.5" rx="9.5" ry="7.9" fill="#1030ff"/><ellipse cx="1436.0" cy="805.8" rx="9.3" ry="10.2" fill="#1030ff"/><ellipse cx="1378.9" cy="705.5" rx="8.1" ry="5.7" fill="#ff1000"/><ellipse cx="1444.8" cy="769.6" rx="7.8" ry="6.1" fill="#ff1000"/><ellipse cx="1357.3" cy="759.9" rx="5.8" ry="5.1" fill="#30f020"/><ellipse cx="1419.9" cy="702.9" rx="5.4" ry="4.0" fill="#ffb000"/><ellipse cx="1322.0" cy="797.0" rx="8.0" ry="7.4" fill="#50f040"/><ellipse cx="1396.0" cy="694.3" rx="5.0" ry="4.9" fill="#ff4000"/><ellipse cx="1353.0" cy="802.1" rx="9.7" ry="6.1" fill="#ff1000"/><ellipse cx="1418.1" cy="739.9" rx="4.7" ry="3.4" fill="#1030ff"/><ellipse cx="1454.7" cy="778.4" rx="6.1" ry="3.9" fill="#ff1000"/><ellipse cx="1392.1" cy="810.0" rx="6.0" ry="5.1" fill="#a0f020"/><ellipse cx="1464.6" cy="743.8" rx="5.4" ry="4.5" fill="#ffb000"/><ellipse cx="1443.2" cy="783.1" rx="4.5" ry="4.5" fill="#ff1000"/><ellipse cx="1406.7" cy="786.6" rx="6.6" ry="5.2" fill="#ff1000"/><ellipse cx="1461.5" cy="788.8" rx="8.0" ry="8.8" fill="#ff4000"/><ellipse cx="1388.6" cy="705.6" rx="7.2" ry="5.0" fill="#ff1000"/><ellipse cx="1337.2" cy="733.9" rx="5.4" ry="4.2" fill="#ffb000"/><ellipse cx="1404.5" cy="752.4" rx="7.3" ry="5.1" fill="#50f040"/><ellipse cx="1364.0" cy="688.4" rx="5.5" ry="5.4" fill="#ff4000"/><ellipse cx="1349.0" cy="744.3" rx="9.1" ry="7.2" fill="#ff1000"/><ellipse cx="1376.6" cy="782.3" rx="5.6" ry="3.8" fill="#50f040"/><ellipse cx="1422.0" cy="800.5" rx="9.8" ry="7.0" fill="#30f020"/><ellipse cx="1431.7" cy="784.7" rx="7.2" ry="5.9" fill="#ff4000"/><ellipse cx="1380.6" cy="727.6" rx="9.7" ry="6.9" fill="#a0f020"/><ellipse cx="1389.3" cy="758.1" rx="6.8" ry="4.9" fill="#ff1000"/><ellipse cx="1445.5" cy="808.9" rx="9.2" ry="10.1" fill="#1030ff"/><ellipse cx="1345.7" cy="742.5" rx="9.9" ry="7.5" fill="#00e0a0"/><ellipse cx="1460.8" cy="781.6" rx="6.4" ry="4.0" fill="#ffb000"/><ellipse cx="1391.6" cy="776.7" rx="8.5" ry="7.8" fill="#ffb000"/><ellipse cx="1354.8" cy="852.0" rx="4.1" ry="3.0" fill="#ff1000"/><ellipse cx="1423.6" cy="795.3" rx="5.5" ry="4.2" fill="#ff4000"/><ellipse cx="1370.0" cy="759.8" rx="6.6" ry="6.7" fill="#ff1000"/><ellipse cx="1376.6" cy="764.0" rx="7.1" ry="4.9" fill="#ff4000"/><ellipse cx="1420.6" cy="750.3" rx="9.0" ry="6.1" fill="#ff1000"/><ellipse cx="1424.4" cy="769.8" rx="7.1" ry="6.3" fill="#ff1000"/><ellipse cx="1334.1" cy="835.5" rx="5.7" ry="6.2" fill="#ffb000"/><ellipse cx="1322.5" cy="764.9" rx="4.7" ry="3.1" fill="#30f020"/><ellipse cx="1313.9" cy="795.6" rx="6.3" ry="6.0" fill="#ff1000"/><ellipse cx="1326.7" cy="794.4" rx="10.0" ry="7.2" fill="#ffb000"/><ellipse cx="1358.9" cy="834.5" rx="8.9" ry="5.7" fill="#a0f020"/><ellipse cx="1446.0" cy="805.8" rx="6.5" ry="6.4" fill="#a0f020"/><ellipse cx="1426.3" cy="781.7" rx="4.2" ry="2.8" fill="#1030ff"/><ellipse cx="1399.0" cy="740.5" rx="6.0" ry="5.8" fill="#30f020"/><ellipse cx="1328.8" cy="782.7" rx="8.3" ry="7.7" fill="#ff1000"/><ellipse cx="1370.0" cy="788.6" rx="8.8" ry="7.0" fill="#ff1000"/><ellipse cx="1428.3" cy="827.2" rx="9.1" ry="8.4" fill="#a0f020"/><ellipse cx="1402.1" cy="823.8" rx="9.3" ry="5.8" fill="#30f020"/><ellipse cx="1368.2" cy="799.5" rx="4.7" ry="3.7" fill="#a0f020"/><ellipse cx="1409.9" cy="733.4" rx="5.4" ry="4.0" fill="#ff1000"/><ellipse cx="1319.3" cy="813.0" rx="7.8" ry="8.3" fill="#30f020"/><ellipse cx="1443.3" cy="758.5" rx="4.2" ry="4.0" fill="#ff1000"/><ellipse cx="1447.6" cy="794.0" rx="7.8" ry="4.9" fill="#ff4000"/><ellipse cx="1343.3" cy="807.5" rx="8.5" ry="6.1" fill="#ff4000"/><ellipse cx="1321.5" cy="793.9" rx="8.8" ry="8.6" fill="#30f020"/><ellipse cx="1366.7" cy="810.8" rx="9.5" ry="7.2" fill="#ff1000"/><ellipse cx="1368.8" cy="761.3" rx="7.3" ry="6.6" fill="#ff1000"/><ellipse cx="1357.2" cy="848.8" rx="8.9" ry="5.5" fill="#00e0a0"/><ellipse cx="1369.1" cy="831.8" rx="6.4" ry="5.4" fill="#a0f020"/><ellipse cx="1452.7" cy="759.5" rx="6.6" ry="6.4" fill="#ff4000"/><ellipse cx="1366.8" cy="835.6" rx="9.3" ry="9.8" fill="#1030ff"/><ellipse cx="1322.0" cy="777.6" rx="6.7" ry="6.4" fill="#a0f020"/><ellipse cx="1458.8" cy="774.9" rx="9.0" ry="7.6" fill="#ff1000"/><ellipse cx="1356.6" cy="723.9" rx="7.8" ry="7.1" fill="#ff1000"/><ellipse cx="1446.4" cy="716.5" rx="8.9" ry="7.5" fill="#ff1000"/><ellipse cx="1306.8" cy="805.8" rx="4.5" ry="3.5" fill="#30f020"/><ellipse cx="1457.3" cy="751.6" rx="8.9" ry="6.2" fill="#30f020"/><ellipse cx="1332.0" cy="748.8" rx="8.6" ry="8.9" fill="#00e0a0"/><ellipse cx="1442.7" cy="704.1" rx="6.8" ry="7.4" fill="#ff1000"/><ellipse cx="1375.2" cy="714.0" rx="8.7" ry="7.6" fill="#ff4000"/><ellipse cx="1386.6" cy="796.2" rx="6.9" ry="5.5" fill="#ff4000"/><ellipse cx="1428.0" cy="813.1" rx="7.0" ry="6.4" fill="#a0f020"/><ellipse cx="1327.5" cy="767.3" rx="5.9" ry="4.2" fill="#a0f020"/><ellipse cx="1365.6" cy="722.8" rx="8.5" ry="9.4" fill="#1030ff"/><ellipse cx="1366.4" cy="818.8" rx="7.2" ry="6.0" fill="#ff1000"/><ellipse cx="1432.5" cy="810.9" rx="6.1" ry="5.2" fill="#a0f020"/><ellipse cx="1340.6" cy="716.4" rx="8.5" ry="9.3" fill="#30f020"/><ellipse cx="1333.0" cy="760.1" rx="5.1" ry="4.8" fill="#ff1000"/><ellipse cx="1327.5" cy="783.7" rx="7.7" ry="6.7" fill="#1030ff"/><ellipse cx="1439.5" cy="796.0" rx="7.6" ry="4.7" fill="#ff4000"/><ellipse cx="1354.1" cy="800.5" rx="6.0" ry="3.8" fill="#30f020"/><ellipse cx="1436.0" cy="760.3" rx="4.1" ry="3.5" fill="#1030ff"/><ellipse cx="1357.8" cy="721.0" rx="6.7" ry="5.8" fill="#ff1000"/><ellipse cx="1345.7" cy="716.8" rx="6.4" ry="4.4" fill="#30f020"/><ellipse cx="1381.4" cy="765.8" rx="6.4" ry="4.1" fill="#a0f020"/><ellipse cx="1456.4" cy="742.3" rx="7.5" ry="7.0" fill="#ff1000"/><ellipse cx="1364.4" cy="820.0" rx="9.1" ry="8.8" fill="#1030ff"/><ellipse cx="1353.2" cy="799.2" rx="7.8" ry="7.4" fill="#ff4000"/><ellipse cx="1396.4" cy="757.3" rx="4.9" ry="5.2" fill="#ff4000"/><ellipse cx="1371.0" cy="699.9" rx="7.4" ry="6.1" fill="#ff1000"/><ellipse cx="1409.4" cy="701.9" rx="5.0" ry="4.5" fill="#50f040"/><ellipse cx="1392.0" cy="821.7" rx="5.5" ry="5.1" fill="#ff1000"/><ellipse cx="1399.8" cy="816.7" rx="8.3" ry="6.5" fill="#ff1000"/><ellipse cx="1446.6" cy="806.2" rx="9.0" ry="5.9" fill="#ff1000"/><ellipse cx="1403.4" cy="766.1" rx="5.9" ry="3.7" fill="#ffb000"/><ellipse cx="1458.1" cy="746.2" rx="9.2" ry="6.8" fill="#ffb000"/><ellipse cx="1436.9" cy="703.0" rx="9.4" ry="8.0" fill="#ff1000"/><ellipse cx="1366.8" cy="703.7" rx="4.4" ry="4.2" fill="#00e0a0"/><ellipse cx="1468.7" cy="758.6" rx="4.4" ry="3.4" fill="#ff1000"/><ellipse cx="1350.6" cy="693.9" rx="8.3" ry="8.6" fill="#a0f020"/><ellipse cx="1454.4" cy="733.1" rx="7.1" ry="5.4" fill="#30f020"/><ellipse cx="1419.2" cy="763.9" rx="6.4" ry="4.8" fill="#ff1000"/><ellipse cx="1442.9" cy="765.8" rx="6.8" ry="5.4" fill="#ffb000"/><ellipse cx="1458.4" cy="754.9" rx="7.7" ry="5.4" fill="#50f040"/><ellipse cx="1312.7" cy="830.0" rx="7.0" ry="6.3" fill="#a0f020"/><ellipse cx="1333.3" cy="795.3" rx="9.4" ry="9.7" fill="#ff1000"/><ellipse cx="1450.1" cy="719.2" rx="7.9" ry="7.0" fill="#ff4000"/><ellipse cx="1374.7" cy="701.0" rx="5.8" ry="5.3" fill="#50f040"/><ellipse cx="1417.9" cy="775.7" rx="4.2" ry="3.6" fill="#a0f020"/><ellipse cx="1346.5" cy="748.8" rx="8.5" ry="9.0" fill="#30f020"/><ellipse cx="1404.8" cy="791.9" rx="4.7" ry="4.8" fill="#ff1000"/><ellipse cx="1364.7" cy="711.4" rx="9.7" ry="6.0" fill="#ff1000"/><ellipse cx="1381.6" cy="791.5" rx="9.8" ry="6.4" fill="#50f040"/><ellipse cx="1345.8" cy="838.5" rx="9.8" ry="6.2" fill="#ff4000"/><ellipse cx="1398.1" cy="739.8" rx="4.7" ry="4.7" fill="#ff1000"/><ellipse cx="1320.8" cy="790.0" rx="9.4" ry="6.7" fill="#50f040"/><ellipse cx="1340.4" cy="738.4" rx="5.2" ry="5.1" fill="#ff1000"/><ellipse cx="1440.4" cy="765.7" rx="9.1" ry="8.0" fill="#50f040"/><ellipse cx="1351.6" cy="789.7" rx="4.3" ry="3.6" fill="#ff1000"/>
<circle cx="1370.8" cy="741.1" r="2.8" fill="#1028ff"/>
<circle cx="1381.2" cy="751.5" r="2.8" fill="#1028ff"/>
<circle cx="1341.3" cy="754.9" r="2.8" fill="#1028ff"/>
<circle cx="1362.1" cy="774.0" r="2.8" fill="#1028ff"/>
<circle cx="1372.5" cy="786.1" r="2.8" fill="#1028ff"/>
<circle cx="1428.0" cy="779.2" r="2.8" fill="#1028ff"/>
<circle cx="1443.6" cy="780.9" r="2.8" fill="#1028ff"/>
<circle cx="1441.9" cy="800.0" r="2.8" fill="#1028ff"/>
<circle cx="1395.1" cy="696.0" r="2.8" fill="#1028ff"/>
<circle cx="1344.8" cy="746.3" r="2.8" fill="#1028ff"/>
<circle cx="1317.1" cy="756.7" r="2.8" fill="#1028ff"/>
<circle cx="1330.9" cy="777.5" r="2.8" fill="#1028ff"/>
</g>
<g filter="url(#cb1)">
<polygon points="1393.3,832.9 1395.4,843.3 1386.4,853.7 1372.5,867.6 1358.7,884.9 1344.8,902.3 1327.5,923.1 1310.1,947.3 1296.3,964.7 1289.3,971.6 1266.8,941.3 1289.3,926.5 1303.2,904.0 1317.1,886.7 1330.9,869.3 1351.7,857.2 1376.0,843.3" fill="#c2c2d6"/>
</g>
</g>
<g filter="url(#cb1)">
<polyline points="1322.3,751.5 1328.3,732.4 1331.8,715.1 1338.7,699.5 1355.6,685.6 1376.0,687.0 1393.3,690.8" fill="none" stroke="#1828ff" stroke-width="5" stroke-dasharray="14 9"/>
<polyline points="1428.0,698.6 1440.1,695.3 1451.9,710.2 1465.8,732.7 1471.7,753.2 1470.5,777.5 1466.1,794.8" fill="none" stroke="#1020ff" stroke-width="8" stroke-dasharray="20 6"/>
<polyline points="1459.2,803.5 1443.6,822.5 1427.1,839.0 1415.0,859.8 1402.9,871.9 1392.5,889.3 1375.1,911.8 1357.8,932.6 1343.9,953.4 1330.1,970.7 1321.4,980.3" fill="none" stroke="#ff1000" stroke-width="15"/>
<polyline points="1462.7,806.9 1447.1,825.1 1430.6,841.6 1417.6,862.1 1405.8,874.2 1395.1,891.5 1377.7,914.1 1360.4,934.9 1346.5,955.7 1332.7,973.0 1324.0,982.0" fill="none" stroke="#1020ff" stroke-width="7" stroke-dasharray="5 6"/>
<polyline points="1459.2,803.5 1443.6,822.5 1427.1,839.0 1415.0,859.8 1402.9,871.9 1392.5,889.3 1375.1,911.8 1357.8,932.6 1343.9,953.4 1330.1,970.7 1321.4,980.3" fill="none" stroke="#1828ff" stroke-width="15" stroke-dasharray="3 10"/>
</g>
<path d="M1339 894h0M1288 960h0M1329 878h0M1298 928h0M1325 904h0M1332 883h0M1314 910h0M1323 901h0M1285 951h0M1388 840h0M1318 920h0M1324 885h0M1365 863h0M1366 855h0" stroke="#70d870" stroke-width="2.6" stroke-linecap="round" fill="none"/><path d="M1328 903h0M1337 889h0M1376 853h0M1329 893h0M1272 941h0M1299 946h0M1370 865h0M1304 905h0M1310 928h0M1304 927h0M1342 897h0M1294 961h0M1325 909h0M1324 900h0M1392 840h0M1288 936h0" stroke="#60d060" stroke-width="2.6" stroke-linecap="round" fill="none"/><path d="M1318 909h0M1338 890h0M1330 878h0M1289 931h0M1316 918h0M1342 897h0M1329 914h0" stroke="#d0c850" stroke-width="2.6" stroke-linecap="round" fill="none"/><path d="M1372 863h0M1308 914h0M1328 891h0M1303 947h0M1333 908h0M1332 872h0M1353 880h0M1381 847h0M1341 876h0" stroke="#90d840" stroke-width="2.6" stroke-linecap="round" fill="none"/><path d="M1317 924h0M1291 933h0M1308 926h0M1329 904h0M1317 912h0" stroke="#68d868" stroke-width="2.6" stroke-linecap="round" fill="none"/><path d="M1288 943h0M1343 899h0M1296 920h0M1289 934h0M1288 956h0M1336 877h0M1369 857h0M1344 895h0M1280 951h0M1390 835h0M1281 954h0M1292 923h0M1320 902h0M1361 865h0" stroke="#e06050" stroke-width="2.6" stroke-linecap="round" fill="none"/><path d="M1305 904h0M1301 935h0M1357 875h0M1365 872h0M1381 843h0M1327 876h0" stroke="#40c8c8" stroke-width="2.6" stroke-linecap="round" fill="none"/><path d="M1290 927h0M1303 942h0M1327 920h0M1330 887h0" stroke="#e8a040" stroke-width="2.6" stroke-linecap="round" fill="none"/><path d="M1282 933h0M1353 871h0M1321 923h0M1323 893h0M1318 907h0M1361 881h0" stroke="#80d860" stroke-width="2.6" stroke-linecap="round" fill="none"/><path d="M1323 925h0M1366 850h0M1365 851h0" stroke="#a0d850" stroke-width="2.6" stroke-linecap="round" fill="none"/><path d="M1303 924h0M1332 873h0M1317 905h0M1336 895h0M1350 896h0M1306 904h0M1351 870h0M1312 927h0M1351 865h0M1294 956h0" stroke="#d8d040" stroke-width="2.6" stroke-linecap="round" fill="none"/><path d="M1300 938h0M1324 913h0" stroke="#70d890" stroke-width="2.6" stroke-linecap="round" fill="none"/><path d="M1308 949h0M1330 898h0M1343 877h0M1353 872h0M1289 937h0M1284 952h0M1315 906h0M1346 894h0M1280 947h0" stroke="#60d878" stroke-width="2.6" stroke-linecap="round" fill="none"/><path d="M1346 888h0M1379 849h0M1313 943h0M1316 912h0M1311 943h0" stroke="#78d860" stroke-width="2.6" stroke-linecap="round" fill="none"/>
</g>
<path d="M893 859h0M933 842h0M973 831h0M1060 819h0M1067 818h0M1073 816h0M1093 813h0M1100 812h0M1153 805h0M1160 804h0M1193 800h0M1273 785h0M1280 782h0M1287 780h0M1300 767h0M1304 762h0M1315 748h0M1324 731h0M1384 689h0M1434 694h0M1464 721h0M1472 739h0M1476 801h0M1475 826h0M1475 839h0M1475 846h0M1474 865h0M1474 871h0M1468 913h0M1467 919h0M1335 1142h0M1310 1118h0M1303 1116h0M1276 1148h0M1260 1153h0M1248 1153h0M1241 1153h0M1197 1161h0M1140 1193h0M1134 1197h0M1072 1207h0M1036 1190h0M1008 1165h0M1003 1151h0M1000 1131h0M1000 1124h0M996 1077h0M990 1072h0M951 1052h0M908 996h0M874 955h0M872 940h0M871 924h0M891 880h0" stroke="#60e040" stroke-width="3.2" stroke-linecap="round" fill="none"/><path d="M899 856h0M904 854h0M1020 824h0M1040 821h0M1080 815h0M1133 808h0M1147 806h0M1167 804h0M1173 803h0M1207 799h0M1233 795h0M1260 791h0M1318 742h0M1321 737h0M1336 708h0M1378 688h0M1421 693h0M1440 694h0M1457 711h0M1475 751h0M1476 788h0M1476 807h0M1473 877h0M1472 883h0M1470 895h0M1312 1126h0M1284 1138h0M1280 1143h0M1272 1153h0M1174 1172h0M1157 1182h0M1152 1186h0M1117 1209h0M1105 1212h0M1043 1192h0M1000 1138h0M1000 1110h0M950 1044h0M916 1008h0M896 992h0M875 962h0M871 932h0M893 866h0" stroke="#40d0a0" stroke-width="3.2" stroke-linecap="round" fill="none"/><path d="M910 851h0M987 828h0M1027 823h0M1033 822h0M1053 820h0M1113 810h0M1187 801h0M1213 798h0M1240 794h0M1308 758h0M1332 714h0M1408 692h0M1445 698h0M1476 794h0M1475 852h0M1466 924h0M1294 1127h0M1266 1153h0M1186 1166h0M1163 1179h0M1078 1208h0M1055 1199h0M1028 1186h0M1020 1183h0M1016 1177h0M1006 1158h0M1000 1117h0M996 1083h0M984 1066h0M960 1061h0M934 1030h0M902 994h0M885 985h0M873 948h0M888 892h0M891 887h0M892 873h0" stroke="#a0e040" stroke-width="3.2" stroke-linecap="round" fill="none"/><path d="M916 849h0M921 846h0M927 844h0M947 838h0M980 829h0M993 828h0M1000 827h0M1007 826h0M1013 825h0M1047 820h0M1087 814h0M1107 811h0M1180 802h0M1220 797h0M1253 792h0M1267 788h0M1291 775h0M1295 771h0M1348 693h0M1390 690h0M1453 707h0M1474 745h0M1475 758h0M1476 770h0M1476 776h0M1476 782h0M1476 820h0M1475 858h0M1471 889h0M1469 901h0M1468 907h0M1308 1111h0M1299 1122h0M1289 1133h0M1254 1153h0M1217 1155h0M1210 1157h0M1204 1159h0M1191 1163h0M1180 1168h0M1169 1175h0M1123 1205h0M1092 1210h0M1012 1171h0M994 1103h0M974 1065h0M944 1039h0M930 1022h0M927 1014h0M911 1004h0M880 980h0M877 968h0M873 919h0M879 908h0M882 903h0M885 897h0" stroke="#e0d040" stroke-width="3.2" stroke-linecap="round" fill="none"/><path d="M940 840h0M953 836h0M960 834h0M967 833h0M1120 809h0M1127 809h0M1140 807h0M1200 800h0M1227 796h0M1247 793h0M1312 754h0M1326 725h0M1329 720h0M1339 702h0M1342 696h0M1354 689h0M1359 686h0M1365 687h0M1371 687h0M1396 691h0M1402 692h0M1415 693h0M1428 693h0M1449 703h0M1462 716h0M1467 727h0M1469 733h0M1475 764h0M1476 814h0M1475 833h0M1329 1138h0M1323 1134h0M1318 1130h0M1235 1153h0M1229 1153h0M1223 1153h0M1146 1189h0M1129 1201h0M1112 1212h0M1098 1211h0M1085 1209h0M1065 1206h0M1060 1202h0M1050 1195h0M1000 1144h0M995 1096h0M995 1090h0M967 1063h0M953 1060h0M939 1035h0M922 1011h0M890 990h0M878 974h0M876 914h0" stroke="#e07050" stroke-width="3.2" stroke-linecap="round" fill="none"/><path d="M1463 930h0M1461 936h0M1458 942h0M1453 953h0M1452 959h0M1447 990h0M1446 996h0M1442 1010h0M1437 1014h0M1426 1021h0M1406 1048h0M1402 1054h0M1380 1095h0M1374 1108h0M1372 1114h0M1369 1120h0M1366 1126h0M1361 1140h0M1356 1143h0M1351 1147h0" stroke="#e84838" stroke-width="3.2" stroke-linecap="round" fill="none"/><path d="M1456 947h0M1451 965h0M1451 971h0M1449 983h0M1432 1018h0M1421 1025h0M1413 1037h0M1395 1066h0M1392 1072h0M1389 1077h0M1386 1083h0M1383 1089h0M1346 1150h0M1340 1146h0" stroke="#e06040" stroke-width="3.2" stroke-linecap="round" fill="none"/><path d="M1450 977h0M1444 1003h0M1417 1031h0M1410 1042h0M1398 1060h0M1377 1101h0M1364 1133h0" stroke="#e8a040" stroke-width="3.2" stroke-linecap="round" fill="none"/>
<text transform="translate(850,391) rotate(48.8)" font-size="46.5" fill="#000" textLength="253" lengthAdjust="spacingAndGlyphs">H curvature</text>
<text transform="translate(819,977) rotate(53)" font-size="46" fill="#000" textLength="246" lengthAdjust="spacingAndGlyphs"><tspan font-style="italic">K</tspan> curvature</text>
</g>
<!-- ===== BUE side profiles (middle left) ===== -->
<g id="profiles">
<defs>
<linearGradient id="pr1" x1="0" y1="0" x2="1" y2="0"><stop offset="0" stop-color="#d01010"/><stop offset="0.6" stop-color="#e01212"/><stop offset="1" stop-color="#f01818"/></linearGradient>
<pattern id="pspk" width="7" height="6" patternUnits="userSpaceOnUse" patternTransform="rotate(17)"><circle cx="2" cy="2" r="1" fill="#600" opacity="0.45"/><circle cx="5.500000" cy="4.500000" r="0.9" fill="#600" opacity="0.35"/></pattern>
<filter id="pb1" x="-5%" y="-20%" width="110%" height="140%"><feGaussianBlur stdDeviation="0.9"/></filter>
<filter id="pb3" x="-10%" y="-30%" width="120%" height="160%"><feGaussianBlur stdDeviation="2.500000"/></filter>
</defs>
<g filter="url(#pb1)">
<!-- top profile -->
<polygon fill="#ee0808" points="98.8,852.5 125,849 152,849.7 200,848.5 253.3,847.2 300,845 354.6,843.1 380,840 405.3,837 418,833.5 430.6,832 445,833 455.9,832.5 480,827.5 506.6,821.8 520,815 532,806.6 542,794 552.2,781.3 565,773 577.5,768.7 600,768 618,769.5 628.2,771.2 640,764 651,758.5 656,766 661,776.3 657,812 652,851 648.4,853.5 600,854.5 552.2,855.3 545,857 535,855 450,856.5 340,857.5 334.3,859.5 325,857.5 250,858 230,859.5 210,857.5 152,857.3 130,856 110,855"/>
<polygon fill="#c00a0a" opacity="0.55" points="532,806.6 542,794 552.2,781.3 565,773 577.5,768.7 600,768 618,769.5 600,776 580,790 562,806 545,820 520,828 506.6,826 520,815"/>
<g fill="none" stroke="#5a1414" stroke-linejoin="round" opacity="0.75">
<polyline stroke-width="2" points="98.8,852 152,849.7 253.3,847.2 354.6,843.1 405.3,837 430.6,832 455.9,832.5 506.6,821.8 532,806.6 552.2,781.3 577.5,768.7 618,769.5 628.2,771.2 651,758.5"/>
<polyline stroke-width="2.2" points="455,838 506,827 545,818 572,800 602,780 628,770"/>
<polyline stroke-width="2.2" points="500,838 545,830 580,812 612,790 640,770 648,764"/>
<polyline stroke-width="1.6" points="300,851 380,847 430,842 470,836"/>
<polyline stroke-width="1.5" points="130,855 210,856 280,853 340,855 420,852"/>
</g>
<!-- bottom profile -->
<polygon fill="#ee0808" points="124.1,929.2 138,931.5 152,940.9 162,953 172.2,968.8 182,982 192.5,994.1 205,1005 217.8,1014.3 235,1025 253.3,1034.6 268,1040 283.7,1044.7 310,1050 334.3,1054.9 345,1053.500000 355,1055 375,1058 395.1,1059.9 403,1058 410.3,1059.9 423,1064 435.7,1067.5 458,1070.500000 481.3,1072.6 520,1074 557.2,1075.1 610,1075.5 668.7,1075.600000 668.7,1077 557,1077.5 400,1078 230,1078 116.5,1076.5 111.5,1071 108.9,1065 100,1020 92.7,978.9 96,960 101.3,943.4 112,934"/>
<polygon fill="#a00a0a" opacity="0.7" points="217.8,1016.300000 253.3,1036.600000 283.7,1046.700000 334.3,1056.900000 395.1,1061.900000 435.7,1069 481.3,1074 557,1076.5 480,1077.5 400,1075 330,1068 280,1058 245,1046"/>
<g fill="none" stroke="#5a1414" stroke-linejoin="round" opacity="0.7">
<polyline stroke-width="2" points="101.3,943.4 124.1,929.2 152,940.9 172.2,968.8 192.5,994.1 217.8,1014.3 253.3,1034.6 283.7,1044.7 334.3,1054.9 395.1,1059.9 435.7,1067.5 481.3,1072.6 557.2,1075.1 668,1075.6"/>
<polyline stroke-width="1.8" points="116.5,1072 200,1069 300,1071 380,1076"/>
<polyline stroke-width="2" points="230,1022 280,1050 340,1064 420,1072"/>
</g>
<polygon fill="url(#pspk)" points="98.8,852.5 125,849 152,849.7 200,848.5 253.3,847.2 300,845 354.6,843.1 380,840 405.3,837 418,833.5 430.6,832 445,833 455.9,832.5 480,827.5 506.6,821.8 520,815 532,806.6 542,794 552.2,781.3 565,773 577.5,768.7 600,768 618,769.5 628.2,771.2 640,764 651,758.5 656,766 661,776.3 657,812 652,851 648.4,853.5 600,854.5 552.2,855.3 545,857 535,855 450,856.5 340,857.5 334.3,859.5 325,857.5 250,858 230,859.5 210,857.5 152,857.3 130,856 110,855"/>
<polygon fill="url(#pspk)" points="124.1,929.2 138,931.5 152,940.9 162,953 172.2,968.8 182,982 192.5,994.1 205,1005 217.8,1014.3 235,1025 253.3,1034.6 268,1040 283.7,1044.7 310,1050 334.3,1054.9 345,1053.500000 355,1055 375,1058 395.1,1059.9 403,1058 410.3,1059.9 423,1064 435.7,1067.5 458,1070.500000 481.3,1072.6 520,1074 557.2,1075.1 610,1075.5 668.7,1075.600000 668.7,1077 557,1077.5 400,1078 230,1078 116.5,1076.5 111.5,1071 108.9,1065 100,1020 92.7,978.9 96,960 101.3,943.4 112,934"/>
</g>
<!-- dimension arrows -->
<g stroke="#000" stroke-width="3" fill="none">
<line x1="685" y1="752" x2="685" y2="865.5" marker-start="url(#ah)" marker-end="url(#ah)"/>
<line x1="72.5" y1="944.5" x2="72.5" y2="1082" marker-start="url(#ah)" marker-end="url(#ah)"/>
<line x1="107.500000" y1="1107" x2="660" y2="1107" marker-start="url(#ah)" marker-end="url(#ah)"/>
</g>
<text transform="translate(711,738.5) rotate(90)" font-size="40" fill="#000" textLength="162" lengthAdjust="spacingAndGlyphs">0.81 mm</text>
<text transform="translate(50,1077.5) rotate(-90)" font-size="40" fill="#000" textLength="160" lengthAdjust="spacingAndGlyphs">1.05 mm</text>
<text x="308" y="1157.5" font-size="35.5" fill="#000" textLength="153" lengthAdjust="spacingAndGlyphs">3.87 mm</text>
</g>
<!-- ===== heat map (bottom left) ===== -->
<g id="heatmap">
<defs>
<linearGradient id="jet" x1="0" y1="0" x2="0" y2="1">
<stop offset="0" stop-color="#800000"/><stop offset="0.125" stop-color="#ff0000"/><stop offset="0.25" stop-color="#ff8000"/><stop offset="0.375" stop-color="#ffff00"/><stop offset="0.5" stop-color="#80ff80"/><stop offset="0.632" stop-color="#00ffff"/><stop offset="0.757" stop-color="#0080ff"/><stop offset="0.883" stop-color="#0000ff"/><stop offset="1" stop-color="#00008f"/>
</linearGradient>
<filter id="hb6" x="-20%" y="-20%" width="140%" height="140%"><feGaussianBlur stdDeviation="6"/></filter>
<filter id="hb4" x="-20%" y="-20%" width="140%" height="140%"><feGaussianBlur stdDeviation="4"/></filter>
<filter id="hb10" x="-30%" y="-30%" width="160%" height="160%"><feGaussianBlur stdDeviation="10"/></filter>
<filter id="hb16" x="-40%" y="-40%" width="180%" height="180%"><feGaussianBlur stdDeviation="16"/></filter>
<filter id="hb1" x="-20%" y="-20%" width="140%" height="140%"><feGaussianBlur stdDeviation="0.8"/></filter>
<clipPath id="hmrect"><rect x="111" y="1313" width="470" height="468"/></clipPath>

<clipPath id="hmclip"><polygon points="111,1781 177.3,1574.3 200,1523.6 222.5,1456 239,1414.4 250.3,1385 269.3,1357.2 295.3,1331.2 319.6,1315.6 343.9,1314.2 382,1322.5 404.5,1334.7 416.7,1350.3 434,1376.3 460,1428.3 581,1693.4"/></clipPath>
</defs>
<rect x="111" y="1313" width="470" height="468" fill="#00008f"/>
<g clip-path="url(#hmclip)">
<polygon points="111,1781 177.3,1574.3 200,1523.6 222.5,1456 239,1414.4 250.3,1385 269.3,1357.2 295.3,1331.2 319.6,1315.6 343.9,1314.2 382,1322.5 404.5,1334.7 416.7,1350.3 434,1376.3 460,1428.3 581,1693.4" fill="#0000c4"/>
<g filter="url(#hb16)">
<polygon points="210.0,1486.7 400.0,1473.3 420.0,1553.3 400.0,1650.0 333.3,1666.7 286.7,1600.0 200.0,1573.3" fill="#0000e4"/>
<polygon points="313.3,1533.3 386.7,1533.3 393.3,1626.7 333.3,1640.0 306.7,1593.3" fill="#0024fa"/>
<polygon points="186.7,1586.7 286.7,1600.0 313.3,1683.3 286.7,1766.7 166.7,1780.0 140.0,1733.3" fill="#0000ae"/>
<polygon points="416.7,1486.7 466.7,1506.7 510.0,1600.0 533.3,1700.0 450.0,1720.0 416.7,1633.3" fill="#0000ae"/>
</g>
<g filter="url(#hb10)">
<polygon points="433.3,1410.0 473.3,1440.0 520.0,1533.3 566.7,1650.0 543.3,1660.0 493.3,1553.3 453.3,1473.3 420.0,1433.3" fill="#000ce4"/>
<polygon points="313.3,1650.0 366.7,1633.3 386.7,1733.3 333.3,1760.0 300.0,1716.7" fill="#0000d4"/>
</g>
<g filter="url(#hb6)">
<polygon points="200.0,1525.3 234.7,1494.1 255.5,1490.7 304.0,1487.2 347.3,1476.8 361.2,1431.7 376.8,1414.4 408.0,1417.9 432.3,1431.7 460.0,1456.0 460.0,1300.0 200.0,1300.0" fill="#0030f8"/>
<polygon points="200.0,1508.0 234.7,1487.2 252.0,1485.5 304.0,1481.1 343.9,1469.0 355.1,1419.6 374.2,1404.0 408.0,1408.3 434.0,1424.8 456.5,1449.1 460.0,1438.7 446.1,1397.1 430.5,1369.3 420.1,1348.5 413.2,1300.0 200.0,1300.0" fill="#0098ff"/>
<polygon points="217.3,1482.0 244.2,1475.9 278.0,1472.5 312.7,1469.0 341.3,1456.9 351.7,1410.9 373.3,1397.9 408.0,1401.4 430.5,1410.9 442.7,1424.8 449.6,1421.3 439.2,1397.1 425.3,1372.8 416.7,1352.0 408.0,1300.0 200.0,1300.0" fill="#00ffff"/>
<polygon points="220.8,1468.1 243.3,1464.7 278.0,1460.3 321.3,1453.4 342.1,1439.5 350.8,1393.6 373.3,1386.7 408.0,1384.9 425.3,1386.7 430.5,1376.3 420.1,1352.0 413.2,1300.0 200.0,1300.0" fill="#55ffaa"/>
<polygon points="226.0,1456.0 242.5,1453.4 269.3,1448.2 307.5,1439.5 336.9,1422.2 346.5,1379.7 373.3,1375.4 399.3,1370.2 420.1,1366.7 418.4,1352.0 411.5,1300.0 200.0,1300.0" fill="#b0ff50"/>
<polygon points="231.2,1443.9 241.6,1441.3 252.0,1439.5 278.0,1430.9 304.0,1415.8 327.4,1404.9 336.1,1371.1 343.9,1356.9 369.9,1360.3 390.7,1351.7 413.2,1352.0 425.3,1300.0 200.0,1300.0" fill="#ffff00"/>
<polygon points="234.7,1433.5 240.7,1431.4 269.3,1420.5 300.5,1406.6 323.9,1383.2 330.9,1358.1 343.9,1350.6 366.4,1351.1 383.7,1344.2 402.8,1340.7 408.0,1300.0 200.0,1300.0" fill="#ff9000"/>
<polygon points="234.7,1427.4 243.3,1426.2 269.3,1413.0 297.1,1397.4 319.3,1373.1 324.8,1352.3 338.7,1344.4 364.7,1340.9 376.8,1335.5 383.7,1300.0 200.0,1300.0" fill="#ff0000"/>
</g>
<g filter="url(#hb4)">
<polygon points="252.0,1410.9 257.2,1390.1 274.5,1372.8 297.1,1357.2 310.9,1360.7 304.0,1376.3 286.7,1393.6 269.3,1405.7" fill="#a00000"/>
<polygon points="257.2,1404.0 264.1,1390.1 278.0,1379.7 290.1,1376.3 281.5,1391.9 269.3,1402.3" fill="#800000"/>
</g>
<g filter="url(#hb6)">
<polygon points="376.8,1421.3 394.1,1414.4 418.4,1421.3 439.2,1442.1 460.0,1473.3 460.0,1560.0 373.3,1560.0 362.9,1490.7 364.7,1442.1" fill="#0000d8"/>
</g>
<g filter="url(#hb10)">
<polygon points="390.7,1456.0 416.7,1456.0 430.5,1490.7 430.5,1560.0 390.7,1560.0 383.7,1508.0" fill="#0000b0"/>
</g>
<g filter="url(#hb4)">
<polygon points="413.2,1369.3 425.3,1381.5 442.7,1414.4 451.3,1435.2 442.7,1436.9 430.5,1417.9 416.7,1404.0 404.5,1397.1 402.8,1383.2" fill="#00c8ff"/>
</g>
<g filter="url(#hb6)">
<polygon points="450,1425 466,1440 500,1520 482,1528 460,1480" fill="#0078ff"/>
<polygon points="478,1500 498,1508 540,1610 522,1618 492,1560" fill="#0040ff"/>
</g>
<g filter="url(#hb6)"><polygon points="470,1440 590,1700 590,1640 480,1410" fill="#0000a0" opacity="0.8"/></g>
<g filter="url(#hb1)" fill="none" stroke-linecap="round">
<path d="M240,1418 L224,1460 L201,1527" stroke="#a0ff60" stroke-width="5"/>
<path d="M224,1462 L201,1527 L178,1578" stroke="#40ffc0" stroke-width="4.5"/>
<path d="M201,1527 L178,1578 L150,1668" stroke="#00d0ff" stroke-width="4"/>
<path d="M150,1668 L128,1735" stroke="#0080ff" stroke-width="3.5"/>
<path d="M128,1735 L113,1780" stroke="#0040ff" stroke-width="3"/>
<path d="M418,1352 L436,1380 L462,1432" stroke="#00b0ff" stroke-width="2.5"/>
<path d="M462,1432 L520,1560" stroke="#0060ff" stroke-width="2"/>
</g>
<g filter="url(#hb1)" opacity="0.95"><rect x="242.9" y="1415.2" width="4.0" height="2.5" fill="#40ffd0"/><rect x="245.9" y="1416.3" width="2.5" height="2.5" fill="#00e0ff"/><rect x="250.2" y="1418.0" width="4.0" height="3.5" fill="#40ffd0"/><rect x="244.8" y="1412.8" width="4.0" height="4.5" fill="#00e0ff"/><rect x="249.6" y="1414.6" width="4.0" height="2.5" fill="#00e0ff"/><rect x="251.4" y="1415.3" width="4.0" height="3.5" fill="#40ffd0"/><rect x="250.1" y="1409.9" width="3.0" height="2.5" fill="#00e0ff"/><rect x="252.8" y="1411.0" width="4.0" height="2.5" fill="#00e0ff"/><rect x="247.2" y="1405.2" width="4.0" height="3.5" fill="#ffff40"/><rect x="250.4" y="1406.4" width="4.0" height="2.5" fill="#ffff40"/><rect x="254.7" y="1408.1" width="3.0" height="4.5" fill="#ffff40"/><rect x="252.3" y="1403.5" width="3.0" height="2.5" fill="#ffff40"/><rect x="253.7" y="1400.4" width="3.0" height="4.5" fill="#00a0ff"/><rect x="257.7" y="1401.9" width="2.5" height="2.5" fill="#ffff40"/><rect x="251.0" y="1394.4" width="4.0" height="4.5" fill="#00e0ff"/><rect x="255.4" y="1396.1" width="3.0" height="4.5" fill="#ffff40"/><rect x="259.9" y="1397.8" width="3.0" height="3.5" fill="#00e0ff"/><rect x="249.9" y="1392.0" width="2.5" height="4.5" fill="#ffd000"/><rect x="255.5" y="1394.1" width="2.5" height="2.5" fill="#ffff40"/><rect x="260.2" y="1395.9" width="3.0" height="4.5" fill="#ffff40"/><rect x="252.1" y="1388.8" width="2.5" height="2.5" fill="#80ff80"/><rect x="256.2" y="1390.4" width="2.5" height="3.5" fill="#00e0ff"/><rect x="252.5" y="1386.1" width="4.0" height="4.5" fill="#00a0ff"/><rect x="256.6" y="1388.9" width="3.0" height="4.5" fill="#00e0ff"/><rect x="254.6" y="1382.9" width="2.5" height="2.5" fill="#80ff80"/><rect x="258.9" y="1385.9" width="2.5" height="3.5" fill="#ffff40"/><rect x="257.2" y="1381.3" width="4.0" height="2.5" fill="#00a0ff"/><rect x="260.5" y="1383.6" width="2.5" height="4.5" fill="#80ff80"/><rect x="264.6" y="1386.3" width="3.0" height="2.5" fill="#00a0ff"/><rect x="260.2" y="1379.3" width="3.0" height="3.5" fill="#ffff40"/><rect x="262.2" y="1380.6" width="4.0" height="3.5" fill="#00a0ff"/><rect x="267.3" y="1384.1" width="2.5" height="4.5" fill="#00e0ff"/><rect x="268.0" y="1376.0" width="2.5" height="3.5" fill="#00a0ff"/><rect x="268.6" y="1371.8" width="2.5" height="3.5" fill="#00e0ff"/><rect x="266.4" y="1366.9" width="2.5" height="3.5" fill="#00e0ff"/><rect x="270.1" y="1369.4" width="3.0" height="4.5" fill="#00a0ff"/><rect x="268.8" y="1362.7" width="3.0" height="2.5" fill="#00e0ff"/><rect x="273.6" y="1365.9" width="3.0" height="4.5" fill="#00e0ff"/><rect x="277.7" y="1368.7" width="3.0" height="4.5" fill="#40ffd0"/><rect x="270.3" y="1360.2" width="2.5" height="4.5" fill="#00a0ff"/><rect x="275.0" y="1363.4" width="4.0" height="2.5" fill="#40ffd0"/><rect x="278.1" y="1365.4" width="4.0" height="3.5" fill="#ffff40"/><rect x="273.6" y="1359.2" width="4.0" height="3.5" fill="#ffff40"/><rect x="276.6" y="1362.2" width="2.5" height="4.5" fill="#00e0ff"/><rect x="279.2" y="1360.9" width="2.5" height="3.5" fill="#00e0ff"/><rect x="281.6" y="1363.3" width="3.0" height="4.5" fill="#00a0ff"/><rect x="278.0" y="1355.2" width="3.0" height="4.5" fill="#00a0ff"/><rect x="281.5" y="1358.7" width="4.0" height="2.5" fill="#80ff80"/><rect x="283.9" y="1361.1" width="3.0" height="2.5" fill="#00e0ff"/><rect x="282.5" y="1354.5" width="4.0" height="2.5" fill="#40ffd0"/><rect x="286.5" y="1358.5" width="2.5" height="4.5" fill="#ffff40"/><rect x="280.3" y="1349.2" width="4.0" height="3.5" fill="#40ffd0"/><rect x="285.4" y="1354.2" width="3.0" height="3.5" fill="#40ffd0"/><rect x="284.7" y="1347.5" width="4.0" height="4.5" fill="#ffff40"/><rect x="290.5" y="1353.3" width="4.0" height="2.5" fill="#ffd000"/><rect x="286.3" y="1343.5" width="3.0" height="2.5" fill="#ffff40"/><rect x="293.3" y="1350.4" width="2.5" height="2.5" fill="#ffd000"/><rect x="292.7" y="1344.8" width="3.0" height="2.5" fill="#ffff40"/><rect x="294.7" y="1344.5" width="2.5" height="4.5" fill="#00e0ff"/><rect x="297.6" y="1347.4" width="3.0" height="2.5" fill="#00a0ff"/><rect x="293.3" y="1337.6" width="4.0" height="3.5" fill="#00a0ff"/><rect x="296.1" y="1340.4" width="4.0" height="4.5" fill="#00a0ff"/><rect x="301.2" y="1345.6" width="2.5" height="2.5" fill="#40ffd0"/><rect x="296.4" y="1336.8" width="3.0" height="2.5" fill="#ffff40"/><rect x="301.0" y="1337.7" width="4.0" height="3.5" fill="#ffff40"/><rect x="302.7" y="1340.3" width="3.0" height="2.5" fill="#ffff40"/><rect x="299.7" y="1331.1" width="2.5" height="4.5" fill="#ffd000"/><rect x="306.0" y="1341.0" width="2.5" height="3.5" fill="#ffff40"/><rect x="304.9" y="1330.7" width="2.5" height="4.5" fill="#ffff40"/><rect x="306.3" y="1327.1" width="4.0" height="3.5" fill="#ffd000"/><rect x="309.1" y="1331.4" width="4.0" height="4.5" fill="#ffff40"/><rect x="311.7" y="1335.5" width="3.0" height="2.5" fill="#00e0ff"/><rect x="310.2" y="1330.6" width="2.5" height="3.5" fill="#ffff40"/><rect x="313.7" y="1336.0" width="4.0" height="3.5" fill="#80ff80"/><rect x="316.2" y="1332.2" width="3.0" height="2.5" fill="#00e0ff"/><rect x="319.6" y="1330.5" width="2.5" height="2.5" fill="#00e0ff"/><rect x="318.4" y="1325.3" width="4.0" height="3.5" fill="#40ffd0"/><rect x="319.5" y="1318.9" width="2.5" height="3.5" fill="#ffd000"/><rect x="322.2" y="1323.2" width="3.0" height="3.5" fill="#00e0ff"/><rect x="321.8" y="1318.2" width="2.5" height="3.5" fill="#ffd000"/><rect x="322.1" y="1323.5" width="3.0" height="3.5" fill="#40ffd0"/><rect x="322.3" y="1327.6" width="2.5" height="3.5" fill="#00e0ff"/><rect x="325.0" y="1319.1" width="2.5" height="3.5" fill="#80ff80"/><rect x="325.2" y="1323.0" width="4.0" height="4.5" fill="#ffff40"/><rect x="328.5" y="1327.5" width="2.5" height="4.5" fill="#ffff40"/><rect x="334.0" y="1318.3" width="4.0" height="4.5" fill="#00e0ff"/><rect x="339.4" y="1321.6" width="2.5" height="3.5" fill="#00a0ff"/><rect x="343.9" y="1318.7" width="4.0" height="4.5" fill="#40ffd0"/><rect x="342.9" y="1323.4" width="2.5" height="3.5" fill="#ffd000"/><rect x="341.9" y="1327.9" width="4.0" height="4.5" fill="#00e0ff"/><rect x="348.3" y="1318.4" width="4.0" height="3.5" fill="#ffff40"/><rect x="351.0" y="1318.2" width="4.0" height="4.5" fill="#ffd000"/><rect x="352.9" y="1319.7" width="4.0" height="2.5" fill="#40ffd0"/><rect x="350.9" y="1329.1" width="3.0" height="3.5" fill="#ffff40"/><rect x="356.4" y="1325.0" width="3.0" height="2.5" fill="#40ffd0"/><rect x="355.6" y="1328.7" width="3.0" height="3.5" fill="#ffff40"/><rect x="358.3" y="1326.3" width="4.0" height="4.5" fill="#ffff40"/><rect x="357.5" y="1330.0" width="2.5" height="4.5" fill="#ffd000"/><rect x="362.7" y="1323.0" width="2.5" height="2.5" fill="#80ff80"/><rect x="361.8" y="1326.8" width="3.0" height="3.5" fill="#ffff40"/><rect x="366.4" y="1321.5" width="2.5" height="3.5" fill="#00a0ff"/><rect x="372.4" y="1323.7" width="3.0" height="3.5" fill="#40ffd0"/><rect x="375.3" y="1325.1" width="2.5" height="3.5" fill="#ffff40"/><rect x="374.5" y="1329.0" width="3.0" height="2.5" fill="#00a0ff"/><rect x="377.1" y="1335.4" width="4.0" height="3.5" fill="#00e0ff"/><rect x="377.3" y="1333.2" width="2.5" height="3.5" fill="#ffff40"/><rect x="384.7" y="1327.1" width="3.0" height="4.5" fill="#ffd000"/><rect x="382.0" y="1332.1" width="2.5" height="2.5" fill="#80ff80"/><rect x="386.5" y="1330.0" width="3.0" height="3.5" fill="#00e0ff"/><rect x="382.9" y="1336.5" width="2.5" height="2.5" fill="#00e0ff"/><rect x="390.6" y="1330.5" width="3.0" height="4.5" fill="#00a0ff"/><rect x="388.6" y="1334.1" width="3.0" height="3.5" fill="#80ff80"/><rect x="393.2" y="1333.4" width="3.0" height="4.5" fill="#ffff40"/><rect x="389.1" y="1341.1" width="2.5" height="3.5" fill="#00e0ff"/><rect x="397.9" y="1335.6" width="3.0" height="2.5" fill="#80ff80"/><rect x="395.9" y="1339.4" width="4.0" height="3.5" fill="#ffff40"/><rect x="393.8" y="1343.3" width="3.0" height="2.5" fill="#ffff40"/><rect x="401.6" y="1335.9" width="4.0" height="4.5" fill="#40ffd0"/><rect x="403.4" y="1336.7" width="2.5" height="4.5" fill="#ffff40"/><rect x="404.7" y="1339.5" width="4.0" height="2.5" fill="#80ff80"/><rect x="400.7" y="1342.6" width="3.0" height="3.5" fill="#00e0ff"/><rect x="396.4" y="1346.0" width="4.0" height="3.5" fill="#00e0ff"/><rect x="407.5" y="1343.3" width="3.0" height="4.5" fill="#00e0ff"/><rect x="403.7" y="1346.2" width="4.0" height="4.5" fill="#80ff80"/><rect x="400.7" y="1348.6" width="4.0" height="4.5" fill="#ffff40"/><rect x="408.0" y="1345.6" width="2.5" height="3.5" fill="#00a0ff"/><rect x="404.8" y="1348.1" width="3.0" height="4.5" fill="#80ff80"/><rect x="402.0" y="1350.3" width="4.0" height="4.5" fill="#ffd000"/><rect x="410.7" y="1346.8" width="2.5" height="3.5" fill="#00e0ff"/><rect x="405.4" y="1350.9" width="2.5" height="4.5" fill="#ffd000"/><rect x="403.2" y="1352.6" width="3.0" height="3.5" fill="#00e0ff"/><rect x="412.8" y="1351.5" width="2.5" height="2.5" fill="#80ff80"/><rect x="408.9" y="1354.5" width="2.5" height="4.5" fill="#80ff80"/><rect x="405.8" y="1356.9" width="4.0" height="2.5" fill="#00a0ff"/></g>
</g>
<line x1="370.5" y1="1332" x2="370.5" y2="1762" stroke="#fff" stroke-width="3.4" stroke-dasharray="14 10.5"/>
<polygon points="370.5,1313 362,1333 379,1333" fill="#fff"/>
<polygon points="370.5,1781 361,1759 380,1759" fill="#fff"/>
<line x1="176" y1="1561.5" x2="541" y2="1561.5" stroke="#fff" stroke-width="3"/>
<polygon points="159,1561.500000 182,1551.500000 182,1571.500000" fill="#fff"/>
<polygon points="558,1561.500000 535,1551.500000 535,1571.500000" fill="#fff"/>
<text x="178" y="1537.5" font-size="40" fill="#fff" textLength="185.5" lengthAdjust="spacingAndGlyphs">z-profile x</text>
<text transform="translate(406,1584) rotate(90)" font-size="40" fill="#fff" textLength="186" lengthAdjust="spacingAndGlyphs">z-profile y</text>

<rect x="611.500000" y="1314" width="57" height="467" fill="url(#jet)" stroke="#404040" stroke-width="1.5"/>
<g stroke="#303030" stroke-width="1.5"><line x1="668.5" y1="1359" x2="663" y2="1359"/><line x1="668.5" y1="1443.5" x2="663" y2="1443.5"/><line x1="668.5" y1="1528.5" x2="663" y2="1528.5"/><line x1="668.5" y1="1613.5" x2="663" y2="1613.5"/><line x1="668.5" y1="1698.5" x2="663" y2="1698.5"/></g>
<g font-size="43.5" fill="#303030"><text x="684" y="1376.5">1</text><text x="681.5" y="1462.5" textLength="58.5" lengthAdjust="spacingAndGlyphs">0.8</text><text x="681.5" y="1547.5" textLength="58.5" lengthAdjust="spacingAndGlyphs">0.6</text><text x="681.5" y="1632.5" textLength="58.5" lengthAdjust="spacingAndGlyphs">0.4</text><text x="681.5" y="1717.5" textLength="58.5" lengthAdjust="spacingAndGlyphs">0.2</text></g>
<g font-size="45" fill="#303030" text-anchor="end"><text transform="translate(95.5,1332.5) scale(1,1.07)">0</text><text transform="translate(95.5,1520.5) scale(1,1.07)">2</text><text transform="translate(95.5,1707) scale(1,1.07)">4</text></g>
<g font-size="45" fill="#303030" text-anchor="middle"><text transform="translate(110.5,1846) scale(1,1.07)">0</text><text transform="translate(315,1846) scale(1,1.07)">2</text><text transform="translate(520.5,1846) scale(1,1.07)">4</text></g>
<text x="276.5" y="1907.5" font-size="49" fill="#303030" textLength="138" lengthAdjust="spacingAndGlyphs">X, mm</text>
<text transform="translate(50,1616.5) rotate(-90)" font-size="49" fill="#303030" textLength="142" lengthAdjust="spacingAndGlyphs">Y, mm</text>
<text x="210.5" y="1291.5" font-size="47" fill="#1a1a1a" textLength="273" lengthAdjust="spacingAndGlyphs">Heigths map</text>
</g>
<!-- ===== line chart (bottom right) ===== -->
<g id="linechart">
<g stroke="#e0e0e0" stroke-width="2" fill="none">
<line x1="1124" y1="1310" x2="1124" y2="1785"/>
<line x1="1313" y1="1310" x2="1313" y2="1785"/>
<line x1="935" y1="1389" x2="1410" y2="1389"/>
<line x1="935" y1="1488.5" x2="1410" y2="1488.5"/>
<line x1="935" y1="1588" x2="1410" y2="1588"/>
<line x1="935" y1="1687" x2="1410" y2="1687"/>
</g>
<clipPath id="lcclip"><rect x="925" y="1309" width="490" height="478"/></clipPath>
<g clip-path="url(#lcclip)" fill="none" stroke="#000" stroke-linejoin="round" stroke-linecap="butt">
<path stroke-width="5" d="M931.5,1350 L935,1335 L938,1316 L940,1300 L941.5,1316 L942.5,1360 L943.5,1420 L944.5,1457 L947,1461 L950,1466 L951,1520 L952,1584 L953.5,1520 L955,1460 L956.5,1426 L958.5,1422 L960,1424 L960.8,1400 L961.6,1360 L962.6,1346 L964.5,1354 L966,1362 L972,1367 L980,1373 L991,1381 L999,1389 L1007,1399 L1013,1411 L1018,1424 L1022,1440 L1025,1452 L1029,1463 L1033,1470 L1038,1480 L1044,1491 L1050,1504 L1056,1518 L1062,1531 L1068,1544 L1073,1558 L1078,1573 L1084,1588 L1090,1602 L1096,1614 L1103,1625 L1110,1634 L1118,1644 L1126,1653 L1134,1663 L1142,1675 L1150,1688 L1157,1700 L1163,1710 L1168,1717 L1172,1720 L1176,1720.5 L1180,1718.5 L1184,1714 L1189,1706 L1193,1699 L1196,1695 L1199,1698 L1203,1703 L1208,1708 L1214,1714 L1220,1719 L1226,1722.5 L1233,1724.5 L1242,1726 L1250,1729 L1260,1733 L1272,1737.5 L1286,1741.5 L1300,1744 L1314,1745.5 L1326,1745.5 L1340,1745"/>
<path stroke-width="5" stroke-dasharray="17 14" d="M1015,1552 L1016.5,1580 L1019,1604 L1022,1624 L1025,1645 L1028,1668 L1031,1690 L1033.5,1715 L1036,1738 L1040,1753 L1046,1741 L1050,1745 L1058,1752 L1066,1759 L1076,1764 L1090,1766.5 L1104,1766.5 L1110,1760 L1116,1749 L1123,1733 L1130,1717 L1138,1703 L1146,1693 L1155,1687.5 L1166,1687 L1177,1687 L1182,1681 L1187,1674 L1193,1665 L1199,1658 L1206,1654 L1211,1656 L1215,1662 L1218,1675 L1220.5,1690 L1223,1708 L1226,1728 L1230,1744 L1235,1757 L1243,1769 L1252,1777 L1260,1780 L1274,1780 L1282,1775 L1290,1767 L1298,1757 L1306,1746 L1314,1738 L1321,1733 L1326,1738 L1337,1736.5 L1337.5,1750 L1337.5,1790"/>
</g>
<rect x="934.5" y="1310" width="475.5" height="475" fill="none" stroke="#5a5a5a" stroke-width="2.6"/>
<g stroke="#505050" stroke-width="2">
<line x1="1029.500000" y1="1785" x2="1029.500000" y2="1780"/><line x1="1218.5" y1="1785" x2="1218.5" y2="1780"/>
<line x1="1124" y1="1785" x2="1124" y2="1779"/><line x1="1313" y1="1785" x2="1313" y2="1779"/>
<line x1="1124" y1="1310" x2="1124" y2="1316"/><line x1="1313" y1="1310" x2="1313" y2="1316"/>
<line x1="935" y1="1389" x2="941" y2="1389"/><line x1="935" y1="1488.5" x2="941" y2="1488.5"/><line x1="935" y1="1588" x2="941" y2="1588"/><line x1="935" y1="1687" x2="941" y2="1687"/>
<line x1="1410" y1="1389" x2="1404" y2="1389"/><line x1="1410" y1="1488.5" x2="1404" y2="1488.5"/><line x1="1410" y1="1588" x2="1404" y2="1588"/><line x1="1410" y1="1687" x2="1404" y2="1687"/>
</g>
<!-- legend -->
<rect x="1104" y="1339" width="275.500000" height="106.500000" fill="#fff" stroke="#404040" stroke-width="2.500000"/>
<line x1="1114.5" y1="1367.5" x2="1201" y2="1367.5" stroke="#000" stroke-width="5.5"/>
<line x1="1114.5" y1="1418.5" x2="1201" y2="1418.5" stroke="#000" stroke-width="5.5" stroke-dasharray="17.5 17"/>
<text x="1206.5" y="1382" font-size="37.5" fill="#1a1a1a" textLength="165" lengthAdjust="spacingAndGlyphs">z-profile x</text>
<text x="1206.5" y="1433" font-size="37.5" fill="#1a1a1a" textLength="165" lengthAdjust="spacingAndGlyphs">z-profile y</text>
<!-- tick labels -->
<g font-size="44.5" fill="#303030" text-anchor="end">
<text transform="translate(914.5,1409.5) scale(1,1.1)">800</text><text transform="translate(914.5,1509) scale(1,1.1)">600</text><text transform="translate(914.5,1608.5) scale(1,1.1)">400</text><text transform="translate(914.5,1707.5) scale(1,1.1)">200</text><text transform="translate(914.5,1806.5) scale(1,1.1)">0</text>
</g>
<g font-size="44.5" fill="#303030" text-anchor="middle">
<text transform="translate(933,1848.5) scale(1,1.07)">0</text><text transform="translate(1122.5,1848.5) scale(1,1.07)">2000</text><text transform="translate(1313,1848.5) scale(1,1.07)">4000</text>
</g>
<g font-size="43" fill="#303030">
<text x="1092" y="1906.500000">X/Y,</text><text x="1187" y="1906.500000" font-family="Liberation Serif" font-style="italic" font-size="46" textLength="27" lengthAdjust="spacingAndGlyphs">µ</text><text x="1216" y="1906.500000">m</text>
<g transform="translate(822.5,1606) rotate(-90)"><text x="0" y="0">Z,</text><text x="55" y="0" font-family="Liberation Serif" font-style="italic" font-size="46" textLength="27" lengthAdjust="spacingAndGlyphs">µ</text><text x="83.500000" y="0">m</text></g>
</g>
<!-- annotations -->
<text x="1178" y="1512.500000" font-size="41" fill="#000" textLength="104" lengthAdjust="spacingAndGlyphs">strata</text>
<g stroke="#000" stroke-width="2" fill="none">
<line x1="1154" y1="1495" x2="1038" y2="1488.5" marker-end="url(#ah)"/>
<line x1="1171" y1="1522" x2="1110" y2="1612" marker-end="url(#ah)"/>
<line x1="1192.5" y1="1538" x2="1192.5" y2="1692" marker-end="url(#ahs)"/>
</g>
</g>

</g>
</svg>
</body></html>
